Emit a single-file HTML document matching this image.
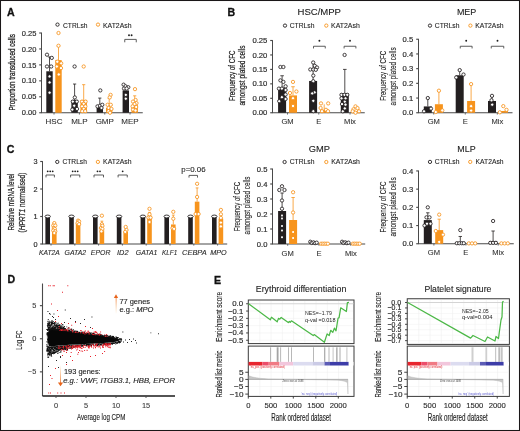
<!DOCTYPE html>
<html><head><meta charset="utf-8"><style>
html,body{margin:0;padding:0;background:#fff;width:520px;height:431px;overflow:hidden}
svg{display:block;will-change:transform}
</style></head><body>
<svg width="520" height="431" viewBox="0 0 520 431">
<rect width="520" height="431" fill="#fff"/>
<rect x="0.5" y="0.5" width="519" height="430" fill="none" stroke="#1a1718" stroke-width="1.05"/>
<text x="7.10" y="16.10" font-family="Liberation Sans" font-size="10.6" fill="#111" font-weight="bold" font-style="normal" text-anchor="start" stroke="#111" stroke-width="0.3" >A</text>
<text x="227.40" y="16.10" font-family="Liberation Sans" font-size="10.6" fill="#111" font-weight="bold" font-style="normal" text-anchor="start" stroke="#111" stroke-width="0.3" >B</text>
<text x="6.80" y="153.20" font-family="Liberation Sans" font-size="10.6" fill="#111" font-weight="bold" font-style="normal" text-anchor="start" stroke="#111" stroke-width="0.3" >C</text>
<text x="7.40" y="283.30" font-family="Liberation Sans" font-size="10.6" fill="#111" font-weight="bold" font-style="normal" text-anchor="start" stroke="#111" stroke-width="0.3" >D</text>
<text x="214.10" y="283.60" font-family="Liberation Sans" font-size="10.6" fill="#111" font-weight="bold" font-style="normal" text-anchor="start" stroke="#111" stroke-width="0.3" >E</text>
<line x1="41.50" y1="32.60" x2="41.50" y2="113.15" stroke="#4a4a4a" stroke-width="1.0" />
<line x1="39.20" y1="33.00" x2="41.50" y2="33.00" stroke="#4a4a4a" stroke-width="1.15" />
<text x="36.40" y="35.60" font-family="Liberation Sans" font-size="7.3" fill="#2e2e2e" font-weight="normal" font-style="normal" text-anchor="end" textLength="14.60" lengthAdjust="spacingAndGlyphs" stroke="#2e2e2e" stroke-width="0.18" >0.25</text>
<line x1="39.20" y1="48.95" x2="41.50" y2="48.95" stroke="#4a4a4a" stroke-width="1.15" />
<text x="36.40" y="51.55" font-family="Liberation Sans" font-size="7.3" fill="#2e2e2e" font-weight="normal" font-style="normal" text-anchor="end" textLength="14.60" lengthAdjust="spacingAndGlyphs" stroke="#2e2e2e" stroke-width="0.18" >0.20</text>
<line x1="39.20" y1="64.90" x2="41.50" y2="64.90" stroke="#4a4a4a" stroke-width="1.15" />
<text x="36.40" y="67.50" font-family="Liberation Sans" font-size="7.3" fill="#2e2e2e" font-weight="normal" font-style="normal" text-anchor="end" textLength="14.60" lengthAdjust="spacingAndGlyphs" stroke="#2e2e2e" stroke-width="0.18" >0.15</text>
<line x1="39.20" y1="80.85" x2="41.50" y2="80.85" stroke="#4a4a4a" stroke-width="1.15" />
<text x="36.40" y="83.45" font-family="Liberation Sans" font-size="7.3" fill="#2e2e2e" font-weight="normal" font-style="normal" text-anchor="end" textLength="14.60" lengthAdjust="spacingAndGlyphs" stroke="#2e2e2e" stroke-width="0.18" >0.10</text>
<line x1="39.20" y1="96.80" x2="41.50" y2="96.80" stroke="#4a4a4a" stroke-width="1.15" />
<text x="36.40" y="99.40" font-family="Liberation Sans" font-size="7.3" fill="#2e2e2e" font-weight="normal" font-style="normal" text-anchor="end" textLength="14.60" lengthAdjust="spacingAndGlyphs" stroke="#2e2e2e" stroke-width="0.18" >0.05</text>
<line x1="39.20" y1="112.75" x2="41.50" y2="112.75" stroke="#4a4a4a" stroke-width="1.15" />
<text x="36.40" y="115.35" font-family="Liberation Sans" font-size="7.3" fill="#2e2e2e" font-weight="normal" font-style="normal" text-anchor="end" textLength="14.60" lengthAdjust="spacingAndGlyphs" stroke="#2e2e2e" stroke-width="0.18" >0.00</text>
<line x1="41.50" y1="112.75" x2="142.75" y2="112.75" stroke="#4a4a4a" stroke-width="1.1" />
<circle cx="57.50" cy="24.60" r="1.65" fill="#fff" stroke="#231f20" stroke-width="0.9"/>
<text x="63.00" y="27.60" font-family="Liberation Sans" font-size="7.2" fill="#1e1e1e" font-weight="normal" font-style="normal" text-anchor="start" textLength="24.50" lengthAdjust="spacingAndGlyphs" stroke="#1e1e1e" stroke-width="0.1" >CTRLsh</text>
<circle cx="98.00" cy="24.60" r="1.65" fill="#fff" stroke="#f7941d" stroke-width="0.9"/>
<text x="103.00" y="27.60" font-family="Liberation Sans" font-size="7.2" fill="#1e1e1e" font-weight="normal" font-style="normal" text-anchor="start" textLength="28.50" lengthAdjust="spacingAndGlyphs" stroke="#1e1e1e" stroke-width="0.1" >KAT2Ash</text>
<text transform="translate(15.01,110.60) rotate(-90)" x="0" y="0" font-family="Liberation Sans" font-size="8.4" fill="#222" stroke="#222" stroke-width="0.28" font-style="normal" textLength="76.40" lengthAdjust="spacingAndGlyphs">Proportion transduced cells</text>
<line x1="54.00" y1="112.75" x2="54.00" y2="114.55" stroke="#4a4a4a" stroke-width="0.8" />
<text x="54.00" y="124.40" font-family="Liberation Sans" font-size="8.0" fill="#333" font-weight="normal" font-style="normal" text-anchor="middle" stroke="#333" stroke-width="0.1" >HSC</text>
<line x1="79.40" y1="112.75" x2="79.40" y2="114.55" stroke="#4a4a4a" stroke-width="0.8" />
<text x="79.40" y="124.40" font-family="Liberation Sans" font-size="8.0" fill="#333" font-weight="normal" font-style="normal" text-anchor="middle" stroke="#333" stroke-width="0.1" >MLP</text>
<line x1="104.75" y1="112.75" x2="104.75" y2="114.55" stroke="#4a4a4a" stroke-width="0.8" />
<text x="104.75" y="124.40" font-family="Liberation Sans" font-size="8.0" fill="#333" font-weight="normal" font-style="normal" text-anchor="middle" stroke="#333" stroke-width="0.1" >GMP</text>
<line x1="130.00" y1="112.75" x2="130.00" y2="114.55" stroke="#4a4a4a" stroke-width="0.8" />
<text x="130.00" y="124.40" font-family="Liberation Sans" font-size="8.0" fill="#333" font-weight="normal" font-style="normal" text-anchor="middle" stroke="#333" stroke-width="0.1" >MEP</text>
<rect x="46.30" y="71.28" width="6.40" height="41.47" fill="#231f20" />
<line x1="49.50" y1="71.28" x2="49.50" y2="56.93" stroke="#231f20" stroke-width="0.8" />
<line x1="47.90" y1="56.93" x2="51.10" y2="56.93" stroke="#231f20" stroke-width="0.8" />
<rect x="55.30" y="60.12" width="6.40" height="52.63" fill="#f7941d" />
<line x1="58.50" y1="60.12" x2="58.50" y2="45.76" stroke="#f7941d" stroke-width="0.8" />
<line x1="56.90" y1="45.76" x2="60.10" y2="45.76" stroke="#f7941d" stroke-width="0.8" />
<circle cx="47.00" cy="54.69" r="1.65" fill="#fff" stroke="#231f20" stroke-width="0.85"/>
<circle cx="51.80" cy="57.88" r="1.65" fill="#fff" stroke="#231f20" stroke-width="0.85"/>
<circle cx="47.00" cy="66.50" r="1.65" fill="#fff" stroke="#231f20" stroke-width="0.85"/>
<circle cx="51.20" cy="66.50" r="1.65" fill="#fff" stroke="#231f20" stroke-width="0.85"/>
<circle cx="49.60" cy="76.38" r="1.65" fill="#fff" stroke="#231f20" stroke-width="0.85"/>
<circle cx="49.60" cy="82.45" r="1.65" fill="#fff" stroke="#231f20" stroke-width="0.85"/>
<circle cx="49.60" cy="92.65" r="1.65" fill="#fff" stroke="#231f20" stroke-width="0.85"/>
<circle cx="58.50" cy="33.00" r="1.65" fill="#fff" stroke="#f7941d" stroke-width="0.85"/>
<circle cx="58.50" cy="45.76" r="1.65" fill="#fff" stroke="#f7941d" stroke-width="0.85"/>
<circle cx="57.30" cy="61.71" r="1.65" fill="#fff" stroke="#f7941d" stroke-width="0.85"/>
<circle cx="61.20" cy="63.31" r="1.65" fill="#fff" stroke="#f7941d" stroke-width="0.85"/>
<circle cx="56.80" cy="66.50" r="1.65" fill="#fff" stroke="#f7941d" stroke-width="0.85"/>
<circle cx="61.00" cy="68.09" r="1.65" fill="#fff" stroke="#f7941d" stroke-width="0.85"/>
<circle cx="58.80" cy="74.47" r="1.65" fill="#fff" stroke="#f7941d" stroke-width="0.85"/>
<rect x="71.40" y="99.99" width="6.40" height="12.76" fill="#231f20" />
<line x1="74.60" y1="99.99" x2="74.60" y2="84.04" stroke="#231f20" stroke-width="0.8" />
<line x1="73.00" y1="84.04" x2="76.20" y2="84.04" stroke="#231f20" stroke-width="0.8" />
<rect x="80.50" y="99.99" width="6.40" height="12.76" fill="#f7941d" />
<line x1="83.70" y1="99.99" x2="83.70" y2="84.68" stroke="#f7941d" stroke-width="0.8" />
<line x1="82.10" y1="84.68" x2="85.30" y2="84.68" stroke="#f7941d" stroke-width="0.8" />
<circle cx="74.60" cy="66.50" r="1.65" fill="#fff" stroke="#231f20" stroke-width="0.85"/>
<circle cx="74.80" cy="97.44" r="1.65" fill="#fff" stroke="#231f20" stroke-width="0.85"/>
<circle cx="72.80" cy="101.59" r="1.65" fill="#fff" stroke="#231f20" stroke-width="0.85"/>
<circle cx="76.80" cy="101.59" r="1.65" fill="#fff" stroke="#231f20" stroke-width="0.85"/>
<circle cx="74.20" cy="105.73" r="1.65" fill="#fff" stroke="#231f20" stroke-width="0.85"/>
<circle cx="72.30" cy="109.56" r="1.65" fill="#fff" stroke="#231f20" stroke-width="0.85"/>
<circle cx="77.00" cy="108.92" r="1.65" fill="#fff" stroke="#231f20" stroke-width="0.85"/>
<circle cx="83.70" cy="66.50" r="1.65" fill="#fff" stroke="#f7941d" stroke-width="0.85"/>
<circle cx="82.00" cy="101.59" r="1.65" fill="#fff" stroke="#f7941d" stroke-width="0.85"/>
<circle cx="85.60" cy="101.59" r="1.65" fill="#fff" stroke="#f7941d" stroke-width="0.85"/>
<circle cx="83.70" cy="103.82" r="1.65" fill="#fff" stroke="#f7941d" stroke-width="0.85"/>
<circle cx="82.00" cy="106.37" r="1.65" fill="#fff" stroke="#f7941d" stroke-width="0.85"/>
<circle cx="85.40" cy="106.37" r="1.65" fill="#fff" stroke="#f7941d" stroke-width="0.85"/>
<circle cx="83.70" cy="108.92" r="1.65" fill="#fff" stroke="#f7941d" stroke-width="0.85"/>
<circle cx="82.20" cy="111.16" r="1.65" fill="#fff" stroke="#f7941d" stroke-width="0.85"/>
<circle cx="85.20" cy="111.16" r="1.65" fill="#fff" stroke="#f7941d" stroke-width="0.85"/>
<rect x="96.60" y="107.33" width="6.40" height="5.42" fill="#231f20" />
<line x1="99.80" y1="107.33" x2="99.80" y2="98.08" stroke="#231f20" stroke-width="0.8" />
<line x1="98.20" y1="98.08" x2="101.40" y2="98.08" stroke="#231f20" stroke-width="0.8" />
<rect x="106.00" y="107.97" width="6.40" height="4.78" fill="#f7941d" />
<line x1="109.20" y1="107.97" x2="109.20" y2="98.40" stroke="#f7941d" stroke-width="0.8" />
<line x1="107.60" y1="98.40" x2="110.80" y2="98.40" stroke="#f7941d" stroke-width="0.8" />
<circle cx="100.30" cy="90.42" r="1.65" fill="#fff" stroke="#231f20" stroke-width="0.85"/>
<circle cx="97.50" cy="106.37" r="1.65" fill="#fff" stroke="#231f20" stroke-width="0.85"/>
<circle cx="100.00" cy="105.73" r="1.65" fill="#fff" stroke="#231f20" stroke-width="0.85"/>
<circle cx="102.30" cy="104.78" r="1.65" fill="#fff" stroke="#231f20" stroke-width="0.85"/>
<circle cx="101.50" cy="107.97" r="1.65" fill="#fff" stroke="#231f20" stroke-width="0.85"/>
<circle cx="110.60" cy="94.89" r="1.65" fill="#fff" stroke="#f7941d" stroke-width="0.85"/>
<circle cx="109.70" cy="97.44" r="1.65" fill="#fff" stroke="#f7941d" stroke-width="0.85"/>
<circle cx="107.60" cy="104.78" r="1.65" fill="#fff" stroke="#f7941d" stroke-width="0.85"/>
<circle cx="110.80" cy="104.78" r="1.65" fill="#fff" stroke="#f7941d" stroke-width="0.85"/>
<circle cx="108.60" cy="107.97" r="1.65" fill="#fff" stroke="#f7941d" stroke-width="0.85"/>
<circle cx="111.50" cy="108.92" r="1.65" fill="#fff" stroke="#f7941d" stroke-width="0.85"/>
<circle cx="108.50" cy="111.16" r="1.65" fill="#fff" stroke="#f7941d" stroke-width="0.85"/>
<circle cx="110.00" cy="112.75" r="1.65" fill="#fff" stroke="#f7941d" stroke-width="0.85"/>
<rect x="122.60" y="90.42" width="6.40" height="22.33" fill="#231f20" />
<line x1="125.80" y1="90.42" x2="125.80" y2="87.23" stroke="#231f20" stroke-width="0.8" />
<line x1="124.20" y1="87.23" x2="127.40" y2="87.23" stroke="#231f20" stroke-width="0.8" />
<rect x="131.50" y="104.78" width="6.40" height="7.97" fill="#f7941d" />
<line x1="134.70" y1="104.78" x2="134.70" y2="95.84" stroke="#f7941d" stroke-width="0.8" />
<line x1="133.10" y1="95.84" x2="136.30" y2="95.84" stroke="#f7941d" stroke-width="0.8" />
<circle cx="123.60" cy="84.68" r="1.65" fill="#fff" stroke="#231f20" stroke-width="0.85"/>
<circle cx="125.50" cy="86.27" r="1.65" fill="#fff" stroke="#231f20" stroke-width="0.85"/>
<circle cx="128.30" cy="87.23" r="1.65" fill="#fff" stroke="#231f20" stroke-width="0.85"/>
<circle cx="124.00" cy="88.51" r="1.65" fill="#fff" stroke="#231f20" stroke-width="0.85"/>
<circle cx="126.60" cy="88.51" r="1.65" fill="#fff" stroke="#231f20" stroke-width="0.85"/>
<circle cx="125.80" cy="94.89" r="1.65" fill="#fff" stroke="#231f20" stroke-width="0.85"/>
<circle cx="125.80" cy="98.71" r="1.65" fill="#fff" stroke="#231f20" stroke-width="0.85"/>
<circle cx="135.00" cy="89.14" r="1.65" fill="#fff" stroke="#f7941d" stroke-width="0.85"/>
<circle cx="135.60" cy="99.99" r="1.65" fill="#fff" stroke="#f7941d" stroke-width="0.85"/>
<circle cx="133.00" cy="101.59" r="1.65" fill="#fff" stroke="#f7941d" stroke-width="0.85"/>
<circle cx="136.50" cy="103.18" r="1.65" fill="#fff" stroke="#f7941d" stroke-width="0.85"/>
<circle cx="134.50" cy="104.14" r="1.65" fill="#fff" stroke="#f7941d" stroke-width="0.85"/>
<circle cx="132.60" cy="106.37" r="1.65" fill="#fff" stroke="#f7941d" stroke-width="0.85"/>
<circle cx="136.20" cy="107.01" r="1.65" fill="#fff" stroke="#f7941d" stroke-width="0.85"/>
<circle cx="133.00" cy="109.56" r="1.65" fill="#fff" stroke="#f7941d" stroke-width="0.85"/>
<circle cx="135.50" cy="110.52" r="1.65" fill="#fff" stroke="#f7941d" stroke-width="0.85"/>
<path d="M124.75 42.30 V39.40 H136.25 V42.30" fill="none" stroke="#4a4a4a" stroke-width="0.9"/>
<circle cx="129.00" cy="35.30" r="0.95" fill="#1e1e1e"/>
<circle cx="131.60" cy="35.30" r="0.95" fill="#1e1e1e"/>
<line x1="272.50" y1="40.10" x2="272.50" y2="113.15" stroke="#4a4a4a" stroke-width="1.0" />
<line x1="270.20" y1="40.50" x2="272.50" y2="40.50" stroke="#4a4a4a" stroke-width="1.15" />
<text x="267.40" y="43.10" font-family="Liberation Sans" font-size="7.3" fill="#2e2e2e" font-weight="normal" font-style="normal" text-anchor="end" textLength="15.00" lengthAdjust="spacingAndGlyphs" stroke="#2e2e2e" stroke-width="0.18" >0.25</text>
<line x1="270.20" y1="54.95" x2="272.50" y2="54.95" stroke="#4a4a4a" stroke-width="1.15" />
<text x="267.40" y="57.55" font-family="Liberation Sans" font-size="7.3" fill="#2e2e2e" font-weight="normal" font-style="normal" text-anchor="end" textLength="15.00" lengthAdjust="spacingAndGlyphs" stroke="#2e2e2e" stroke-width="0.18" >0.20</text>
<line x1="270.20" y1="69.40" x2="272.50" y2="69.40" stroke="#4a4a4a" stroke-width="1.15" />
<text x="267.40" y="72.00" font-family="Liberation Sans" font-size="7.3" fill="#2e2e2e" font-weight="normal" font-style="normal" text-anchor="end" textLength="15.00" lengthAdjust="spacingAndGlyphs" stroke="#2e2e2e" stroke-width="0.18" >0.15</text>
<line x1="270.20" y1="83.85" x2="272.50" y2="83.85" stroke="#4a4a4a" stroke-width="1.15" />
<text x="267.40" y="86.45" font-family="Liberation Sans" font-size="7.3" fill="#2e2e2e" font-weight="normal" font-style="normal" text-anchor="end" textLength="15.00" lengthAdjust="spacingAndGlyphs" stroke="#2e2e2e" stroke-width="0.18" >0.10</text>
<line x1="270.20" y1="98.30" x2="272.50" y2="98.30" stroke="#4a4a4a" stroke-width="1.15" />
<text x="267.40" y="100.90" font-family="Liberation Sans" font-size="7.3" fill="#2e2e2e" font-weight="normal" font-style="normal" text-anchor="end" textLength="15.00" lengthAdjust="spacingAndGlyphs" stroke="#2e2e2e" stroke-width="0.18" >0.05</text>
<line x1="270.20" y1="112.75" x2="272.50" y2="112.75" stroke="#4a4a4a" stroke-width="1.15" />
<text x="267.40" y="115.35" font-family="Liberation Sans" font-size="7.3" fill="#2e2e2e" font-weight="normal" font-style="normal" text-anchor="end" textLength="15.00" lengthAdjust="spacingAndGlyphs" stroke="#2e2e2e" stroke-width="0.18" >0.00</text>
<line x1="272.50" y1="112.75" x2="364.75" y2="112.75" stroke="#4a4a4a" stroke-width="1.1" />
<line x1="287.50" y1="112.75" x2="287.50" y2="114.55" stroke="#4a4a4a" stroke-width="0.8" />
<text x="287.50" y="124.35" font-family="Liberation Sans" font-size="7.6" fill="#333" font-weight="normal" font-style="normal" text-anchor="middle" stroke="#333" stroke-width="0.1" >GM</text>
<line x1="318.75" y1="112.75" x2="318.75" y2="114.55" stroke="#4a4a4a" stroke-width="0.8" />
<text x="318.75" y="124.35" font-family="Liberation Sans" font-size="7.6" fill="#333" font-weight="normal" font-style="normal" text-anchor="middle" stroke="#333" stroke-width="0.1" >E</text>
<line x1="350.00" y1="112.75" x2="350.00" y2="114.55" stroke="#4a4a4a" stroke-width="0.8" />
<text x="350.00" y="124.35" font-family="Liberation Sans" font-size="7.6" fill="#333" font-weight="normal" font-style="normal" text-anchor="middle" stroke="#333" stroke-width="0.1" >Mix</text>
<circle cx="285.00" cy="25.60" r="1.65" fill="#fff" stroke="#231f20" stroke-width="0.9"/>
<text x="289.70" y="27.75" font-family="Liberation Sans" font-size="7.0" fill="#1e1e1e" font-weight="normal" font-style="normal" text-anchor="start" textLength="24.70" lengthAdjust="spacingAndGlyphs" stroke="#1e1e1e" stroke-width="0.1" >CTRLsh</text>
<circle cx="326.30" cy="25.60" r="1.65" fill="#fff" stroke="#f7941d" stroke-width="0.9"/>
<text x="331.00" y="27.75" font-family="Liberation Sans" font-size="7.0" fill="#1e1e1e" font-weight="normal" font-style="normal" text-anchor="start" textLength="28.80" lengthAdjust="spacingAndGlyphs" stroke="#1e1e1e" stroke-width="0.1" >KAT2Ash</text>
<text x="297.50" y="15.20" font-family="Liberation Sans" font-size="8.8" fill="#222" font-weight="normal" font-style="normal" text-anchor="start" textLength="43.50" lengthAdjust="spacingAndGlyphs" stroke="#222" stroke-width="0.1" >HSC/MPP</text>
<text transform="translate(234.71,101.00) rotate(-90)" x="0" y="0" font-family="Liberation Sans" font-size="8.9" fill="#222" stroke="#222" stroke-width="0.22" font-style="normal" textLength="50.50" lengthAdjust="spacingAndGlyphs">Frequency of CFC</text>
<text transform="translate(245.21,105.60) rotate(-90)" x="0" y="0" font-family="Liberation Sans" font-size="8.9" fill="#222" stroke="#222" stroke-width="0.22" font-style="normal" textLength="60.10" lengthAdjust="spacingAndGlyphs">amongst plated cells</text>
<rect x="278.10" y="87.61" width="8.00" height="25.14" fill="#231f20" />
<line x1="282.10" y1="87.61" x2="282.10" y2="75.76" stroke="#231f20" stroke-width="0.8" />
<line x1="280.30" y1="75.76" x2="283.90" y2="75.76" stroke="#231f20" stroke-width="0.8" />
<rect x="289.00" y="95.41" width="8.00" height="17.34" fill="#f7941d" />
<line x1="293.00" y1="95.41" x2="293.00" y2="86.74" stroke="#f7941d" stroke-width="0.8" />
<line x1="291.20" y1="86.74" x2="294.80" y2="86.74" stroke="#f7941d" stroke-width="0.8" />
<circle cx="280.40" cy="67.00" r="1.65" fill="#fff" stroke="#231f20" stroke-width="0.85"/>
<circle cx="283.40" cy="67.00" r="1.65" fill="#fff" stroke="#231f20" stroke-width="0.85"/>
<circle cx="280.40" cy="80.40" r="1.65" fill="#fff" stroke="#231f20" stroke-width="0.85"/>
<circle cx="283.40" cy="81.90" r="1.65" fill="#fff" stroke="#231f20" stroke-width="0.85"/>
<circle cx="278.90" cy="88.60" r="1.65" fill="#fff" stroke="#231f20" stroke-width="0.85"/>
<circle cx="281.90" cy="88.60" r="1.65" fill="#fff" stroke="#231f20" stroke-width="0.85"/>
<circle cx="285.60" cy="86.30" r="1.65" fill="#fff" stroke="#231f20" stroke-width="0.85"/>
<circle cx="285.60" cy="90.00" r="1.65" fill="#fff" stroke="#231f20" stroke-width="0.85"/>
<circle cx="281.90" cy="97.20" r="1.65" fill="#fff" stroke="#231f20" stroke-width="0.85"/>
<circle cx="285.60" cy="94.50" r="1.65" fill="#fff" stroke="#231f20" stroke-width="0.85"/>
<circle cx="285.60" cy="99.00" r="1.65" fill="#fff" stroke="#231f20" stroke-width="0.85"/>
<circle cx="279.20" cy="101.20" r="1.65" fill="#fff" stroke="#231f20" stroke-width="0.85"/>
<circle cx="293.00" cy="81.90" r="1.65" fill="#fff" stroke="#f7941d" stroke-width="0.85"/>
<circle cx="290.00" cy="93.00" r="1.65" fill="#fff" stroke="#f7941d" stroke-width="0.85"/>
<circle cx="296.40" cy="91.50" r="1.65" fill="#fff" stroke="#f7941d" stroke-width="0.85"/>
<circle cx="293.00" cy="98.20" r="1.65" fill="#fff" stroke="#f7941d" stroke-width="0.85"/>
<circle cx="293.00" cy="106.00" r="1.65" fill="#fff" stroke="#f7941d" stroke-width="0.85"/>
<rect x="309.10" y="80.96" width="8.00" height="31.79" fill="#231f20" />
<line x1="313.10" y1="80.96" x2="313.10" y2="62.50" stroke="#231f20" stroke-width="0.8" />
<circle cx="313.20" cy="62.50" r="1.65" fill="#fff" stroke="#231f20" stroke-width="0.85"/>
<circle cx="314.80" cy="65.80" r="1.65" fill="#fff" stroke="#231f20" stroke-width="0.85"/>
<circle cx="317.00" cy="67.50" r="1.65" fill="#fff" stroke="#231f20" stroke-width="0.85"/>
<circle cx="310.30" cy="69.50" r="1.65" fill="#fff" stroke="#231f20" stroke-width="0.85"/>
<circle cx="313.30" cy="69.50" r="1.65" fill="#fff" stroke="#231f20" stroke-width="0.85"/>
<circle cx="315.80" cy="69.80" r="1.65" fill="#fff" stroke="#231f20" stroke-width="0.85"/>
<circle cx="313.30" cy="75.60" r="1.65" fill="#fff" stroke="#231f20" stroke-width="0.85"/>
<circle cx="313.30" cy="81.20" r="1.65" fill="#fff" stroke="#231f20" stroke-width="0.85"/>
<circle cx="314.60" cy="92.40" r="1.65" fill="#fff" stroke="#231f20" stroke-width="0.85"/>
<circle cx="312.20" cy="93.40" r="1.65" fill="#fff" stroke="#231f20" stroke-width="0.85"/>
<circle cx="313.30" cy="100.80" r="1.65" fill="#fff" stroke="#231f20" stroke-width="0.85"/>
<circle cx="313.30" cy="111.20" r="1.65" fill="#fff" stroke="#231f20" stroke-width="0.85"/>
<rect x="320.20" y="109.86" width="8.00" height="2.89" fill="#f7941d" />
<line x1="324.20" y1="109.86" x2="324.20" y2="104.40" stroke="#f7941d" stroke-width="0.8" />
<line x1="324.15" y1="104.40" x2="324.25" y2="104.40" stroke="#f7941d" stroke-width="0.8" />
<circle cx="321.00" cy="103.40" r="1.65" fill="#fff" stroke="#f7941d" stroke-width="0.85"/>
<circle cx="328.20" cy="103.40" r="1.65" fill="#fff" stroke="#f7941d" stroke-width="0.85"/>
<circle cx="320.60" cy="108.00" r="1.65" fill="#fff" stroke="#f7941d" stroke-width="0.85"/>
<circle cx="326.00" cy="109.80" r="1.65" fill="#fff" stroke="#f7941d" stroke-width="0.85"/>
<circle cx="322.00" cy="111.20" r="1.65" fill="#fff" stroke="#f7941d" stroke-width="0.85"/>
<circle cx="328.00" cy="111.20" r="1.65" fill="#fff" stroke="#f7941d" stroke-width="0.85"/>
<rect x="340.80" y="93.39" width="8.00" height="19.36" fill="#231f20" />
<line x1="344.80" y1="93.39" x2="344.80" y2="69.40" stroke="#231f20" stroke-width="0.8" />
<line x1="343.00" y1="69.40" x2="346.60" y2="69.40" stroke="#231f20" stroke-width="0.8" />
<circle cx="344.60" cy="54.95" r="1.65" fill="#fff" stroke="#231f20" stroke-width="0.85"/>
<circle cx="341.50" cy="94.83" r="1.65" fill="#fff" stroke="#231f20" stroke-width="0.85"/>
<circle cx="344.50" cy="94.83" r="1.65" fill="#fff" stroke="#231f20" stroke-width="0.85"/>
<circle cx="347.30" cy="94.83" r="1.65" fill="#fff" stroke="#231f20" stroke-width="0.85"/>
<circle cx="341.50" cy="98.30" r="1.65" fill="#fff" stroke="#231f20" stroke-width="0.85"/>
<circle cx="345.50" cy="98.30" r="1.65" fill="#fff" stroke="#231f20" stroke-width="0.85"/>
<circle cx="344.80" cy="101.77" r="1.65" fill="#fff" stroke="#231f20" stroke-width="0.85"/>
<circle cx="342.00" cy="104.08" r="1.65" fill="#fff" stroke="#231f20" stroke-width="0.85"/>
<circle cx="345.50" cy="104.66" r="1.65" fill="#fff" stroke="#231f20" stroke-width="0.85"/>
<circle cx="344.80" cy="108.42" r="1.65" fill="#fff" stroke="#231f20" stroke-width="0.85"/>
<circle cx="342.80" cy="111.31" r="1.65" fill="#fff" stroke="#231f20" stroke-width="0.85"/>
<rect x="351.70" y="111.02" width="8.00" height="1.73" fill="#f7941d" />
<circle cx="355.50" cy="106.39" r="1.65" fill="#fff" stroke="#f7941d" stroke-width="0.85"/>
<circle cx="353.50" cy="109.28" r="1.65" fill="#fff" stroke="#f7941d" stroke-width="0.85"/>
<circle cx="357.50" cy="108.13" r="1.65" fill="#fff" stroke="#f7941d" stroke-width="0.85"/>
<circle cx="352.70" cy="111.31" r="1.65" fill="#fff" stroke="#f7941d" stroke-width="0.85"/>
<circle cx="359.00" cy="111.31" r="1.65" fill="#fff" stroke="#f7941d" stroke-width="0.85"/>
<circle cx="355.50" cy="112.75" r="1.65" fill="#fff" stroke="#f7941d" stroke-width="0.85"/>
<path d="M313.50 48.45 V46.25 H325.25 V48.45" fill="none" stroke="#4a4a4a" stroke-width="0.9"/>
<circle cx="319.40" cy="40.80" r="0.95" fill="#1e1e1e"/>
<path d="M344.10 48.45 V46.25 H355.90 V48.45" fill="none" stroke="#4a4a4a" stroke-width="0.9"/>
<circle cx="350.00" cy="40.80" r="0.95" fill="#1e1e1e"/>
<line x1="418.50" y1="38.85" x2="418.50" y2="113.15" stroke="#4a4a4a" stroke-width="1.0" />
<line x1="416.20" y1="39.25" x2="418.50" y2="39.25" stroke="#4a4a4a" stroke-width="1.15" />
<text x="413.20" y="41.85" font-family="Liberation Sans" font-size="7.3" fill="#2e2e2e" font-weight="normal" font-style="normal" text-anchor="end" textLength="10.60" lengthAdjust="spacingAndGlyphs" stroke="#2e2e2e" stroke-width="0.18" >0.5</text>
<line x1="416.20" y1="53.95" x2="418.50" y2="53.95" stroke="#4a4a4a" stroke-width="1.15" />
<text x="413.20" y="56.55" font-family="Liberation Sans" font-size="7.3" fill="#2e2e2e" font-weight="normal" font-style="normal" text-anchor="end" textLength="10.60" lengthAdjust="spacingAndGlyphs" stroke="#2e2e2e" stroke-width="0.18" >0.4</text>
<line x1="416.20" y1="68.65" x2="418.50" y2="68.65" stroke="#4a4a4a" stroke-width="1.15" />
<text x="413.20" y="71.25" font-family="Liberation Sans" font-size="7.3" fill="#2e2e2e" font-weight="normal" font-style="normal" text-anchor="end" textLength="10.60" lengthAdjust="spacingAndGlyphs" stroke="#2e2e2e" stroke-width="0.18" >0.3</text>
<line x1="416.20" y1="83.35" x2="418.50" y2="83.35" stroke="#4a4a4a" stroke-width="1.15" />
<text x="413.20" y="85.95" font-family="Liberation Sans" font-size="7.3" fill="#2e2e2e" font-weight="normal" font-style="normal" text-anchor="end" textLength="10.60" lengthAdjust="spacingAndGlyphs" stroke="#2e2e2e" stroke-width="0.18" >0.2</text>
<line x1="416.20" y1="98.05" x2="418.50" y2="98.05" stroke="#4a4a4a" stroke-width="1.15" />
<text x="413.20" y="100.65" font-family="Liberation Sans" font-size="7.3" fill="#2e2e2e" font-weight="normal" font-style="normal" text-anchor="end" textLength="10.60" lengthAdjust="spacingAndGlyphs" stroke="#2e2e2e" stroke-width="0.18" >0.1</text>
<line x1="416.20" y1="112.75" x2="418.50" y2="112.75" stroke="#4a4a4a" stroke-width="1.15" />
<text x="413.20" y="115.35" font-family="Liberation Sans" font-size="7.3" fill="#2e2e2e" font-weight="normal" font-style="normal" text-anchor="end" textLength="10.60" lengthAdjust="spacingAndGlyphs" stroke="#2e2e2e" stroke-width="0.18" >0.0</text>
<line x1="418.50" y1="112.75" x2="512.50" y2="112.75" stroke="#4a4a4a" stroke-width="1.1" />
<line x1="433.75" y1="112.75" x2="433.75" y2="114.55" stroke="#4a4a4a" stroke-width="0.8" />
<text x="433.75" y="124.35" font-family="Liberation Sans" font-size="7.6" fill="#333" font-weight="normal" font-style="normal" text-anchor="middle" stroke="#333" stroke-width="0.1" >GM</text>
<line x1="465.25" y1="112.75" x2="465.25" y2="114.55" stroke="#4a4a4a" stroke-width="0.8" />
<text x="465.25" y="124.35" font-family="Liberation Sans" font-size="7.6" fill="#333" font-weight="normal" font-style="normal" text-anchor="middle" stroke="#333" stroke-width="0.1" >E</text>
<line x1="497.30" y1="112.75" x2="497.30" y2="114.55" stroke="#4a4a4a" stroke-width="0.8" />
<text x="497.30" y="124.35" font-family="Liberation Sans" font-size="7.6" fill="#333" font-weight="normal" font-style="normal" text-anchor="middle" stroke="#333" stroke-width="0.1" >Mix</text>
<circle cx="430.00" cy="25.60" r="1.65" fill="#fff" stroke="#231f20" stroke-width="0.9"/>
<text x="434.80" y="27.75" font-family="Liberation Sans" font-size="7.0" fill="#1e1e1e" font-weight="normal" font-style="normal" text-anchor="start" textLength="24.70" lengthAdjust="spacingAndGlyphs" stroke="#1e1e1e" stroke-width="0.1" >CTRLsh</text>
<circle cx="470.40" cy="25.60" r="1.65" fill="#fff" stroke="#f7941d" stroke-width="0.9"/>
<text x="475.30" y="27.75" font-family="Liberation Sans" font-size="7.0" fill="#1e1e1e" font-weight="normal" font-style="normal" text-anchor="start" textLength="28.30" lengthAdjust="spacingAndGlyphs" stroke="#1e1e1e" stroke-width="0.1" >KAT2Ash</text>
<text x="456.90" y="15.20" font-family="Liberation Sans" font-size="8.8" fill="#222" font-weight="normal" font-style="normal" text-anchor="start" textLength="19.40" lengthAdjust="spacingAndGlyphs" stroke="#222" stroke-width="0.1" >MEP</text>
<text transform="translate(386.01,100.80) rotate(-90)" x="0" y="0" font-family="Liberation Sans" font-size="8.9" fill="#222" stroke="#222" stroke-width="0.12" font-style="normal" textLength="49.90" lengthAdjust="spacingAndGlyphs">Frequency of CFC</text>
<text transform="translate(395.81,105.40) rotate(-90)" x="0" y="0" font-family="Liberation Sans" font-size="8.9" fill="#222" stroke="#222" stroke-width="0.12" font-style="normal" textLength="58.00" lengthAdjust="spacingAndGlyphs">amongst plated cells</text>
<rect x="423.80" y="106.43" width="8.00" height="6.32" fill="#231f20" />
<line x1="427.80" y1="106.43" x2="427.80" y2="98.05" stroke="#231f20" stroke-width="0.8" />
<line x1="426.10" y1="98.05" x2="429.50" y2="98.05" stroke="#231f20" stroke-width="0.8" />
<circle cx="427.80" cy="98.05" r="1.65" fill="#fff" stroke="#231f20" stroke-width="0.85"/>
<circle cx="424.00" cy="111.28" r="1.65" fill="#fff" stroke="#231f20" stroke-width="0.85"/>
<circle cx="431.00" cy="108.63" r="1.65" fill="#fff" stroke="#231f20" stroke-width="0.85"/>
<rect x="434.90" y="104.22" width="8.00" height="8.53" fill="#f7941d" />
<line x1="438.90" y1="104.22" x2="438.90" y2="90.70" stroke="#f7941d" stroke-width="0.8" />
<line x1="437.20" y1="90.70" x2="440.60" y2="90.70" stroke="#f7941d" stroke-width="0.8" />
<circle cx="438.90" cy="90.70" r="1.65" fill="#fff" stroke="#f7941d" stroke-width="0.85"/>
<circle cx="435.80" cy="112.02" r="1.65" fill="#fff" stroke="#f7941d" stroke-width="0.85"/>
<circle cx="442.30" cy="110.40" r="1.65" fill="#fff" stroke="#f7941d" stroke-width="0.85"/>
<rect x="455.70" y="75.27" width="8.00" height="37.48" fill="#231f20" />
<line x1="459.70" y1="75.27" x2="459.70" y2="70.12" stroke="#231f20" stroke-width="0.8" />
<line x1="458.00" y1="70.12" x2="461.40" y2="70.12" stroke="#231f20" stroke-width="0.8" />
<circle cx="459.70" cy="70.12" r="1.65" fill="#fff" stroke="#231f20" stroke-width="0.85"/>
<circle cx="456.20" cy="77.47" r="1.65" fill="#fff" stroke="#231f20" stroke-width="0.85"/>
<circle cx="463.50" cy="74.53" r="1.65" fill="#fff" stroke="#231f20" stroke-width="0.85"/>
<rect x="467.10" y="100.99" width="8.00" height="11.76" fill="#f7941d" />
<line x1="471.10" y1="100.99" x2="471.10" y2="84.09" stroke="#f7941d" stroke-width="0.8" />
<line x1="469.40" y1="84.09" x2="472.80" y2="84.09" stroke="#f7941d" stroke-width="0.8" />
<circle cx="471.10" cy="84.09" r="1.65" fill="#fff" stroke="#f7941d" stroke-width="0.85"/>
<circle cx="471.10" cy="106.14" r="1.65" fill="#fff" stroke="#f7941d" stroke-width="0.85"/>
<circle cx="471.10" cy="110.55" r="1.65" fill="#fff" stroke="#f7941d" stroke-width="0.85"/>
<rect x="488.00" y="100.99" width="8.00" height="11.76" fill="#231f20" />
<line x1="492.00" y1="100.99" x2="492.00" y2="95.84" stroke="#231f20" stroke-width="0.8" />
<line x1="490.30" y1="95.84" x2="493.70" y2="95.84" stroke="#231f20" stroke-width="0.8" />
<circle cx="492.00" cy="95.84" r="1.65" fill="#fff" stroke="#231f20" stroke-width="0.85"/>
<circle cx="491.50" cy="100.25" r="1.65" fill="#fff" stroke="#231f20" stroke-width="0.85"/>
<circle cx="492.20" cy="104.67" r="1.65" fill="#fff" stroke="#231f20" stroke-width="0.85"/>
<rect x="498.90" y="110.99" width="9.00" height="1.76" fill="#f7941d" />
<circle cx="503.30" cy="106.14" r="1.65" fill="#fff" stroke="#f7941d" stroke-width="0.85"/>
<circle cx="506.50" cy="109.81" r="1.65" fill="#fff" stroke="#f7941d" stroke-width="0.85"/>
<circle cx="499.80" cy="112.31" r="1.65" fill="#fff" stroke="#f7941d" stroke-width="0.85"/>
<path d="M460.25 48.45 V46.25 H472.10 V48.45" fill="none" stroke="#4a4a4a" stroke-width="0.9"/>
<circle cx="466.20" cy="40.80" r="0.95" fill="#1e1e1e"/>
<path d="M491.25 48.45 V46.25 H503.75 V48.45" fill="none" stroke="#4a4a4a" stroke-width="0.9"/>
<circle cx="497.50" cy="40.80" r="0.95" fill="#1e1e1e"/>
<line x1="272.50" y1="168.60" x2="272.50" y2="244.40" stroke="#4a4a4a" stroke-width="1.0" />
<line x1="270.20" y1="169.00" x2="272.50" y2="169.00" stroke="#4a4a4a" stroke-width="1.15" />
<text x="267.40" y="171.60" font-family="Liberation Sans" font-size="7.3" fill="#2e2e2e" font-weight="normal" font-style="normal" text-anchor="end" textLength="10.60" lengthAdjust="spacingAndGlyphs" stroke="#2e2e2e" stroke-width="0.18" >0.5</text>
<line x1="270.20" y1="184.00" x2="272.50" y2="184.00" stroke="#4a4a4a" stroke-width="1.15" />
<text x="267.40" y="186.60" font-family="Liberation Sans" font-size="7.3" fill="#2e2e2e" font-weight="normal" font-style="normal" text-anchor="end" textLength="10.60" lengthAdjust="spacingAndGlyphs" stroke="#2e2e2e" stroke-width="0.18" >0.4</text>
<line x1="270.20" y1="199.00" x2="272.50" y2="199.00" stroke="#4a4a4a" stroke-width="1.15" />
<text x="267.40" y="201.60" font-family="Liberation Sans" font-size="7.3" fill="#2e2e2e" font-weight="normal" font-style="normal" text-anchor="end" textLength="10.60" lengthAdjust="spacingAndGlyphs" stroke="#2e2e2e" stroke-width="0.18" >0.3</text>
<line x1="270.20" y1="214.00" x2="272.50" y2="214.00" stroke="#4a4a4a" stroke-width="1.15" />
<text x="267.40" y="216.60" font-family="Liberation Sans" font-size="7.3" fill="#2e2e2e" font-weight="normal" font-style="normal" text-anchor="end" textLength="10.60" lengthAdjust="spacingAndGlyphs" stroke="#2e2e2e" stroke-width="0.18" >0.2</text>
<line x1="270.20" y1="229.00" x2="272.50" y2="229.00" stroke="#4a4a4a" stroke-width="1.15" />
<text x="267.40" y="231.60" font-family="Liberation Sans" font-size="7.3" fill="#2e2e2e" font-weight="normal" font-style="normal" text-anchor="end" textLength="10.60" lengthAdjust="spacingAndGlyphs" stroke="#2e2e2e" stroke-width="0.18" >0.1</text>
<line x1="270.20" y1="244.00" x2="272.50" y2="244.00" stroke="#4a4a4a" stroke-width="1.15" />
<text x="267.40" y="246.60" font-family="Liberation Sans" font-size="7.3" fill="#2e2e2e" font-weight="normal" font-style="normal" text-anchor="end" textLength="10.60" lengthAdjust="spacingAndGlyphs" stroke="#2e2e2e" stroke-width="0.18" >0.0</text>
<line x1="272.50" y1="244.00" x2="365.20" y2="244.00" stroke="#4a4a4a" stroke-width="1.1" />
<line x1="287.70" y1="244.00" x2="287.70" y2="245.80" stroke="#4a4a4a" stroke-width="0.8" />
<text x="287.70" y="255.60" font-family="Liberation Sans" font-size="7.6" fill="#333" font-weight="normal" font-style="normal" text-anchor="middle" stroke="#333" stroke-width="0.1" >GM</text>
<line x1="319.00" y1="244.00" x2="319.00" y2="245.80" stroke="#4a4a4a" stroke-width="0.8" />
<text x="319.00" y="255.60" font-family="Liberation Sans" font-size="7.6" fill="#333" font-weight="normal" font-style="normal" text-anchor="middle" stroke="#333" stroke-width="0.1" >E</text>
<line x1="350.80" y1="244.00" x2="350.80" y2="245.80" stroke="#4a4a4a" stroke-width="0.8" />
<text x="350.80" y="255.60" font-family="Liberation Sans" font-size="7.6" fill="#333" font-weight="normal" font-style="normal" text-anchor="middle" stroke="#333" stroke-width="0.1" >Mix</text>
<circle cx="284.60" cy="162.00" r="1.65" fill="#fff" stroke="#231f20" stroke-width="0.9"/>
<text x="289.70" y="163.75" font-family="Liberation Sans" font-size="7.0" fill="#1e1e1e" font-weight="normal" font-style="normal" text-anchor="start" textLength="24.70" lengthAdjust="spacingAndGlyphs" stroke="#1e1e1e" stroke-width="0.1" >CTRLsh</text>
<circle cx="326.30" cy="162.00" r="1.65" fill="#fff" stroke="#f7941d" stroke-width="0.9"/>
<text x="331.20" y="163.75" font-family="Liberation Sans" font-size="7.0" fill="#1e1e1e" font-weight="normal" font-style="normal" text-anchor="start" textLength="28.80" lengthAdjust="spacingAndGlyphs" stroke="#1e1e1e" stroke-width="0.1" >KAT2Ash</text>
<text x="308.75" y="152.20" font-family="Liberation Sans" font-size="8.8" fill="#222" font-weight="normal" font-style="normal" text-anchor="start" textLength="21.25" lengthAdjust="spacingAndGlyphs" stroke="#222" stroke-width="0.1" >GMP</text>
<text transform="translate(239.71,231.25) rotate(-90)" x="0" y="0" font-family="Liberation Sans" font-size="8.9" fill="#222" stroke="#222" stroke-width="0.12" font-style="normal" textLength="49.25" lengthAdjust="spacingAndGlyphs">Frequency of CFC</text>
<text transform="translate(250.01,234.40) rotate(-90)" x="0" y="0" font-family="Liberation Sans" font-size="8.9" fill="#222" stroke="#222" stroke-width="0.12" font-style="normal" textLength="57.90" lengthAdjust="spacingAndGlyphs">amongst plated cells</text>
<rect x="278.10" y="211.00" width="8.00" height="33.00" fill="#231f20" />
<line x1="282.10" y1="211.00" x2="282.10" y2="193.00" stroke="#231f20" stroke-width="0.8" />
<line x1="280.40" y1="193.00" x2="283.80" y2="193.00" stroke="#231f20" stroke-width="0.8" />
<circle cx="282.00" cy="186.25" r="1.65" fill="#fff" stroke="#231f20" stroke-width="0.85"/>
<circle cx="279.30" cy="190.00" r="1.65" fill="#fff" stroke="#231f20" stroke-width="0.85"/>
<circle cx="284.50" cy="190.00" r="1.65" fill="#fff" stroke="#231f20" stroke-width="0.85"/>
<circle cx="282.00" cy="200.50" r="1.65" fill="#fff" stroke="#231f20" stroke-width="0.85"/>
<circle cx="282.00" cy="208.75" r="1.65" fill="#fff" stroke="#231f20" stroke-width="0.85"/>
<rect x="281.10" y="214.60" width="1.8" height="1.8" fill="#fff"/>
<rect x="281.10" y="217.60" width="1.8" height="1.8" fill="#fff"/>
<rect x="281.10" y="225.10" width="1.8" height="1.8" fill="#fff"/>
<rect x="281.10" y="229.60" width="1.8" height="1.8" fill="#fff"/>
<rect x="281.10" y="236.35" width="1.8" height="1.8" fill="#fff"/>
<rect x="289.10" y="220.00" width="8.00" height="24.00" fill="#f7941d" />
<line x1="293.10" y1="220.00" x2="293.10" y2="197.50" stroke="#f7941d" stroke-width="0.8" />
<line x1="291.40" y1="197.50" x2="294.80" y2="197.50" stroke="#f7941d" stroke-width="0.8" />
<circle cx="293.10" cy="192.25" r="1.65" fill="#fff" stroke="#f7941d" stroke-width="0.85"/>
<circle cx="293.10" cy="212.50" r="1.65" fill="#fff" stroke="#f7941d" stroke-width="0.85"/>
<rect x="292.20" y="231.10" width="1.8" height="1.8" fill="#fff"/>
<rect x="292.20" y="237.10" width="1.8" height="1.8" fill="#fff"/>
<rect x="309.50" y="243.10" width="8.00" height="0.90" fill="#231f20" />
<circle cx="310.30" cy="241.75" r="1.65" fill="#fff" stroke="#231f20" stroke-width="0.85"/>
<circle cx="311.70" cy="242.95" r="1.65" fill="#fff" stroke="#231f20" stroke-width="0.85"/>
<circle cx="313.50" cy="242.35" r="1.65" fill="#fff" stroke="#231f20" stroke-width="0.85"/>
<circle cx="315.10" cy="243.15" r="1.65" fill="#fff" stroke="#231f20" stroke-width="0.85"/>
<circle cx="316.70" cy="242.65" r="1.65" fill="#fff" stroke="#231f20" stroke-width="0.85"/>
<circle cx="321.10" cy="243.70" r="1.65" fill="#fff" stroke="#f7941d" stroke-width="0.85"/>
<circle cx="322.80" cy="243.70" r="1.65" fill="#fff" stroke="#f7941d" stroke-width="0.85"/>
<circle cx="324.50" cy="243.70" r="1.65" fill="#fff" stroke="#f7941d" stroke-width="0.85"/>
<circle cx="326.20" cy="243.70" r="1.65" fill="#fff" stroke="#f7941d" stroke-width="0.85"/>
<circle cx="327.90" cy="243.70" r="1.65" fill="#fff" stroke="#f7941d" stroke-width="0.85"/>
<rect x="341.30" y="243.10" width="8.00" height="0.90" fill="#231f20" />
<circle cx="342.10" cy="241.75" r="1.65" fill="#fff" stroke="#231f20" stroke-width="0.85"/>
<circle cx="343.50" cy="242.95" r="1.65" fill="#fff" stroke="#231f20" stroke-width="0.85"/>
<circle cx="345.30" cy="242.35" r="1.65" fill="#fff" stroke="#231f20" stroke-width="0.85"/>
<circle cx="346.90" cy="243.15" r="1.65" fill="#fff" stroke="#231f20" stroke-width="0.85"/>
<circle cx="348.50" cy="242.65" r="1.65" fill="#fff" stroke="#231f20" stroke-width="0.85"/>
<circle cx="352.90" cy="243.70" r="1.65" fill="#fff" stroke="#f7941d" stroke-width="0.85"/>
<circle cx="354.60" cy="243.70" r="1.65" fill="#fff" stroke="#f7941d" stroke-width="0.85"/>
<circle cx="356.30" cy="243.70" r="1.65" fill="#fff" stroke="#f7941d" stroke-width="0.85"/>
<circle cx="358.00" cy="243.70" r="1.65" fill="#fff" stroke="#f7941d" stroke-width="0.85"/>
<circle cx="359.70" cy="243.70" r="1.65" fill="#fff" stroke="#f7941d" stroke-width="0.85"/>
<line x1="418.50" y1="170.55" x2="418.50" y2="244.15" stroke="#4a4a4a" stroke-width="1.0" />
<line x1="416.20" y1="170.95" x2="418.50" y2="170.95" stroke="#4a4a4a" stroke-width="1.15" />
<text x="413.20" y="173.55" font-family="Liberation Sans" font-size="7.3" fill="#2e2e2e" font-weight="normal" font-style="normal" text-anchor="end" textLength="10.60" lengthAdjust="spacingAndGlyphs" stroke="#2e2e2e" stroke-width="0.18" >0.4</text>
<line x1="416.20" y1="189.15" x2="418.50" y2="189.15" stroke="#4a4a4a" stroke-width="1.15" />
<text x="413.20" y="191.75" font-family="Liberation Sans" font-size="7.3" fill="#2e2e2e" font-weight="normal" font-style="normal" text-anchor="end" textLength="10.60" lengthAdjust="spacingAndGlyphs" stroke="#2e2e2e" stroke-width="0.18" >0.3</text>
<line x1="416.20" y1="207.35" x2="418.50" y2="207.35" stroke="#4a4a4a" stroke-width="1.15" />
<text x="413.20" y="209.95" font-family="Liberation Sans" font-size="7.3" fill="#2e2e2e" font-weight="normal" font-style="normal" text-anchor="end" textLength="10.60" lengthAdjust="spacingAndGlyphs" stroke="#2e2e2e" stroke-width="0.18" >0.2</text>
<line x1="416.20" y1="225.55" x2="418.50" y2="225.55" stroke="#4a4a4a" stroke-width="1.15" />
<text x="413.20" y="228.15" font-family="Liberation Sans" font-size="7.3" fill="#2e2e2e" font-weight="normal" font-style="normal" text-anchor="end" textLength="10.60" lengthAdjust="spacingAndGlyphs" stroke="#2e2e2e" stroke-width="0.18" >0.1</text>
<line x1="416.20" y1="243.75" x2="418.50" y2="243.75" stroke="#4a4a4a" stroke-width="1.15" />
<text x="413.20" y="246.35" font-family="Liberation Sans" font-size="7.3" fill="#2e2e2e" font-weight="normal" font-style="normal" text-anchor="end" textLength="10.60" lengthAdjust="spacingAndGlyphs" stroke="#2e2e2e" stroke-width="0.18" >0.0</text>
<line x1="418.50" y1="243.75" x2="513.75" y2="243.75" stroke="#4a4a4a" stroke-width="1.1" />
<line x1="433.90" y1="243.75" x2="433.90" y2="245.55" stroke="#4a4a4a" stroke-width="0.8" />
<text x="433.90" y="255.35" font-family="Liberation Sans" font-size="7.6" fill="#333" font-weight="normal" font-style="normal" text-anchor="middle" stroke="#333" stroke-width="0.1" >GM</text>
<line x1="465.90" y1="243.75" x2="465.90" y2="245.55" stroke="#4a4a4a" stroke-width="0.8" />
<text x="465.90" y="255.35" font-family="Liberation Sans" font-size="7.6" fill="#333" font-weight="normal" font-style="normal" text-anchor="middle" stroke="#333" stroke-width="0.1" >E</text>
<line x1="498.20" y1="243.75" x2="498.20" y2="245.55" stroke="#4a4a4a" stroke-width="0.8" />
<text x="498.20" y="255.35" font-family="Liberation Sans" font-size="7.6" fill="#333" font-weight="normal" font-style="normal" text-anchor="middle" stroke="#333" stroke-width="0.1" >Mix</text>
<circle cx="430.00" cy="161.90" r="1.65" fill="#fff" stroke="#231f20" stroke-width="0.9"/>
<text x="434.80" y="163.75" font-family="Liberation Sans" font-size="7.0" fill="#1e1e1e" font-weight="normal" font-style="normal" text-anchor="start" textLength="24.70" lengthAdjust="spacingAndGlyphs" stroke="#1e1e1e" stroke-width="0.1" >CTRLsh</text>
<circle cx="470.25" cy="161.90" r="1.65" fill="#fff" stroke="#f7941d" stroke-width="0.9"/>
<text x="475.60" y="163.75" font-family="Liberation Sans" font-size="7.0" fill="#1e1e1e" font-weight="normal" font-style="normal" text-anchor="start" textLength="27.90" lengthAdjust="spacingAndGlyphs" stroke="#1e1e1e" stroke-width="0.1" >KAT2Ash</text>
<text x="457.25" y="152.20" font-family="Liberation Sans" font-size="8.8" fill="#222" font-weight="normal" font-style="normal" text-anchor="start" textLength="18.35" lengthAdjust="spacingAndGlyphs" stroke="#222" stroke-width="0.1" >MLP</text>
<text transform="translate(386.01,232.50) rotate(-90)" x="0" y="0" font-family="Liberation Sans" font-size="8.9" fill="#222" stroke="#222" stroke-width="0.12" font-style="normal" textLength="51.10" lengthAdjust="spacingAndGlyphs">Frequency of CFC</text>
<text transform="translate(395.81,236.60) rotate(-90)" x="0" y="0" font-family="Liberation Sans" font-size="8.9" fill="#222" stroke="#222" stroke-width="0.12" font-style="normal" textLength="59.30" lengthAdjust="spacingAndGlyphs">amongst plated cells</text>
<rect x="423.80" y="220.09" width="8.00" height="23.66" fill="#231f20" />
<line x1="427.80" y1="220.09" x2="427.80" y2="212.81" stroke="#231f20" stroke-width="0.8" />
<line x1="426.10" y1="212.81" x2="429.50" y2="212.81" stroke="#231f20" stroke-width="0.8" />
<circle cx="427.80" cy="207.35" r="1.65" fill="#fff" stroke="#231f20" stroke-width="0.85"/>
<circle cx="426.50" cy="217.36" r="1.65" fill="#fff" stroke="#231f20" stroke-width="0.85"/>
<circle cx="429.50" cy="217.36" r="1.65" fill="#fff" stroke="#231f20" stroke-width="0.85"/>
<circle cx="424.50" cy="225.55" r="1.65" fill="#fff" stroke="#231f20" stroke-width="0.85"/>
<circle cx="427.00" cy="223.73" r="1.65" fill="#fff" stroke="#231f20" stroke-width="0.85"/>
<circle cx="430.50" cy="223.73" r="1.65" fill="#fff" stroke="#231f20" stroke-width="0.85"/>
<rect x="435.20" y="230.10" width="8.00" height="13.65" fill="#f7941d" />
<line x1="439.20" y1="230.10" x2="439.20" y2="219.18" stroke="#f7941d" stroke-width="0.8" />
<line x1="437.50" y1="219.18" x2="440.90" y2="219.18" stroke="#f7941d" stroke-width="0.8" />
<circle cx="439.20" cy="214.63" r="1.65" fill="#fff" stroke="#f7941d" stroke-width="0.85"/>
<circle cx="435.80" cy="231.01" r="1.65" fill="#fff" stroke="#f7941d" stroke-width="0.85"/>
<circle cx="443.00" cy="234.65" r="1.65" fill="#fff" stroke="#f7941d" stroke-width="0.85"/>
<circle cx="439.20" cy="241.93" r="1.65" fill="#fff" stroke="#f7941d" stroke-width="0.85"/>
<rect x="456.30" y="242.66" width="8.00" height="1.09" fill="#231f20" />
<line x1="460.30" y1="242.66" x2="460.30" y2="236.47" stroke="#231f20" stroke-width="0.8" />
<line x1="458.60" y1="236.47" x2="462.00" y2="236.47" stroke="#231f20" stroke-width="0.8" />
<circle cx="460.30" cy="230.10" r="1.65" fill="#fff" stroke="#231f20" stroke-width="0.85"/>
<circle cx="456.80" cy="243.20" r="1.65" fill="#fff" stroke="#231f20" stroke-width="0.85"/>
<circle cx="459.30" cy="243.20" r="1.65" fill="#fff" stroke="#231f20" stroke-width="0.85"/>
<circle cx="461.80" cy="243.20" r="1.65" fill="#fff" stroke="#231f20" stroke-width="0.85"/>
<circle cx="463.80" cy="243.20" r="1.65" fill="#fff" stroke="#231f20" stroke-width="0.85"/>
<circle cx="468.80" cy="243.39" r="1.65" fill="#fff" stroke="#f7941d" stroke-width="0.85"/>
<circle cx="472.00" cy="243.39" r="1.65" fill="#fff" stroke="#f7941d" stroke-width="0.85"/>
<circle cx="475.20" cy="243.39" r="1.65" fill="#fff" stroke="#f7941d" stroke-width="0.85"/>
<rect x="489.10" y="241.20" width="8.00" height="2.55" fill="#231f20" />
<line x1="493.10" y1="241.20" x2="493.10" y2="231.01" stroke="#231f20" stroke-width="0.8" />
<line x1="491.40" y1="231.01" x2="494.80" y2="231.01" stroke="#231f20" stroke-width="0.8" />
<circle cx="493.10" cy="221.00" r="1.65" fill="#fff" stroke="#231f20" stroke-width="0.85"/>
<circle cx="490.30" cy="242.84" r="1.65" fill="#fff" stroke="#231f20" stroke-width="0.85"/>
<circle cx="493.10" cy="242.84" r="1.65" fill="#fff" stroke="#231f20" stroke-width="0.85"/>
<circle cx="495.90" cy="242.84" r="1.65" fill="#fff" stroke="#231f20" stroke-width="0.85"/>
<circle cx="501.40" cy="243.39" r="1.65" fill="#fff" stroke="#f7941d" stroke-width="0.85"/>
<circle cx="504.60" cy="243.39" r="1.65" fill="#fff" stroke="#f7941d" stroke-width="0.85"/>
<circle cx="507.80" cy="243.39" r="1.65" fill="#fff" stroke="#f7941d" stroke-width="0.85"/>
<line x1="42.50" y1="161.10" x2="42.50" y2="244.40" stroke="#4a4a4a" stroke-width="1.0" />
<line x1="40.20" y1="161.50" x2="42.50" y2="161.50" stroke="#4a4a4a" stroke-width="1.15" />
<text x="37.50" y="164.10" font-family="Liberation Sans" font-size="7.3" fill="#2e2e2e" font-weight="normal" font-style="normal" text-anchor="end" stroke="#2e2e2e" stroke-width="0.18" >3</text>
<line x1="40.20" y1="189.00" x2="42.50" y2="189.00" stroke="#4a4a4a" stroke-width="1.15" />
<text x="37.50" y="191.60" font-family="Liberation Sans" font-size="7.3" fill="#2e2e2e" font-weight="normal" font-style="normal" text-anchor="end" stroke="#2e2e2e" stroke-width="0.18" >2</text>
<line x1="40.20" y1="216.50" x2="42.50" y2="216.50" stroke="#4a4a4a" stroke-width="1.15" />
<text x="37.50" y="219.10" font-family="Liberation Sans" font-size="7.3" fill="#2e2e2e" font-weight="normal" font-style="normal" text-anchor="end" stroke="#2e2e2e" stroke-width="0.18" >1</text>
<line x1="40.20" y1="244.00" x2="42.50" y2="244.00" stroke="#4a4a4a" stroke-width="1.15" />
<text x="37.50" y="246.60" font-family="Liberation Sans" font-size="7.3" fill="#2e2e2e" font-weight="normal" font-style="normal" text-anchor="end" stroke="#2e2e2e" stroke-width="0.18" >0</text>
<line x1="42.50" y1="244.00" x2="227.20" y2="244.00" stroke="#4a4a4a" stroke-width="1.1" />
<circle cx="57.25" cy="161.90" r="1.65" fill="#fff" stroke="#231f20" stroke-width="0.9"/>
<text x="62.50" y="164.40" font-family="Liberation Sans" font-size="7.0" fill="#1e1e1e" font-weight="normal" font-style="normal" text-anchor="start" textLength="24.40" lengthAdjust="spacingAndGlyphs" stroke="#1e1e1e" stroke-width="0.1" >CTRLsh</text>
<circle cx="97.90" cy="161.90" r="1.65" fill="#fff" stroke="#f7941d" stroke-width="0.9"/>
<text x="103.10" y="164.40" font-family="Liberation Sans" font-size="7.0" fill="#1e1e1e" font-weight="normal" font-style="normal" text-anchor="start" textLength="28.40" lengthAdjust="spacingAndGlyphs" stroke="#1e1e1e" stroke-width="0.1" >KAT2Ash</text>
<text transform="translate(13.61,230.60) rotate(-90)" x="0" y="0" font-family="Liberation Sans" font-size="8.9" fill="#222" stroke="#222" stroke-width="0.22" font-style="normal" textLength="57.10" lengthAdjust="spacingAndGlyphs">Relative mRNA level</text>
<text transform="translate(24.71,232.5) rotate(-90)" font-family="Liberation Sans" font-size="8.9" fill="#222" stroke="#222" stroke-width="0.22" textLength="60" lengthAdjust="spacingAndGlyphs">(<tspan font-style="italic">HPRT1</tspan> normalised)</text>
<line x1="51.00" y1="244.00" x2="51.00" y2="245.60" stroke="#4a4a4a" stroke-width="0.8" />
<text x="49.40" y="255.40" font-family="Liberation Sans" font-size="7.7" fill="#2a2a2a" font-weight="normal" font-style="italic" text-anchor="middle" textLength="20.80" lengthAdjust="spacingAndGlyphs" stroke="#2a2a2a" stroke-width="0.12" >KAT2A</text>
<rect x="45.40" y="216.50" width="4.60" height="27.50" fill="#231f20" />
<ellipse cx="47.70" cy="216.50" rx="2.7" ry="1.45" fill="#fff" stroke="#231f20" stroke-width="0.9"/>
<rect x="52.00" y="230.25" width="4.60" height="13.75" fill="#f7941d" />
<line x1="54.30" y1="230.25" x2="54.30" y2="226.95" stroke="#f7941d" stroke-width="0.8" />
<line x1="52.90" y1="226.95" x2="55.70" y2="226.95" stroke="#f7941d" stroke-width="0.8" />
<circle cx="54.30" cy="223.10" r="1.65" fill="#fff" stroke="#f7941d" stroke-width="0.85"/>
<circle cx="53.30" cy="225.57" r="1.65" fill="#fff" stroke="#f7941d" stroke-width="0.85"/>
<circle cx="55.30" cy="225.57" r="1.65" fill="#fff" stroke="#f7941d" stroke-width="0.85"/>
<circle cx="53.80" cy="228.05" r="1.65" fill="#fff" stroke="#f7941d" stroke-width="0.85"/>
<circle cx="54.80" cy="228.88" r="1.65" fill="#fff" stroke="#f7941d" stroke-width="0.85"/>
<circle cx="53.30" cy="230.53" r="1.65" fill="#fff" stroke="#f7941d" stroke-width="0.85"/>
<circle cx="55.30" cy="231.35" r="1.65" fill="#fff" stroke="#f7941d" stroke-width="0.85"/>
<circle cx="54.30" cy="233.00" r="1.65" fill="#fff" stroke="#f7941d" stroke-width="0.85"/>
<line x1="74.80" y1="244.00" x2="74.80" y2="245.60" stroke="#4a4a4a" stroke-width="0.8" />
<text x="75.30" y="255.40" font-family="Liberation Sans" font-size="7.7" fill="#2a2a2a" font-weight="normal" font-style="italic" text-anchor="middle" textLength="21.50" lengthAdjust="spacingAndGlyphs" stroke="#2a2a2a" stroke-width="0.12" >GATA2</text>
<rect x="69.20" y="216.50" width="4.60" height="27.50" fill="#231f20" />
<ellipse cx="71.50" cy="216.50" rx="2.7" ry="1.45" fill="#fff" stroke="#231f20" stroke-width="0.9"/>
<rect x="75.80" y="223.38" width="4.60" height="20.62" fill="#f7941d" />
<line x1="78.10" y1="223.38" x2="78.10" y2="222.00" stroke="#f7941d" stroke-width="0.8" />
<line x1="76.70" y1="222.00" x2="79.50" y2="222.00" stroke="#f7941d" stroke-width="0.8" />
<circle cx="78.10" cy="220.62" r="1.65" fill="#fff" stroke="#f7941d" stroke-width="0.85"/>
<circle cx="79.10" cy="221.45" r="1.65" fill="#fff" stroke="#f7941d" stroke-width="0.85"/>
<circle cx="77.60" cy="223.10" r="1.65" fill="#fff" stroke="#f7941d" stroke-width="0.85"/>
<circle cx="79.10" cy="224.20" r="1.65" fill="#fff" stroke="#f7941d" stroke-width="0.85"/>
<line x1="98.60" y1="244.00" x2="98.60" y2="245.60" stroke="#4a4a4a" stroke-width="0.8" />
<text x="100.60" y="255.40" font-family="Liberation Sans" font-size="7.7" fill="#2a2a2a" font-weight="normal" font-style="italic" text-anchor="middle" textLength="19.60" lengthAdjust="spacingAndGlyphs" stroke="#2a2a2a" stroke-width="0.12" >EPOR</text>
<rect x="93.00" y="216.50" width="4.60" height="27.50" fill="#231f20" />
<ellipse cx="95.30" cy="216.50" rx="2.7" ry="1.45" fill="#fff" stroke="#231f20" stroke-width="0.9"/>
<rect x="99.60" y="230.25" width="4.60" height="13.75" fill="#f7941d" />
<line x1="101.90" y1="230.25" x2="101.90" y2="221.18" stroke="#f7941d" stroke-width="0.8" />
<line x1="100.50" y1="221.18" x2="103.30" y2="221.18" stroke="#f7941d" stroke-width="0.8" />
<circle cx="101.90" cy="215.68" r="1.65" fill="#fff" stroke="#f7941d" stroke-width="0.85"/>
<circle cx="101.90" cy="224.20" r="1.65" fill="#fff" stroke="#f7941d" stroke-width="0.85"/>
<circle cx="102.40" cy="225.85" r="1.65" fill="#fff" stroke="#f7941d" stroke-width="0.85"/>
<circle cx="100.90" cy="228.05" r="1.65" fill="#fff" stroke="#f7941d" stroke-width="0.85"/>
<circle cx="102.40" cy="228.88" r="1.65" fill="#fff" stroke="#f7941d" stroke-width="0.85"/>
<circle cx="101.40" cy="231.35" r="1.65" fill="#fff" stroke="#f7941d" stroke-width="0.85"/>
<line x1="122.40" y1="244.00" x2="122.40" y2="245.60" stroke="#4a4a4a" stroke-width="0.8" />
<text x="122.80" y="255.40" font-family="Liberation Sans" font-size="7.7" fill="#2a2a2a" font-weight="normal" font-style="italic" text-anchor="middle" textLength="11.50" lengthAdjust="spacingAndGlyphs" stroke="#2a2a2a" stroke-width="0.12" >ID2</text>
<rect x="116.80" y="216.50" width="4.60" height="27.50" fill="#231f20" />
<ellipse cx="119.10" cy="216.50" rx="2.7" ry="1.45" fill="#fff" stroke="#231f20" stroke-width="0.9"/>
<rect x="123.40" y="231.62" width="4.60" height="12.38" fill="#f7941d" />
<line x1="125.70" y1="231.62" x2="125.70" y2="228.88" stroke="#f7941d" stroke-width="0.8" />
<line x1="124.30" y1="228.88" x2="127.10" y2="228.88" stroke="#f7941d" stroke-width="0.8" />
<circle cx="125.70" cy="226.95" r="1.65" fill="#fff" stroke="#f7941d" stroke-width="0.85"/>
<circle cx="126.50" cy="229.97" r="1.65" fill="#fff" stroke="#f7941d" stroke-width="0.85"/>
<circle cx="125.20" cy="231.90" r="1.65" fill="#fff" stroke="#f7941d" stroke-width="0.85"/>
<line x1="146.20" y1="244.00" x2="146.20" y2="245.60" stroke="#4a4a4a" stroke-width="0.8" />
<text x="146.60" y="255.40" font-family="Liberation Sans" font-size="7.7" fill="#2a2a2a" font-weight="normal" font-style="italic" text-anchor="middle" textLength="21.50" lengthAdjust="spacingAndGlyphs" stroke="#2a2a2a" stroke-width="0.12" >GATA1</text>
<rect x="140.60" y="216.50" width="4.60" height="27.50" fill="#231f20" />
<ellipse cx="142.90" cy="216.50" rx="2.7" ry="1.45" fill="#fff" stroke="#231f20" stroke-width="0.9"/>
<rect x="147.20" y="215.68" width="4.60" height="28.32" fill="#f7941d" />
<line x1="149.50" y1="215.68" x2="149.50" y2="212.38" stroke="#f7941d" stroke-width="0.8" />
<line x1="148.10" y1="212.38" x2="150.90" y2="212.38" stroke="#f7941d" stroke-width="0.8" />
<circle cx="149.50" cy="208.80" r="1.65" fill="#fff" stroke="#f7941d" stroke-width="0.85"/>
<circle cx="149.50" cy="214.30" r="1.65" fill="#fff" stroke="#f7941d" stroke-width="0.85"/>
<circle cx="148.40" cy="217.60" r="1.65" fill="#fff" stroke="#f7941d" stroke-width="0.85"/>
<circle cx="150.60" cy="217.60" r="1.65" fill="#fff" stroke="#f7941d" stroke-width="0.85"/>
<circle cx="149.50" cy="222.00" r="1.65" fill="#fff" stroke="#f7941d" stroke-width="0.85"/>
<line x1="170.00" y1="244.00" x2="170.00" y2="245.60" stroke="#4a4a4a" stroke-width="0.8" />
<text x="169.70" y="255.40" font-family="Liberation Sans" font-size="7.7" fill="#2a2a2a" font-weight="normal" font-style="italic" text-anchor="middle" textLength="15.20" lengthAdjust="spacingAndGlyphs" stroke="#2a2a2a" stroke-width="0.12" >KLF1</text>
<rect x="164.40" y="216.50" width="4.60" height="27.50" fill="#231f20" />
<ellipse cx="166.70" cy="216.50" rx="2.7" ry="1.45" fill="#fff" stroke="#231f20" stroke-width="0.9"/>
<rect x="171.00" y="224.47" width="4.60" height="19.53" fill="#f7941d" />
<line x1="173.30" y1="224.47" x2="173.30" y2="215.12" stroke="#f7941d" stroke-width="0.8" />
<line x1="171.90" y1="215.12" x2="174.70" y2="215.12" stroke="#f7941d" stroke-width="0.8" />
<circle cx="173.30" cy="211.82" r="1.65" fill="#fff" stroke="#f7941d" stroke-width="0.85"/>
<circle cx="173.30" cy="218.70" r="1.65" fill="#fff" stroke="#f7941d" stroke-width="0.85"/>
<circle cx="172.50" cy="228.05" r="1.65" fill="#fff" stroke="#f7941d" stroke-width="0.85"/>
<circle cx="174.10" cy="228.88" r="1.65" fill="#fff" stroke="#f7941d" stroke-width="0.85"/>
<line x1="193.80" y1="244.00" x2="193.80" y2="245.60" stroke="#4a4a4a" stroke-width="0.8" />
<text x="194.40" y="255.40" font-family="Liberation Sans" font-size="7.7" fill="#2a2a2a" font-weight="normal" font-style="italic" text-anchor="middle" textLength="24.60" lengthAdjust="spacingAndGlyphs" stroke="#2a2a2a" stroke-width="0.12" >CEBPA</text>
<rect x="188.20" y="216.50" width="4.60" height="27.50" fill="#231f20" />
<ellipse cx="190.50" cy="216.50" rx="2.7" ry="1.45" fill="#fff" stroke="#231f20" stroke-width="0.9"/>
<rect x="194.80" y="201.65" width="4.60" height="42.35" fill="#f7941d" />
<line x1="197.10" y1="201.65" x2="197.10" y2="187.90" stroke="#f7941d" stroke-width="0.8" />
<line x1="195.70" y1="187.90" x2="198.50" y2="187.90" stroke="#f7941d" stroke-width="0.8" />
<circle cx="197.10" cy="183.78" r="1.65" fill="#fff" stroke="#f7941d" stroke-width="0.85"/>
<circle cx="197.10" cy="196.97" r="1.65" fill="#fff" stroke="#f7941d" stroke-width="0.85"/>
<circle cx="195.60" cy="214.03" r="1.65" fill="#fff" stroke="#f7941d" stroke-width="0.85"/>
<circle cx="198.60" cy="214.03" r="1.65" fill="#fff" stroke="#f7941d" stroke-width="0.85"/>
<line x1="217.60" y1="244.00" x2="217.60" y2="245.60" stroke="#4a4a4a" stroke-width="0.8" />
<text x="218.40" y="255.40" font-family="Liberation Sans" font-size="7.7" fill="#2a2a2a" font-weight="normal" font-style="italic" text-anchor="middle" textLength="16.50" lengthAdjust="spacingAndGlyphs" stroke="#2a2a2a" stroke-width="0.12" >MPO</text>
<rect x="212.00" y="216.50" width="4.60" height="27.50" fill="#231f20" />
<ellipse cx="214.30" cy="216.50" rx="2.7" ry="1.45" fill="#fff" stroke="#231f20" stroke-width="0.9"/>
<rect x="218.60" y="218.70" width="4.60" height="25.30" fill="#f7941d" />
<line x1="220.90" y1="218.70" x2="220.90" y2="215.12" stroke="#f7941d" stroke-width="0.8" />
<line x1="219.50" y1="215.12" x2="222.30" y2="215.12" stroke="#f7941d" stroke-width="0.8" />
<circle cx="220.90" cy="209.90" r="1.65" fill="#fff" stroke="#f7941d" stroke-width="0.85"/>
<circle cx="220.90" cy="214.30" r="1.65" fill="#fff" stroke="#f7941d" stroke-width="0.85"/>
<circle cx="220.90" cy="217.88" r="1.65" fill="#fff" stroke="#f7941d" stroke-width="0.85"/>
<circle cx="220.90" cy="222.55" r="1.65" fill="#fff" stroke="#f7941d" stroke-width="0.85"/>
<circle cx="220.90" cy="226.40" r="1.65" fill="#fff" stroke="#f7941d" stroke-width="0.85"/>
<path d="M46.00 177.40 V175.00 H54.40 V177.40" fill="none" stroke="#4a4a4a" stroke-width="0.9"/>
<circle cx="47.70" cy="171.30" r="0.9" fill="#1e1e1e"/>
<circle cx="50.20" cy="171.30" r="0.9" fill="#1e1e1e"/>
<circle cx="52.70" cy="171.30" r="0.9" fill="#1e1e1e"/>
<path d="M70.60 177.40 V175.00 H79.75 V177.40" fill="none" stroke="#4a4a4a" stroke-width="0.9"/>
<circle cx="72.67" cy="171.30" r="0.9" fill="#1e1e1e"/>
<circle cx="75.17" cy="171.30" r="0.9" fill="#1e1e1e"/>
<circle cx="77.67" cy="171.30" r="0.9" fill="#1e1e1e"/>
<path d="M94.00 177.40 V175.00 H103.50 V177.40" fill="none" stroke="#4a4a4a" stroke-width="0.9"/>
<circle cx="97.50" cy="171.30" r="0.9" fill="#1e1e1e"/>
<circle cx="100.00" cy="171.30" r="0.9" fill="#1e1e1e"/>
<path d="M118.10 177.40 V175.00 H127.25 V177.40" fill="none" stroke="#4a4a4a" stroke-width="0.9"/>
<circle cx="122.67" cy="171.30" r="0.9" fill="#1e1e1e"/>
<path d="M189.00 177.60 V175.40 H197.50 V177.60" fill="none" stroke="#4a4a4a" stroke-width="0.9"/>
<text x="181.25" y="171.90" font-family="Liberation Sans" font-size="7.2" fill="#1e1e1e" font-weight="normal" font-style="normal" text-anchor="start" textLength="24.30" lengthAdjust="spacingAndGlyphs" stroke="#1e1e1e" stroke-width="0.1" >p=0.06</text>
<line x1="42.50" y1="283.50" x2="42.50" y2="396.00" stroke="#4a4a4a" stroke-width="1.1" />
<line x1="42.50" y1="396.00" x2="175.00" y2="396.00" stroke="#1a1a1a" stroke-width="1.3" />
<line x1="39.90" y1="305.65" x2="42.50" y2="305.65" stroke="#4a4a4a" stroke-width="1.15" />
<text x="36.30" y="308.25" font-family="Liberation Sans" font-size="7.4" fill="#3a3a3a" font-weight="normal" font-style="normal" text-anchor="end" stroke="#3a3a3a" stroke-width="0.1" >5</text>
<line x1="39.90" y1="338.75" x2="42.50" y2="338.75" stroke="#4a4a4a" stroke-width="1.15" />
<text x="36.30" y="341.35" font-family="Liberation Sans" font-size="7.4" fill="#3a3a3a" font-weight="normal" font-style="normal" text-anchor="end" stroke="#3a3a3a" stroke-width="0.1" >0</text>
<line x1="39.90" y1="371.85" x2="42.50" y2="371.85" stroke="#4a4a4a" stroke-width="1.15" />
<text x="36.30" y="374.45" font-family="Liberation Sans" font-size="7.4" fill="#3a3a3a" font-weight="normal" font-style="normal" text-anchor="end" stroke="#3a3a3a" stroke-width="0.1" >−5</text>
<line x1="56.00" y1="396.00" x2="56.00" y2="398.00" stroke="#4a4a4a" stroke-width="0.9" />
<text x="56.00" y="408.20" font-family="Liberation Sans" font-size="7.4" fill="#3a3a3a" font-weight="normal" font-style="normal" text-anchor="middle" stroke="#3a3a3a" stroke-width="0.1" >0</text>
<line x1="86.00" y1="396.00" x2="86.00" y2="398.00" stroke="#4a4a4a" stroke-width="0.9" />
<text x="86.00" y="408.20" font-family="Liberation Sans" font-size="7.4" fill="#3a3a3a" font-weight="normal" font-style="normal" text-anchor="middle" stroke="#3a3a3a" stroke-width="0.1" >5</text>
<line x1="116.00" y1="396.00" x2="116.00" y2="398.00" stroke="#4a4a4a" stroke-width="0.9" />
<text x="116.00" y="408.20" font-family="Liberation Sans" font-size="7.4" fill="#3a3a3a" font-weight="normal" font-style="normal" text-anchor="middle" stroke="#3a3a3a" stroke-width="0.1" >10</text>
<line x1="146.00" y1="396.00" x2="146.00" y2="398.00" stroke="#4a4a4a" stroke-width="0.9" />
<text x="146.00" y="408.20" font-family="Liberation Sans" font-size="7.4" fill="#3a3a3a" font-weight="normal" font-style="normal" text-anchor="middle" stroke="#3a3a3a" stroke-width="0.1" >15</text>
<text transform="translate(21.81,349.80) rotate(-90)" x="0" y="0" font-family="Liberation Sans" font-size="8.9" fill="#222" stroke="#222" stroke-width="0.12" font-style="normal" textLength="19.30" lengthAdjust="spacingAndGlyphs">Log FC</text>
<text x="76.90" y="420.30" font-family="Liberation Sans" font-size="9.0" fill="#222" font-weight="normal" font-style="normal" text-anchor="start" textLength="48.50" lengthAdjust="spacingAndGlyphs" stroke="#222" stroke-width="0.12" >Average log CPM</text>
<path d="M47.8 333.0 L49.0 329.8 L52.0 329.2 L60.0 330.0 L70.0 331.5 L85.0 333.5 L100.0 335.5 L110.0 337.0 L116.0 338.4 L119.5 339.6 L119.5 340.6 L116.0 341.8 L110.0 342.6 L100.0 343.2 L85.0 344.0 L70.0 344.8 L60.0 345.5 L52.0 346.2 L49.0 346.2 L47.8 342.0 Z" fill="#070707"/>
<path d="M64.4 345.4h0.9v0.9h-0.9zM49.7 326.3h0.9v0.9h-0.9zM49.1 326.7h0.9v0.9h-0.9zM72.3 331.8h0.9v0.9h-0.9zM71.6 329.4h0.9v0.9h-0.9zM57.8 349.0h0.9v0.9h-0.9zM83.5 344.4h0.9v0.9h-0.9zM48.7 321.8h0.9v0.9h-0.9zM53.3 329.1h0.9v0.9h-0.9zM104.1 343.0h0.9v0.9h-0.9zM88.6 344.1h0.9v0.9h-0.9zM49.3 329.7h0.9v0.9h-0.9zM92.2 334.1h0.9v0.9h-0.9zM84.2 333.0h0.9v0.9h-0.9zM102.2 334.9h0.9v0.9h-0.9zM83.3 344.7h0.9v0.9h-0.9zM96.4 343.6h0.9v0.9h-0.9zM51.9 348.2h0.9v0.9h-0.9zM53.7 326.9h0.9v0.9h-0.9zM91.1 344.8h0.9v0.9h-0.9zM109.6 342.9h0.9v0.9h-0.9zM84.9 332.8h0.9v0.9h-0.9zM106.3 334.8h0.9v0.9h-0.9zM90.8 343.7h0.9v0.9h-0.9zM89.3 345.5h0.9v0.9h-0.9zM61.7 346.5h0.9v0.9h-0.9zM47.8 327.1h0.9v0.9h-0.9zM51.9 346.3h0.9v0.9h-0.9zM52.5 328.5h0.9v0.9h-0.9zM109.2 336.9h0.9v0.9h-0.9zM81.3 345.6h0.9v0.9h-0.9zM108.5 336.6h0.9v0.9h-0.9zM66.8 348.8h0.9v0.9h-0.9zM53.6 329.0h0.9v0.9h-0.9zM58.5 347.7h0.9v0.9h-0.9zM60.3 330.0h0.9v0.9h-0.9zM67.6 346.6h0.9v0.9h-0.9zM93.0 344.1h0.9v0.9h-0.9zM91.8 343.6h0.9v0.9h-0.9zM100.9 344.6h0.9v0.9h-0.9zM69.2 330.6h0.9v0.9h-0.9zM88.2 333.9h0.9v0.9h-0.9zM57.0 329.4h0.9v0.9h-0.9zM48.9 329.8h0.9v0.9h-0.9zM51.1 327.8h0.9v0.9h-0.9zM109.4 336.2h0.9v0.9h-0.9zM59.6 328.9h0.9v0.9h-0.9zM52.1 353.2h0.9v0.9h-0.9zM74.7 331.5h0.9v0.9h-0.9zM51.1 328.0h0.9v0.9h-0.9zM105.3 336.2h0.9v0.9h-0.9zM116.6 338.0h0.9v0.9h-0.9zM80.8 344.2h0.9v0.9h-0.9zM119.2 342.1h0.9v0.9h-0.9zM60.2 328.9h0.9v0.9h-0.9zM100.2 343.8h0.9v0.9h-0.9zM64.8 345.5h0.9v0.9h-0.9zM119.9 342.0h0.9v0.9h-0.9zM104.3 335.1h0.9v0.9h-0.9zM78.7 332.4h0.9v0.9h-0.9zM48.0 328.7h0.9v0.9h-0.9zM93.2 332.9h0.9v0.9h-0.9zM115.3 343.7h0.9v0.9h-0.9zM67.2 330.8h0.9v0.9h-0.9zM56.2 346.3h0.9v0.9h-0.9zM111.9 336.1h0.9v0.9h-0.9zM89.8 332.9h0.9v0.9h-0.9zM90.5 345.2h0.9v0.9h-0.9zM98.2 334.8h0.9v0.9h-0.9zM101.7 343.3h0.9v0.9h-0.9zM118.6 338.9h0.9v0.9h-0.9zM116.2 337.5h0.9v0.9h-0.9zM52.4 346.5h0.9v0.9h-0.9zM103.3 343.1h0.9v0.9h-0.9zM119.4 338.7h0.9v0.9h-0.9zM81.2 332.9h0.9v0.9h-0.9zM118.5 341.8h0.9v0.9h-0.9zM115.0 342.3h0.9v0.9h-0.9zM105.0 336.1h0.9v0.9h-0.9zM62.3 345.8h0.9v0.9h-0.9zM60.1 328.6h0.9v0.9h-0.9zM112.8 337.4h0.9v0.9h-0.9zM84.0 331.9h0.9v0.9h-0.9zM113.5 342.7h0.9v0.9h-0.9zM79.2 332.7h0.9v0.9h-0.9zM55.4 345.9h0.9v0.9h-0.9zM54.8 348.2h0.9v0.9h-0.9zM81.8 344.4h0.9v0.9h-0.9zM81.8 331.9h0.9v0.9h-0.9zM82.1 333.0h0.9v0.9h-0.9zM100.2 343.7h0.9v0.9h-0.9zM99.1 333.9h0.9v0.9h-0.9zM86.4 344.5h0.9v0.9h-0.9zM93.2 344.0h0.9v0.9h-0.9zM75.6 346.2h0.9v0.9h-0.9zM109.6 335.3h0.9v0.9h-0.9zM82.1 345.8h0.9v0.9h-0.9zM52.9 329.1h0.9v0.9h-0.9zM49.7 328.9h0.9v0.9h-0.9zM91.2 344.8h0.9v0.9h-0.9zM53.8 350.9h0.9v0.9h-0.9zM53.2 353.4h0.9v0.9h-0.9zM57.6 322.7h0.9v0.9h-0.9zM76.4 346.2h0.9v0.9h-0.9zM54.2 347.9h0.9v0.9h-0.9zM65.4 330.5h0.9v0.9h-0.9zM95.8 343.4h0.9v0.9h-0.9zM72.8 331.9h0.9v0.9h-0.9zM87.4 333.3h0.9v0.9h-0.9zM119.9 341.8h0.9v0.9h-0.9zM51.2 328.5h0.9v0.9h-0.9zM100.8 335.4h0.9v0.9h-0.9zM71.4 347.5h0.9v0.9h-0.9zM60.1 345.7h0.9v0.9h-0.9zM83.0 332.3h0.9v0.9h-0.9zM49.1 324.4h0.9v0.9h-0.9zM49.7 355.3h0.9v0.9h-0.9zM102.8 343.1h0.9v0.9h-0.9zM49.5 321.8h0.9v0.9h-0.9zM65.4 346.9h0.9v0.9h-0.9zM60.7 345.6h0.9v0.9h-0.9zM58.8 329.7h0.9v0.9h-0.9zM48.8 329.2h0.9v0.9h-0.9zM63.1 326.8h0.9v0.9h-0.9zM77.4 332.4h0.9v0.9h-0.9zM47.7 328.9h0.9v0.9h-0.9zM96.7 334.4h0.9v0.9h-0.9zM75.4 330.5h0.9v0.9h-0.9zM104.4 335.8h0.9v0.9h-0.9zM105.8 343.2h0.9v0.9h-0.9zM92.8 332.8h0.9v0.9h-0.9zM105.6 343.8h0.9v0.9h-0.9zM70.1 331.0h0.9v0.9h-0.9zM52.5 346.2h0.9v0.9h-0.9zM59.9 329.7h0.9v0.9h-0.9zM106.4 344.2h0.9v0.9h-0.9zM61.6 329.7h0.9v0.9h-0.9zM74.2 332.0h0.9v0.9h-0.9zM60.4 351.8h0.9v0.9h-0.9zM81.1 344.4h0.9v0.9h-0.9zM63.4 329.6h0.9v0.9h-0.9zM68.5 346.0h0.9v0.9h-0.9zM56.5 327.3h0.9v0.9h-0.9zM60.4 330.0h0.9v0.9h-0.9zM48.5 329.8h0.9v0.9h-0.9zM58.4 348.5h0.9v0.9h-0.9zM98.3 344.1h0.9v0.9h-0.9zM109.9 336.7h0.9v0.9h-0.9zM119.8 340.7h0.9v0.9h-0.9zM89.0 343.8h0.9v0.9h-0.9zM111.1 343.2h0.9v0.9h-0.9zM103.8 343.0h0.9v0.9h-0.9zM77.7 345.7h0.9v0.9h-0.9zM105.1 343.6h0.9v0.9h-0.9zM92.4 333.6h0.9v0.9h-0.9zM48.1 329.5h0.9v0.9h-0.9zM51.2 353.3h0.9v0.9h-0.9zM87.7 344.6h0.9v0.9h-0.9zM76.5 344.5h0.9v0.9h-0.9zM98.1 343.8h0.9v0.9h-0.9zM90.4 343.7h0.9v0.9h-0.9zM59.6 329.9h0.9v0.9h-0.9zM96.4 343.5h0.9v0.9h-0.9zM119.0 338.9h0.9v0.9h-0.9zM75.7 345.4h0.9v0.9h-0.9zM86.8 332.9h0.9v0.9h-0.9zM53.4 346.8h0.9v0.9h-0.9zM63.1 328.3h0.9v0.9h-0.9zM49.2 347.2h0.9v0.9h-0.9zM93.2 333.7h0.9v0.9h-0.9zM78.7 332.2h0.9v0.9h-0.9zM51.9 321.4h0.9v0.9h-0.9zM119.2 337.9h0.9v0.9h-0.9zM74.2 346.2h0.9v0.9h-0.9zM73.5 331.7h0.9v0.9h-0.9zM116.1 341.9h0.9v0.9h-0.9zM53.1 349.0h0.9v0.9h-0.9zM52.7 352.7h0.9v0.9h-0.9zM110.6 336.2h0.9v0.9h-0.9zM111.6 336.9h0.9v0.9h-0.9zM47.3 326.7h0.9v0.9h-0.9zM62.9 330.3h0.9v0.9h-0.9zM63.9 326.4h0.9v0.9h-0.9zM98.3 334.0h0.9v0.9h-0.9zM114.3 343.0h0.9v0.9h-0.9zM62.1 329.3h0.9v0.9h-0.9zM121.2 338.9h0.9v0.9h-0.9zM71.9 331.4h0.9v0.9h-0.9zM51.1 322.3h0.9v0.9h-0.9zM115.2 338.1h0.9v0.9h-0.9zM78.2 332.5h0.9v0.9h-0.9zM117.1 342.9h0.9v0.9h-0.9zM88.0 345.4h0.9v0.9h-0.9zM81.3 332.0h0.9v0.9h-0.9zM96.7 343.8h0.9v0.9h-0.9zM89.1 333.9h0.9v0.9h-0.9zM114.3 338.0h0.9v0.9h-0.9zM65.8 345.7h0.9v0.9h-0.9zM119.0 340.9h0.9v0.9h-0.9zM62.8 328.3h0.9v0.9h-0.9zM54.5 329.1h0.9v0.9h-0.9zM112.4 337.0h0.9v0.9h-0.9zM112.4 335.8h0.9v0.9h-0.9zM53.0 328.8h0.9v0.9h-0.9zM65.6 330.8h0.9v0.9h-0.9zM60.0 348.0h0.9v0.9h-0.9zM98.2 334.9h0.9v0.9h-0.9zM79.3 332.4h0.9v0.9h-0.9zM49.3 347.2h0.9v0.9h-0.9zM52.3 348.9h0.9v0.9h-0.9zM108.4 336.6h0.9v0.9h-0.9zM59.4 328.6h0.9v0.9h-0.9zM116.9 342.8h0.9v0.9h-0.9zM47.8 346.2h0.9v0.9h-0.9zM111.4 342.9h0.9v0.9h-0.9zM47.3 348.2h0.9v0.9h-0.9zM105.0 344.3h0.9v0.9h-0.9zM59.4 329.8h0.9v0.9h-0.9zM79.1 345.2h0.9v0.9h-0.9zM95.7 344.3h0.9v0.9h-0.9zM74.1 331.2h0.9v0.9h-0.9zM101.1 343.3h0.9v0.9h-0.9zM89.2 333.8h0.9v0.9h-0.9zM59.6 348.7h0.9v0.9h-0.9zM51.6 346.3h0.9v0.9h-0.9zM84.0 333.0h0.9v0.9h-0.9zM85.5 333.6h0.9v0.9h-0.9zM74.3 346.7h0.9v0.9h-0.9zM110.3 336.6h0.9v0.9h-0.9zM59.3 352.2h0.9v0.9h-0.9zM63.3 330.5h0.9v0.9h-0.9zM91.6 334.0h0.9v0.9h-0.9zM91.0 332.7h0.9v0.9h-0.9zM48.2 328.3h0.9v0.9h-0.9zM92.3 343.7h0.9v0.9h-0.9zM97.3 334.6h0.9v0.9h-0.9zM118.4 341.2h0.9v0.9h-0.9zM58.3 346.1h0.9v0.9h-0.9zM62.4 324.7h0.9v0.9h-0.9zM55.7 329.0h0.9v0.9h-0.9zM90.9 332.6h0.9v0.9h-0.9zM69.3 345.1h0.9v0.9h-0.9zM53.1 329.3h0.9v0.9h-0.9zM69.3 348.1h0.9v0.9h-0.9zM96.7 345.2h0.9v0.9h-0.9zM64.8 345.4h0.9v0.9h-0.9zM97.9 343.3h0.9v0.9h-0.9zM68.2 330.5h0.9v0.9h-0.9zM54.7 329.5h0.9v0.9h-0.9zM66.3 326.4h0.9v0.9h-0.9zM117.9 338.9h0.9v0.9h-0.9zM104.6 334.9h0.9v0.9h-0.9zM48.8 327.1h0.9v0.9h-0.9zM113.7 337.8h0.9v0.9h-0.9zM111.5 337.4h0.9v0.9h-0.9zM103.7 334.9h0.9v0.9h-0.9zM48.2 346.3h0.9v0.9h-0.9zM60.0 349.6h0.9v0.9h-0.9zM65.4 345.6h0.9v0.9h-0.9zM86.8 344.1h0.9v0.9h-0.9zM63.9 330.0h0.9v0.9h-0.9zM98.7 344.8h0.9v0.9h-0.9zM115.9 338.4h0.9v0.9h-0.9zM75.4 346.3h0.9v0.9h-0.9zM68.8 331.0h0.9v0.9h-0.9zM76.8 330.8h0.9v0.9h-0.9zM102.9 344.1h0.9v0.9h-0.9zM100.2 334.8h0.9v0.9h-0.9zM64.1 346.1h0.9v0.9h-0.9zM50.0 346.7h0.9v0.9h-0.9zM59.3 329.9h0.9v0.9h-0.9zM81.5 344.4h0.9v0.9h-0.9zM110.3 335.3h0.9v0.9h-0.9zM50.3 329.4h0.9v0.9h-0.9zM94.7 334.4h0.9v0.9h-0.9zM71.0 346.2h0.9v0.9h-0.9zM98.0 344.6h0.9v0.9h-0.9zM52.1 322.3h0.9v0.9h-0.9zM82.7 344.4h0.9v0.9h-0.9zM56.4 329.0h0.9v0.9h-0.9zM53.8 353.2h0.9v0.9h-0.9zM64.6 346.2h0.9v0.9h-0.9zM77.9 344.5h0.9v0.9h-0.9zM89.9 332.4h0.9v0.9h-0.9zM75.4 345.9h0.9v0.9h-0.9zM113.2 337.7h0.9v0.9h-0.9zM52.0 346.7h0.9v0.9h-0.9zM84.0 331.8h0.9v0.9h-0.9zM108.7 336.4h0.9v0.9h-0.9zM100.7 334.0h0.9v0.9h-0.9zM85.1 332.7h0.9v0.9h-0.9zM67.5 331.0h0.9v0.9h-0.9zM59.8 348.3h0.9v0.9h-0.9zM56.6 329.7h0.9v0.9h-0.9zM92.0 334.3h0.9v0.9h-0.9zM56.6 351.1h0.9v0.9h-0.9zM49.3 329.6h0.9v0.9h-0.9zM81.3 332.2h0.9v0.9h-0.9zM54.3 324.9h0.9v0.9h-0.9zM61.7 346.2h0.9v0.9h-0.9zM63.6 328.5h0.9v0.9h-0.9zM71.0 347.4h0.9v0.9h-0.9zM67.2 345.2h0.9v0.9h-0.9zM56.7 345.8h0.9v0.9h-0.9zM71.5 329.4h0.9v0.9h-0.9zM110.2 336.6h0.9v0.9h-0.9zM47.6 349.9h0.9v0.9h-0.9zM112.7 342.3h0.9v0.9h-0.9zM67.7 329.8h0.9v0.9h-0.9zM61.7 347.4h0.9v0.9h-0.9zM51.4 348.9h0.9v0.9h-0.9zM118.1 339.0h0.9v0.9h-0.9zM115.9 336.6h0.9v0.9h-0.9zM48.9 320.7h0.9v0.9h-0.9zM112.2 343.1h0.9v0.9h-0.9zM54.1 323.7h0.9v0.9h-0.9zM70.1 347.5h0.9v0.9h-0.9zM55.4 329.0h0.9v0.9h-0.9zM78.8 332.3h0.9v0.9h-0.9zM59.3 349.6h0.9v0.9h-0.9zM48.5 350.0h0.9v0.9h-0.9zM48.4 322.0h0.9v0.9h-0.9zM85.4 344.6h0.9v0.9h-0.9zM63.2 346.5h0.9v0.9h-0.9zM71.7 330.2h0.9v0.9h-0.9zM72.6 344.7h0.9v0.9h-0.9zM76.5 344.6h0.9v0.9h-0.9zM100.9 335.2h0.9v0.9h-0.9zM75.3 332.2h0.9v0.9h-0.9zM72.0 331.7h0.9v0.9h-0.9zM78.1 344.4h0.9v0.9h-0.9zM50.2 352.0h0.9v0.9h-0.9zM78.3 344.4h0.9v0.9h-0.9zM68.2 327.3h0.9v0.9h-0.9zM107.9 344.5h0.9v0.9h-0.9zM104.0 343.1h0.9v0.9h-0.9zM76.7 346.1h0.9v0.9h-0.9zM54.4 351.7h0.9v0.9h-0.9zM49.4 347.8h0.9v0.9h-0.9zM54.1 322.1h0.9v0.9h-0.9zM104.1 343.0h0.9v0.9h-0.9zM113.7 337.8h0.9v0.9h-0.9zM77.8 332.3h0.9v0.9h-0.9zM55.4 346.2h0.9v0.9h-0.9zM92.1 333.0h0.9v0.9h-0.9zM101.3 343.2h0.9v0.9h-0.9zM88.4 344.1h0.9v0.9h-0.9zM81.7 344.8h0.9v0.9h-0.9zM51.2 355.8h0.9v0.9h-0.9zM69.4 328.8h0.9v0.9h-0.9zM120.4 338.9h0.9v0.9h-0.9zM99.5 335.0h0.9v0.9h-0.9zM97.6 343.3h0.9v0.9h-0.9zM59.7 348.7h0.9v0.9h-0.9zM84.2 332.5h0.9v0.9h-0.9zM47.3 329.8h0.9v0.9h-0.9zM86.7 344.3h0.9v0.9h-0.9zM111.4 337.3h0.9v0.9h-0.9zM89.8 334.1h0.9v0.9h-0.9zM66.6 330.9h0.9v0.9h-0.9zM57.9 348.6h0.9v0.9h-0.9zM56.7 326.2h0.9v0.9h-0.9zM52.8 321.0h0.9v0.9h-0.9zM53.5 346.2h0.9v0.9h-0.9zM109.2 335.7h0.9v0.9h-0.9zM60.4 345.5h0.9v0.9h-0.9zM82.3 344.4h0.9v0.9h-0.9zM73.0 347.1h0.9v0.9h-0.9zM59.4 324.0h0.9v0.9h-0.9zM79.8 332.5h0.9v0.9h-0.9zM49.1 323.1h0.9v0.9h-0.9zM81.4 331.4h0.9v0.9h-0.9zM56.4 349.1h0.9v0.9h-0.9zM88.9 332.8h0.9v0.9h-0.9zM63.4 329.8h0.9v0.9h-0.9zM110.8 343.6h0.9v0.9h-0.9zM47.4 354.3h0.9v0.9h-0.9zM74.7 330.8h0.9v0.9h-0.9zM58.0 329.7h0.9v0.9h-0.9zM48.4 347.7h0.9v0.9h-0.9zM93.4 344.9h0.9v0.9h-0.9zM60.5 327.7h0.9v0.9h-0.9zM101.6 335.2h0.9v0.9h-0.9zM88.9 332.3h0.9v0.9h-0.9zM110.0 337.0h0.9v0.9h-0.9zM58.6 350.0h0.9v0.9h-0.9zM97.9 343.6h0.9v0.9h-0.9zM64.7 345.6h0.9v0.9h-0.9zM87.9 344.8h0.9v0.9h-0.9zM119.3 341.1h0.9v0.9h-0.9zM93.6 333.3h0.9v0.9h-0.9zM96.0 334.3h0.9v0.9h-0.9zM57.1 326.4h0.9v0.9h-0.9zM112.8 337.6h0.9v0.9h-0.9zM51.3 320.8h0.9v0.9h-0.9zM53.1 329.3h0.9v0.9h-0.9zM93.2 344.4h0.9v0.9h-0.9zM97.0 343.4h0.9v0.9h-0.9zM67.1 348.2h0.9v0.9h-0.9zM111.0 342.5h0.9v0.9h-0.9zM113.2 336.1h0.9v0.9h-0.9zM56.8 329.5h0.9v0.9h-0.9zM107.0 344.0h0.9v0.9h-0.9zM104.9 335.5h0.9v0.9h-0.9zM51.0 346.3h0.9v0.9h-0.9zM56.7 328.6h0.9v0.9h-0.9zM47.8 328.9h0.9v0.9h-0.9zM95.2 334.6h0.9v0.9h-0.9zM117.9 341.7h0.9v0.9h-0.9zM86.9 333.8h0.9v0.9h-0.9zM72.5 330.0h0.9v0.9h-0.9zM94.2 334.1h0.9v0.9h-0.9zM108.3 342.7h0.9v0.9h-0.9zM54.7 329.5h0.9v0.9h-0.9zM99.3 333.7h0.9v0.9h-0.9zM76.6 344.9h0.9v0.9h-0.9zM55.5 327.2h0.9v0.9h-0.9zM105.5 343.0h0.9v0.9h-0.9zM61.7 345.8h0.9v0.9h-0.9zM77.2 344.4h0.9v0.9h-0.9zM50.1 352.8h0.9v0.9h-0.9zM101.5 334.9h0.9v0.9h-0.9zM69.9 345.5h0.9v0.9h-0.9zM50.4 321.4h0.9v0.9h-0.9zM56.8 346.5h0.9v0.9h-0.9zM77.4 344.7h0.9v0.9h-0.9zM58.5 347.5h0.9v0.9h-0.9zM98.6 344.4h0.9v0.9h-0.9zM66.1 330.2h0.9v0.9h-0.9zM106.6 343.7h0.9v0.9h-0.9zM54.7 347.9h0.9v0.9h-0.9zM83.7 333.3h0.9v0.9h-0.9zM110.4 337.0h0.9v0.9h-0.9zM62.9 348.5h0.9v0.9h-0.9zM53.8 329.1h0.9v0.9h-0.9zM64.6 329.0h0.9v0.9h-0.9zM64.7 345.4h0.9v0.9h-0.9zM96.3 343.4h0.9v0.9h-0.9zM51.1 348.0h0.9v0.9h-0.9zM102.2 334.8h0.9v0.9h-0.9zM56.2 326.0h0.9v0.9h-0.9zM56.8 328.2h0.9v0.9h-0.9zM69.7 347.3h0.9v0.9h-0.9zM77.4 331.7h0.9v0.9h-0.9zM53.1 325.6h0.9v0.9h-0.9zM97.4 333.6h0.9v0.9h-0.9zM83.3 332.2h0.9v0.9h-0.9zM58.2 349.9h0.9v0.9h-0.9zM100.3 344.1h0.9v0.9h-0.9zM92.1 333.6h0.9v0.9h-0.9zM63.6 328.0h0.9v0.9h-0.9zM71.2 346.9h0.9v0.9h-0.9zM87.9 333.7h0.9v0.9h-0.9zM73.9 331.0h0.9v0.9h-0.9zM91.7 332.8h0.9v0.9h-0.9zM89.9 333.0h0.9v0.9h-0.9zM76.6 330.7h0.9v0.9h-0.9zM80.8 344.3h0.9v0.9h-0.9zM115.6 337.8h0.9v0.9h-0.9zM83.3 344.7h0.9v0.9h-0.9zM78.3 345.2h0.9v0.9h-0.9zM79.1 344.7h0.9v0.9h-0.9zM57.0 325.7h0.9v0.9h-0.9zM99.3 343.3h0.9v0.9h-0.9zM66.6 331.0h0.9v0.9h-0.9zM69.8 331.5h0.9v0.9h-0.9zM71.3 329.9h0.9v0.9h-0.9zM60.5 345.9h0.9v0.9h-0.9zM115.6 337.7h0.9v0.9h-0.9zM102.8 335.6h0.9v0.9h-0.9zM52.5 352.1h0.9v0.9h-0.9zM88.2 344.3h0.9v0.9h-0.9zM58.0 322.7h0.9v0.9h-0.9zM88.6 345.1h0.9v0.9h-0.9zM74.9 344.8h0.9v0.9h-0.9zM52.3 322.4h0.9v0.9h-0.9zM107.3 336.4h0.9v0.9h-0.9zM59.7 328.5h0.9v0.9h-0.9zM47.3 323.7h0.9v0.9h-0.9zM59.2 329.1h0.9v0.9h-0.9zM71.9 346.1h0.9v0.9h-0.9zM67.1 349.1h0.9v0.9h-0.9zM49.1 353.6h0.9v0.9h-0.9zM101.2 343.2h0.9v0.9h-0.9zM88.2 333.9h0.9v0.9h-0.9zM116.7 337.8h0.9v0.9h-0.9zM51.1 329.1h0.9v0.9h-0.9zM100.5 335.3h0.9v0.9h-0.9zM112.2 336.3h0.9v0.9h-0.9zM111.0 343.2h0.9v0.9h-0.9zM91.1 345.1h0.9v0.9h-0.9zM106.2 342.9h0.9v0.9h-0.9zM79.8 331.8h0.9v0.9h-0.9zM110.2 336.4h0.9v0.9h-0.9zM58.5 329.6h0.9v0.9h-0.9zM49.1 327.1h0.9v0.9h-0.9zM76.7 345.0h0.9v0.9h-0.9zM108.4 342.7h0.9v0.9h-0.9zM74.9 345.3h0.9v0.9h-0.9zM106.3 336.1h0.9v0.9h-0.9zM117.5 341.3h0.9v0.9h-0.9zM88.4 343.8h0.9v0.9h-0.9zM92.3 332.9h0.9v0.9h-0.9zM119.5 339.1h0.9v0.9h-0.9zM111.6 342.4h0.9v0.9h-0.9zM87.5 344.1h0.9v0.9h-0.9zM67.3 346.2h0.9v0.9h-0.9zM100.0 335.4h0.9v0.9h-0.9zM71.4 345.9h0.9v0.9h-0.9zM62.3 325.9h0.9v0.9h-0.9zM77.6 344.6h0.9v0.9h-0.9zM118.9 341.6h0.9v0.9h-0.9zM64.9 330.1h0.9v0.9h-0.9zM84.3 344.8h0.9v0.9h-0.9zM48.4 352.1h0.9v0.9h-0.9zM80.9 333.0h0.9v0.9h-0.9zM47.4 346.8h0.9v0.9h-0.9zM86.1 344.8h0.9v0.9h-0.9zM112.7 343.0h0.9v0.9h-0.9zM87.6 344.8h0.9v0.9h-0.9zM92.2 343.7h0.9v0.9h-0.9zM74.1 330.6h0.9v0.9h-0.9zM55.3 345.9h0.9v0.9h-0.9zM113.1 336.9h0.9v0.9h-0.9zM104.7 344.1h0.9v0.9h-0.9zM60.0 329.2h0.9v0.9h-0.9zM64.0 346.5h0.9v0.9h-0.9zM115.0 341.9h0.9v0.9h-0.9zM48.4 346.4h0.9v0.9h-0.9zM83.4 331.7h0.9v0.9h-0.9zM47.6 348.2h0.9v0.9h-0.9zM115.4 336.5h0.9v0.9h-0.9zM70.7 344.8h0.9v0.9h-0.9zM57.2 329.5h0.9v0.9h-0.9zM47.4 324.2h0.9v0.9h-0.9zM118.1 341.1h0.9v0.9h-0.9zM52.5 346.2h0.9v0.9h-0.9zM59.0 325.7h0.9v0.9h-0.9zM48.8 352.8h0.9v0.9h-0.9zM107.7 335.6h0.9v0.9h-0.9zM87.8 332.9h0.9v0.9h-0.9zM114.9 342.1h0.9v0.9h-0.9zM95.3 334.9h0.9v0.9h-0.9zM89.6 332.9h0.9v0.9h-0.9zM63.5 327.2h0.9v0.9h-0.9zM108.2 336.2h0.9v0.9h-0.9zM67.4 329.4h0.9v0.9h-0.9zM91.9 343.7h0.9v0.9h-0.9zM67.1 347.1h0.9v0.9h-0.9zM71.1 345.3h0.9v0.9h-0.9zM116.0 342.9h0.9v0.9h-0.9zM62.3 345.4h0.9v0.9h-0.9zM94.1 333.4h0.9v0.9h-0.9zM85.9 345.7h0.9v0.9h-0.9zM85.5 333.3h0.9v0.9h-0.9zM110.7 342.8h0.9v0.9h-0.9zM85.5 345.4h0.9v0.9h-0.9zM61.7 330.2h0.9v0.9h-0.9zM71.4 346.0h0.9v0.9h-0.9zM110.7 342.5h0.9v0.9h-0.9zM103.7 344.4h0.9v0.9h-0.9zM61.0 350.4h0.9v0.9h-0.9zM92.5 333.0h0.9v0.9h-0.9zM50.3 349.7h0.9v0.9h-0.9zM56.5 350.6h0.9v0.9h-0.9zM58.5 348.7h0.9v0.9h-0.9zM74.7 332.0h0.9v0.9h-0.9zM98.3 334.1h0.9v0.9h-0.9zM50.4 353.0h0.9v0.9h-0.9zM58.4 348.4h0.9v0.9h-0.9zM110.4 336.5h0.9v0.9h-0.9zM84.5 333.3h0.9v0.9h-0.9zM55.3 325.1h0.9v0.9h-0.9zM82.5 344.5h0.9v0.9h-0.9zM53.5 346.1h0.9v0.9h-0.9zM67.9 345.0h0.9v0.9h-0.9zM101.5 343.2h0.9v0.9h-0.9zM65.8 329.3h0.9v0.9h-0.9zM48.2 356.8h0.9v0.9h-0.9zM76.3 331.7h0.9v0.9h-0.9zM100.8 343.5h0.9v0.9h-0.9zM99.7 344.5h0.9v0.9h-0.9zM59.8 330.0h0.9v0.9h-0.9zM55.3 329.4h0.9v0.9h-0.9zM81.9 331.7h0.9v0.9h-0.9zM116.3 337.0h0.9v0.9h-0.9zM85.2 333.2h0.9v0.9h-0.9zM117.4 341.5h0.9v0.9h-0.9zM88.8 345.5h0.9v0.9h-0.9zM69.3 330.5h0.9v0.9h-0.9zM118.0 337.3h0.9v0.9h-0.9zM48.4 328.9h0.9v0.9h-0.9zM112.1 343.8h0.9v0.9h-0.9zM48.7 353.1h0.9v0.9h-0.9zM89.3 332.3h0.9v0.9h-0.9zM53.3 351.6h0.9v0.9h-0.9zM91.9 343.8h0.9v0.9h-0.9zM98.9 335.3h0.9v0.9h-0.9zM60.0 329.8h0.9v0.9h-0.9zM54.6 328.8h0.9v0.9h-0.9zM91.9 343.6h0.9v0.9h-0.9zM56.1 345.9h0.9v0.9h-0.9zM57.7 352.5h0.9v0.9h-0.9zM110.8 337.1h0.9v0.9h-0.9zM50.9 354.8h0.9v0.9h-0.9zM87.7 333.4h0.9v0.9h-0.9zM104.8 343.4h0.9v0.9h-0.9zM53.2 328.7h0.9v0.9h-0.9zM95.0 334.2h0.9v0.9h-0.9zM109.1 336.7h0.9v0.9h-0.9zM53.9 346.9h0.9v0.9h-0.9zM65.1 330.6h0.9v0.9h-0.9zM64.0 325.9h0.9v0.9h-0.9zM119.3 340.7h0.9v0.9h-0.9zM91.1 334.2h0.9v0.9h-0.9zM61.9 329.7h0.9v0.9h-0.9zM67.2 349.5h0.9v0.9h-0.9zM114.2 337.9h0.9v0.9h-0.9zM111.5 342.4h0.9v0.9h-0.9zM62.3 324.4h0.9v0.9h-0.9zM103.3 335.7h0.9v0.9h-0.9zM47.3 354.1h0.9v0.9h-0.9zM55.6 347.8h0.9v0.9h-0.9zM57.5 326.9h0.9v0.9h-0.9zM55.3 351.2h0.9v0.9h-0.9zM56.2 329.5h0.9v0.9h-0.9zM86.1 333.1h0.9v0.9h-0.9zM56.8 349.1h0.9v0.9h-0.9zM103.7 335.4h0.9v0.9h-0.9zM49.4 323.8h0.9v0.9h-0.9zM95.7 343.4h0.9v0.9h-0.9zM65.2 349.0h0.9v0.9h-0.9zM76.8 344.4h0.9v0.9h-0.9zM75.5 330.7h0.9v0.9h-0.9zM55.6 323.6h0.9v0.9h-0.9zM54.3 347.5h0.9v0.9h-0.9zM47.4 326.4h0.9v0.9h-0.9zM78.6 344.4h0.9v0.9h-0.9zM104.2 334.7h0.9v0.9h-0.9zM94.8 343.8h0.9v0.9h-0.9zM49.3 354.3h0.9v0.9h-0.9zM76.9 345.0h0.9v0.9h-0.9zM80.3 344.3h0.9v0.9h-0.9zM57.9 329.4h0.9v0.9h-0.9zM59.5 325.0h0.9v0.9h-0.9zM50.8 324.2h0.9v0.9h-0.9zM47.7 350.5h0.9v0.9h-0.9zM79.2 331.8h0.9v0.9h-0.9zM109.0 335.9h0.9v0.9h-0.9zM52.2 348.8h0.9v0.9h-0.9zM61.4 330.1h0.9v0.9h-0.9zM52.9 349.7h0.9v0.9h-0.9zM53.4 349.4h0.9v0.9h-0.9zM54.4 352.2h0.9v0.9h-0.9zM69.0 345.7h0.9v0.9h-0.9zM79.4 344.6h0.9v0.9h-0.9zM100.6 335.3h0.9v0.9h-0.9zM65.2 346.3h0.9v0.9h-0.9zM103.1 344.5h0.9v0.9h-0.9zM107.0 342.8h0.9v0.9h-0.9zM117.3 337.2h0.9v0.9h-0.9zM71.4 330.3h0.9v0.9h-0.9zM79.8 332.8h0.9v0.9h-0.9zM77.7 332.5h0.9v0.9h-0.9zM118.4 342.1h0.9v0.9h-0.9zM88.2 345.1h0.9v0.9h-0.9zM110.4 342.6h0.9v0.9h-0.9zM60.5 326.7h0.9v0.9h-0.9zM80.7 345.8h0.9v0.9h-0.9zM59.5 327.8h0.9v0.9h-0.9zM116.6 338.4h0.9v0.9h-0.9zM89.4 343.8h0.9v0.9h-0.9zM117.1 338.2h0.9v0.9h-0.9zM74.8 331.4h0.9v0.9h-0.9zM52.2 329.0h0.9v0.9h-0.9zM70.3 331.1h0.9v0.9h-0.9zM50.4 349.6h0.9v0.9h-0.9zM86.2 344.6h0.9v0.9h-0.9zM56.5 325.3h0.9v0.9h-0.9zM81.2 332.2h0.9v0.9h-0.9zM63.5 330.1h0.9v0.9h-0.9zM78.3 344.7h0.9v0.9h-0.9zM47.5 347.9h0.9v0.9h-0.9zM58.8 327.3h0.9v0.9h-0.9zM61.8 324.0h0.9v0.9h-0.9zM100.2 335.5h0.9v0.9h-0.9zM109.2 336.5h0.9v0.9h-0.9zM68.9 345.8h0.9v0.9h-0.9zM51.5 346.9h0.9v0.9h-0.9zM97.2 335.1h0.9v0.9h-0.9zM66.4 347.5h0.9v0.9h-0.9zM107.2 344.0h0.9v0.9h-0.9zM97.2 344.4h0.9v0.9h-0.9zM75.4 345.8h0.9v0.9h-0.9zM113.2 342.2h0.9v0.9h-0.9zM47.4 353.0h0.9v0.9h-0.9zM77.2 346.1h0.9v0.9h-0.9zM71.1 346.9h0.9v0.9h-0.9zM86.0 333.3h0.9v0.9h-0.9zM74.1 330.7h0.9v0.9h-0.9zM69.1 330.0h0.9v0.9h-0.9zM64.3 348.8h0.9v0.9h-0.9zM77.3 332.1h0.9v0.9h-0.9zM63.0 345.5h0.9v0.9h-0.9zM83.9 344.1h0.9v0.9h-0.9zM64.4 349.3h0.9v0.9h-0.9zM117.4 338.8h0.9v0.9h-0.9zM112.8 337.7h0.9v0.9h-0.9zM82.5 344.6h0.9v0.9h-0.9zM100.3 343.8h0.9v0.9h-0.9zM78.7 344.9h0.9v0.9h-0.9zM69.0 345.5h0.9v0.9h-0.9zM66.3 349.5h0.9v0.9h-0.9zM79.3 332.7h0.9v0.9h-0.9zM69.9 346.1h0.9v0.9h-0.9zM110.0 335.3h0.9v0.9h-0.9zM72.8 345.9h0.9v0.9h-0.9zM65.7 346.7h0.9v0.9h-0.9zM54.7 347.1h0.9v0.9h-0.9zM105.0 335.7h0.9v0.9h-0.9zM111.3 343.3h0.9v0.9h-0.9zM120.4 338.1h0.9v0.9h-0.9zM53.9 347.0h0.9v0.9h-0.9zM77.7 332.4h0.9v0.9h-0.9zM87.9 333.2h0.9v0.9h-0.9zM120.7 338.8h0.9v0.9h-0.9zM70.6 329.3h0.9v0.9h-0.9zM93.0 334.6h0.9v0.9h-0.9zM106.5 343.5h0.9v0.9h-0.9zM56.2 348.2h0.9v0.9h-0.9zM60.5 348.6h0.9v0.9h-0.9zM121.0 338.9h0.9v0.9h-0.9zM52.1 346.5h0.9v0.9h-0.9zM51.3 329.2h0.9v0.9h-0.9zM79.1 345.6h0.9v0.9h-0.9zM103.3 336.0h0.9v0.9h-0.9zM100.0 343.4h0.9v0.9h-0.9zM66.5 330.8h0.9v0.9h-0.9zM51.0 354.4h0.9v0.9h-0.9zM66.1 329.7h0.9v0.9h-0.9zM49.0 354.7h0.9v0.9h-0.9zM117.4 341.7h0.9v0.9h-0.9zM59.5 345.6h0.9v0.9h-0.9zM107.6 343.0h0.9v0.9h-0.9zM104.1 343.2h0.9v0.9h-0.9zM117.5 341.8h0.9v0.9h-0.9zM59.1 346.9h0.9v0.9h-0.9zM57.7 346.6h0.9v0.9h-0.9zM76.1 331.1h0.9v0.9h-0.9zM54.9 328.1h0.9v0.9h-0.9zM118.6 341.1h0.9v0.9h-0.9zM51.7 326.2h0.9v0.9h-0.9zM70.0 331.5h0.9v0.9h-0.9zM105.0 336.0h0.9v0.9h-0.9zM55.9 328.7h0.9v0.9h-0.9zM48.2 324.7h0.9v0.9h-0.9zM53.9 324.6h0.9v0.9h-0.9zM60.8 325.3h0.9v0.9h-0.9zM73.0 346.6h0.9v0.9h-0.9zM54.1 347.4h0.9v0.9h-0.9zM68.1 327.2h0.9v0.9h-0.9zM116.6 338.1h0.9v0.9h-0.9zM73.7 344.7h0.9v0.9h-0.9zM60.2 351.2h0.9v0.9h-0.9zM67.5 345.3h0.9v0.9h-0.9zM57.2 323.6h0.9v0.9h-0.9zM78.4 332.0h0.9v0.9h-0.9zM100.1 343.5h0.9v0.9h-0.9zM82.7 333.0h0.9v0.9h-0.9zM50.4 346.6h0.9v0.9h-0.9zM64.2 328.0h0.9v0.9h-0.9zM82.3 344.4h0.9v0.9h-0.9zM62.6 330.3h0.9v0.9h-0.9zM58.0 345.9h0.9v0.9h-0.9zM61.6 346.6h0.9v0.9h-0.9zM100.4 344.6h0.9v0.9h-0.9zM52.6 328.3h0.9v0.9h-0.9zM92.1 333.6h0.9v0.9h-0.9zM70.7 346.4h0.9v0.9h-0.9zM59.4 324.7h0.9v0.9h-0.9zM87.8 333.8h0.9v0.9h-0.9zM113.0 343.2h0.9v0.9h-0.9zM48.4 329.8h0.9v0.9h-0.9zM56.3 328.7h0.9v0.9h-0.9zM48.4 347.5h0.9v0.9h-0.9zM55.2 352.1h0.9v0.9h-0.9zM95.3 334.7h0.9v0.9h-0.9zM92.5 334.2h0.9v0.9h-0.9zM105.8 335.2h0.9v0.9h-0.9zM48.5 354.2h0.9v0.9h-0.9zM48.7 329.0h0.9v0.9h-0.9zM101.9 343.2h0.9v0.9h-0.9zM98.2 343.3h0.9v0.9h-0.9zM69.3 347.2h0.9v0.9h-0.9zM61.5 345.5h0.9v0.9h-0.9zM71.6 347.6h0.9v0.9h-0.9zM97.2 344.6h0.9v0.9h-0.9zM73.7 344.6h0.9v0.9h-0.9zM71.9 345.6h0.9v0.9h-0.9zM52.4 323.5h0.9v0.9h-0.9zM94.1 333.5h0.9v0.9h-0.9zM81.0 345.9h0.9v0.9h-0.9zM80.8 332.8h0.9v0.9h-0.9zM66.8 330.0h0.9v0.9h-0.9zM63.5 345.4h0.9v0.9h-0.9zM91.3 334.2h0.9v0.9h-0.9zM78.6 344.8h0.9v0.9h-0.9zM66.3 345.6h0.9v0.9h-0.9zM53.1 326.1h0.9v0.9h-0.9zM104.1 343.6h0.9v0.9h-0.9zM54.6 350.1h0.9v0.9h-0.9zM74.4 346.0h0.9v0.9h-0.9zM51.7 328.2h0.9v0.9h-0.9zM56.8 329.6h0.9v0.9h-0.9zM56.3 325.3h0.9v0.9h-0.9zM51.6 328.0h0.9v0.9h-0.9zM67.1 330.9h0.9v0.9h-0.9zM47.5 357.0h0.9v0.9h-0.9zM50.3 351.7h0.9v0.9h-0.9zM82.4 333.1h0.9v0.9h-0.9zM72.3 344.8h0.9v0.9h-0.9zM47.4 355.6h0.9v0.9h-0.9zM87.7 345.5h0.9v0.9h-0.9zM59.6 329.4h0.9v0.9h-0.9zM48.0 353.0h0.9v0.9h-0.9zM62.5 345.6h0.9v0.9h-0.9zM106.8 335.0h0.9v0.9h-0.9zM101.3 344.4h0.9v0.9h-0.9zM64.6 345.4h0.9v0.9h-0.9zM64.1 346.1h0.9v0.9h-0.9zM67.6 327.9h0.9v0.9h-0.9zM48.5 350.0h0.9v0.9h-0.9zM104.4 343.9h0.9v0.9h-0.9zM116.0 337.9h0.9v0.9h-0.9zM54.0 347.0h0.9v0.9h-0.9zM50.1 324.4h0.9v0.9h-0.9zM73.0 329.3h0.9v0.9h-0.9zM48.4 327.4h0.9v0.9h-0.9zM95.8 343.4h0.9v0.9h-0.9zM107.7 335.5h0.9v0.9h-0.9zM61.7 348.4h0.9v0.9h-0.9zM71.3 331.2h0.9v0.9h-0.9zM90.9 345.0h0.9v0.9h-0.9zM54.4 328.5h0.9v0.9h-0.9zM82.4 332.9h0.9v0.9h-0.9zM50.3 328.2h0.9v0.9h-0.9zM118.6 342.4h0.9v0.9h-0.9zM118.8 342.5h0.9v0.9h-0.9zM103.7 343.0h0.9v0.9h-0.9zM86.1 344.1h0.9v0.9h-0.9zM116.8 342.0h0.9v0.9h-0.9zM62.7 346.2h0.9v0.9h-0.9zM48.0 346.7h0.9v0.9h-0.9zM73.3 344.7h0.9v0.9h-0.9zM67.8 329.5h0.9v0.9h-0.9zM79.7 332.2h0.9v0.9h-0.9zM51.7 346.6h0.9v0.9h-0.9zM81.2 344.2h0.9v0.9h-0.9zM59.7 345.6h0.9v0.9h-0.9zM59.6 347.5h0.9v0.9h-0.9zM58.0 327.0h0.9v0.9h-0.9zM78.4 331.9h0.9v0.9h-0.9zM70.4 331.5h0.9v0.9h-0.9zM108.4 343.3h0.9v0.9h-0.9zM98.8 343.3h0.9v0.9h-0.9zM95.7 343.5h0.9v0.9h-0.9zM69.2 345.0h0.9v0.9h-0.9zM82.4 332.0h0.9v0.9h-0.9zM100.5 335.6h0.9v0.9h-0.9zM67.8 345.0h0.9v0.9h-0.9zM57.2 346.6h0.9v0.9h-0.9zM71.7 347.3h0.9v0.9h-0.9zM109.2 343.3h0.9v0.9h-0.9zM109.1 342.7h0.9v0.9h-0.9zM65.6 348.3h0.9v0.9h-0.9zM105.0 336.2h0.9v0.9h-0.9zM97.1 345.0h0.9v0.9h-0.9zM48.6 325.5h0.9v0.9h-0.9zM81.2 331.8h0.9v0.9h-0.9zM114.2 337.1h0.9v0.9h-0.9zM56.0 347.8h0.9v0.9h-0.9zM83.9 333.3h0.9v0.9h-0.9zM51.5 322.8h0.9v0.9h-0.9zM81.7 344.4h0.9v0.9h-0.9zM68.4 345.0h0.9v0.9h-0.9zM80.4 345.2h0.9v0.9h-0.9zM116.4 338.5h0.9v0.9h-0.9zM53.6 348.7h0.9v0.9h-0.9zM102.7 335.9h0.9v0.9h-0.9zM104.3 335.2h0.9v0.9h-0.9zM75.5 344.6h0.9v0.9h-0.9zM69.3 347.9h0.9v0.9h-0.9zM49.9 328.2h0.9v0.9h-0.9zM111.3 336.6h0.9v0.9h-0.9zM54.7 328.1h0.9v0.9h-0.9zM83.5 333.0h0.9v0.9h-0.9zM47.4 325.7h0.9v0.9h-0.9zM47.8 348.9h0.9v0.9h-0.9zM48.6 346.5h0.9v0.9h-0.9zM61.0 346.1h0.9v0.9h-0.9zM60.3 348.0h0.9v0.9h-0.9zM117.2 337.0h0.9v0.9h-0.9zM82.2 345.3h0.9v0.9h-0.9zM100.4 344.0h0.9v0.9h-0.9zM67.1 345.5h0.9v0.9h-0.9zM109.3 344.2h0.9v0.9h-0.9zM63.0 349.0h0.9v0.9h-0.9zM78.1 331.8h0.9v0.9h-0.9zM81.4 332.7h0.9v0.9h-0.9zM65.3 345.8h0.9v0.9h-0.9zM75.9 332.0h0.9v0.9h-0.9zM58.6 328.7h0.9v0.9h-0.9zM47.4 321.2h0.9v0.9h-0.9zM73.2 330.9h0.9v0.9h-0.9zM54.6 329.4h0.9v0.9h-0.9zM63.3 348.6h0.9v0.9h-0.9zM115.3 342.1h0.9v0.9h-0.9zM84.0 333.4h0.9v0.9h-0.9zM83.8 331.6h0.9v0.9h-0.9zM100.4 343.6h0.9v0.9h-0.9zM49.5 349.0h0.9v0.9h-0.9zM61.2 329.6h0.9v0.9h-0.9zM54.4 346.8h0.9v0.9h-0.9zM57.5 328.3h0.9v0.9h-0.9zM85.6 345.4h0.9v0.9h-0.9zM56.2 350.5h0.9v0.9h-0.9zM85.5 344.0h0.9v0.9h-0.9zM109.6 336.7h0.9v0.9h-0.9zM55.7 348.6h0.9v0.9h-0.9zM88.7 332.4h0.9v0.9h-0.9zM64.6 348.4h0.9v0.9h-0.9zM70.2 329.7h0.9v0.9h-0.9zM49.1 327.6h0.9v0.9h-0.9zM87.6 333.6h0.9v0.9h-0.9zM85.2 333.4h0.9v0.9h-0.9zM47.6 355.7h0.9v0.9h-0.9zM120.1 340.6h0.9v0.9h-0.9zM95.9 334.7h0.9v0.9h-0.9zM53.9 346.3h0.9v0.9h-0.9zM50.5 322.6h0.9v0.9h-0.9zM80.4 344.9h0.9v0.9h-0.9zM90.2 333.5h0.9v0.9h-0.9zM97.4 343.5h0.9v0.9h-0.9zM99.4 334.3h0.9v0.9h-0.9zM100.2 333.8h0.9v0.9h-0.9zM61.3 347.4h0.9v0.9h-0.9zM52.6 329.3h0.9v0.9h-0.9zM90.0 333.0h0.9v0.9h-0.9zM120.3 340.7h0.9v0.9h-0.9zM50.5 329.5h0.9v0.9h-0.9zM49.2 349.2h0.9v0.9h-0.9zM55.4 322.0h0.9v0.9h-0.9zM53.5 346.5h0.9v0.9h-0.9zM113.8 337.8h0.9v0.9h-0.9zM100.7 343.3h0.9v0.9h-0.9zM77.3 331.7h0.9v0.9h-0.9zM102.7 335.5h0.9v0.9h-0.9zM112.2 342.3h0.9v0.9h-0.9zM49.4 325.0h0.9v0.9h-0.9zM108.5 342.7h0.9v0.9h-0.9zM70.5 347.8h0.9v0.9h-0.9zM87.6 333.7h0.9v0.9h-0.9zM60.3 328.5h0.9v0.9h-0.9zM56.6 350.7h0.9v0.9h-0.9zM62.7 324.4h0.9v0.9h-0.9zM82.9 344.2h0.9v0.9h-0.9zM109.0 342.8h0.9v0.9h-0.9zM104.7 336.0h0.9v0.9h-0.9zM76.2 330.9h0.9v0.9h-0.9zM92.4 333.8h0.9v0.9h-0.9zM83.7 331.9h0.9v0.9h-0.9zM110.3 342.8h0.9v0.9h-0.9zM108.4 342.8h0.9v0.9h-0.9zM120.8 339.4h0.9v0.9h-0.9zM51.6 320.1h0.9v0.9h-0.9zM112.9 342.3h0.9v0.9h-0.9zM50.9 346.6h0.9v0.9h-0.9zM50.5 347.6h0.9v0.9h-0.9zM95.3 344.9h0.9v0.9h-0.9zM48.2 347.0h0.9v0.9h-0.9zM92.9 343.6h0.9v0.9h-0.9zM58.4 328.2h0.9v0.9h-0.9zM47.8 319.1h0.9v0.9h-0.9zM109.8 336.9h0.9v0.9h-0.9zM52.8 327.3h0.9v0.9h-0.9zM92.6 343.7h0.9v0.9h-0.9zM77.4 332.5h0.9v0.9h-0.9zM77.1 330.9h0.9v0.9h-0.9zM57.3 353.1h0.9v0.9h-0.9zM96.6 334.9h0.9v0.9h-0.9zM60.4 330.0h0.9v0.9h-0.9zM78.0 344.7h0.9v0.9h-0.9zM67.1 345.0h0.9v0.9h-0.9zM89.8 344.3h0.9v0.9h-0.9zM93.0 345.3h0.9v0.9h-0.9zM95.4 334.5h0.9v0.9h-0.9zM71.2 328.5h0.9v0.9h-0.9zM68.7 330.5h0.9v0.9h-0.9zM121.1 340.6h0.9v0.9h-0.9zM114.3 342.2h0.9v0.9h-0.9zM55.8 328.6h0.9v0.9h-0.9zM50.1 352.8h0.9v0.9h-0.9zM67.5 345.0h0.9v0.9h-0.9zM54.6 349.7h0.9v0.9h-0.9zM54.4 323.0h0.9v0.9h-0.9zM63.9 347.8h0.9v0.9h-0.9zM60.5 325.7h0.9v0.9h-0.9zM61.3 327.4h0.9v0.9h-0.9zM63.2 346.3h0.9v0.9h-0.9zM61.0 327.6h0.9v0.9h-0.9zM61.3 328.3h0.9v0.9h-0.9zM61.0 346.2h0.9v0.9h-0.9zM57.9 349.2h0.9v0.9h-0.9zM58.0 329.0h0.9v0.9h-0.9zM67.9 345.7h0.9v0.9h-0.9zM59.1 326.1h0.9v0.9h-0.9zM51.3 323.3h0.9v0.9h-0.9zM61.6 348.6h0.9v0.9h-0.9zM66.6 331.0h0.9v0.9h-0.9zM65.8 328.9h0.9v0.9h-0.9zM50.9 328.1h0.9v0.9h-0.9zM55.3 350.7h0.9v0.9h-0.9zM57.5 329.5h0.9v0.9h-0.9zM69.4 330.7h0.9v0.9h-0.9zM58.0 349.7h0.9v0.9h-0.9zM50.8 324.6h0.9v0.9h-0.9zM59.0 329.1h0.9v0.9h-0.9zM55.0 327.7h0.9v0.9h-0.9zM51.9 325.6h0.9v0.9h-0.9zM51.4 324.3h0.9v0.9h-0.9zM54.6 347.0h0.9v0.9h-0.9zM49.5 350.9h0.9v0.9h-0.9zM51.9 348.7h0.9v0.9h-0.9zM61.1 329.0h0.9v0.9h-0.9zM57.2 347.3h0.9v0.9h-0.9zM54.0 348.2h0.9v0.9h-0.9zM65.3 330.1h0.9v0.9h-0.9zM60.2 325.9h0.9v0.9h-0.9zM68.9 330.4h0.9v0.9h-0.9zM62.1 329.4h0.9v0.9h-0.9zM64.1 346.1h0.9v0.9h-0.9zM58.4 350.2h0.9v0.9h-0.9zM48.1 325.3h0.9v0.9h-0.9zM57.7 325.4h0.9v0.9h-0.9zM57.9 325.2h0.9v0.9h-0.9zM58.3 347.8h0.9v0.9h-0.9zM62.2 327.8h0.9v0.9h-0.9zM48.4 351.6h0.9v0.9h-0.9zM64.4 328.5h0.9v0.9h-0.9zM52.4 346.4h0.9v0.9h-0.9zM49.7 346.6h0.9v0.9h-0.9zM59.9 345.6h0.9v0.9h-0.9zM63.1 329.1h0.9v0.9h-0.9zM62.7 346.5h0.9v0.9h-0.9zM69.5 345.8h0.9v0.9h-0.9zM50.7 348.1h0.9v0.9h-0.9zM47.6 320.8h0.9v0.9h-0.9zM53.3 327.8h0.9v0.9h-0.9zM66.4 346.1h0.9v0.9h-0.9zM56.7 329.6h0.9v0.9h-0.9zM66.6 346.7h0.9v0.9h-0.9zM53.2 328.4h0.9v0.9h-0.9zM59.3 328.6h0.9v0.9h-0.9zM58.3 327.2h0.9v0.9h-0.9zM65.1 345.5h0.9v0.9h-0.9zM59.7 329.9h0.9v0.9h-0.9zM59.2 347.1h0.9v0.9h-0.9zM54.6 347.2h0.9v0.9h-0.9zM53.9 350.4h0.9v0.9h-0.9zM60.5 347.1h0.9v0.9h-0.9zM57.3 325.0h0.9v0.9h-0.9zM57.0 326.5h0.9v0.9h-0.9zM66.5 345.1h0.9v0.9h-0.9zM51.5 353.2h0.9v0.9h-0.9zM65.1 346.3h0.9v0.9h-0.9zM62.3 329.6h0.9v0.9h-0.9zM65.9 345.3h0.9v0.9h-0.9zM52.1 328.8h0.9v0.9h-0.9zM64.8 328.0h0.9v0.9h-0.9zM62.0 346.0h0.9v0.9h-0.9zM62.6 330.1h0.9v0.9h-0.9zM62.8 345.4h0.9v0.9h-0.9zM54.0 347.1h0.9v0.9h-0.9zM54.5 326.3h0.9v0.9h-0.9zM67.6 345.4h0.9v0.9h-0.9zM50.8 352.2h0.9v0.9h-0.9zM56.1 329.5h0.9v0.9h-0.9zM61.6 346.0h0.9v0.9h-0.9zM49.6 349.3h0.9v0.9h-0.9zM57.0 326.2h0.9v0.9h-0.9zM65.7 345.3h0.9v0.9h-0.9zM69.4 346.0h0.9v0.9h-0.9zM53.9 347.8h0.9v0.9h-0.9zM58.4 325.1h0.9v0.9h-0.9zM58.2 350.0h0.9v0.9h-0.9zM59.4 329.7h0.9v0.9h-0.9zM53.5 352.1h0.9v0.9h-0.9zM52.5 322.6h0.9v0.9h-0.9zM60.7 325.9h0.9v0.9h-0.9zM68.3 330.3h0.9v0.9h-0.9zM54.8 327.2h0.9v0.9h-0.9zM63.8 345.6h0.9v0.9h-0.9zM54.1 346.2h0.9v0.9h-0.9zM49.6 350.1h0.9v0.9h-0.9zM60.6 328.5h0.9v0.9h-0.9zM58.8 345.9h0.9v0.9h-0.9zM50.4 325.5h0.9v0.9h-0.9zM55.7 325.9h0.9v0.9h-0.9zM51.2 322.1h0.9v0.9h-0.9zM66.0 328.9h0.9v0.9h-0.9zM50.8 346.6h0.9v0.9h-0.9zM50.1 349.5h0.9v0.9h-0.9zM50.1 326.5h0.9v0.9h-0.9zM59.3 327.9h0.9v0.9h-0.9zM51.8 326.9h0.9v0.9h-0.9zM50.3 347.5h0.9v0.9h-0.9zM58.5 325.4h0.9v0.9h-0.9zM68.3 345.6h0.9v0.9h-0.9zM60.0 327.2h0.9v0.9h-0.9zM64.0 330.3h0.9v0.9h-0.9zM48.2 348.9h0.9v0.9h-0.9zM53.9 323.5h0.9v0.9h-0.9zM60.2 346.2h0.9v0.9h-0.9zM64.7 328.8h0.9v0.9h-0.9zM52.9 349.8h0.9v0.9h-0.9zM48.4 350.9h0.9v0.9h-0.9zM65.4 345.8h0.9v0.9h-0.9zM57.7 324.8h0.9v0.9h-0.9zM68.2 330.7h0.9v0.9h-0.9zM49.4 347.6h0.9v0.9h-0.9zM62.4 330.0h0.9v0.9h-0.9zM50.6 328.5h0.9v0.9h-0.9zM54.8 352.3h0.9v0.9h-0.9zM64.9 329.6h0.9v0.9h-0.9zM64.6 347.8h0.9v0.9h-0.9zM61.5 345.9h0.9v0.9h-0.9zM66.1 329.1h0.9v0.9h-0.9zM63.3 329.6h0.9v0.9h-0.9zM68.7 345.8h0.9v0.9h-0.9zM50.5 352.5h0.9v0.9h-0.9zM67.4 346.3h0.9v0.9h-0.9zM65.1 329.4h0.9v0.9h-0.9zM65.7 347.0h0.9v0.9h-0.9zM54.1 352.5h0.9v0.9h-0.9zM68.3 345.0h0.9v0.9h-0.9zM64.8 345.6h0.9v0.9h-0.9zM52.6 328.4h0.9v0.9h-0.9zM52.7 349.0h0.9v0.9h-0.9zM62.6 328.0h0.9v0.9h-0.9zM64.7 347.3h0.9v0.9h-0.9zM68.2 329.9h0.9v0.9h-0.9zM49.4 351.1h0.9v0.9h-0.9zM55.0 349.2h0.9v0.9h-0.9zM64.9 330.7h0.9v0.9h-0.9zM47.9 346.7h0.9v0.9h-0.9zM56.7 326.6h0.9v0.9h-0.9zM54.9 328.6h0.9v0.9h-0.9zM66.1 329.6h0.9v0.9h-0.9zM49.4 347.8h0.9v0.9h-0.9zM57.2 349.0h0.9v0.9h-0.9zM50.2 324.6h0.9v0.9h-0.9zM65.6 330.6h0.9v0.9h-0.9zM68.6 330.9h0.9v0.9h-0.9zM67.1 346.1h0.9v0.9h-0.9zM56.2 348.3h0.9v0.9h-0.9zM58.6 324.8h0.9v0.9h-0.9zM65.8 345.3h0.9v0.9h-0.9zM47.5 347.2h0.9v0.9h-0.9zM57.5 325.5h0.9v0.9h-0.9zM55.3 346.2h0.9v0.9h-0.9zM66.5 330.0h0.9v0.9h-0.9zM67.9 346.5h0.9v0.9h-0.9zM49.2 325.1h0.9v0.9h-0.9zM68.6 345.3h0.9v0.9h-0.9zM61.4 346.6h0.9v0.9h-0.9zM62.4 327.0h0.9v0.9h-0.9zM55.5 323.5h0.9v0.9h-0.9zM65.9 346.6h0.9v0.9h-0.9zM57.4 349.6h0.9v0.9h-0.9zM63.5 328.2h0.9v0.9h-0.9zM54.7 346.5h0.9v0.9h-0.9zM67.1 345.2h0.9v0.9h-0.9zM60.2 329.9h0.9v0.9h-0.9zM63.9 328.8h0.9v0.9h-0.9zM64.3 345.8h0.9v0.9h-0.9zM56.8 351.4h0.9v0.9h-0.9zM65.2 329.1h0.9v0.9h-0.9zM68.7 345.8h0.9v0.9h-0.9zM53.6 346.7h0.9v0.9h-0.9zM65.7 328.9h0.9v0.9h-0.9zM50.6 349.6h0.9v0.9h-0.9zM51.1 324.1h0.9v0.9h-0.9zM54.4 329.3h0.9v0.9h-0.9zM55.9 351.7h0.9v0.9h-0.9zM51.6 347.9h0.9v0.9h-0.9zM51.8 327.5h0.9v0.9h-0.9zM49.9 328.2h0.9v0.9h-0.9zM56.0 323.8h0.9v0.9h-0.9zM52.0 322.5h0.9v0.9h-0.9zM65.9 346.5h0.9v0.9h-0.9zM54.4 346.6h0.9v0.9h-0.9zM57.8 348.2h0.9v0.9h-0.9zM64.1 330.0h0.9v0.9h-0.9zM67.7 330.3h0.9v0.9h-0.9zM61.4 346.1h0.9v0.9h-0.9zM48.4 353.1h0.9v0.9h-0.9zM55.3 323.7h0.9v0.9h-0.9zM52.9 346.4h0.9v0.9h-0.9zM64.1 328.7h0.9v0.9h-0.9zM65.3 330.6h0.9v0.9h-0.9zM61.7 349.2h0.9v0.9h-0.9zM62.7 327.8h0.9v0.9h-0.9zM68.2 330.1h0.9v0.9h-0.9zM56.1 325.1h0.9v0.9h-0.9zM51.6 352.6h0.9v0.9h-0.9zM59.0 348.6h0.9v0.9h-0.9zM50.4 327.5h0.9v0.9h-0.9zM56.6 348.2h0.9v0.9h-0.9zM62.2 328.4h0.9v0.9h-0.9zM60.1 346.3h0.9v0.9h-0.9zM64.8 328.4h0.9v0.9h-0.9zM62.3 348.0h0.9v0.9h-0.9zM67.3 346.7h0.9v0.9h-0.9zM65.6 346.6h0.9v0.9h-0.9zM50.4 351.4h0.9v0.9h-0.9zM61.0 329.3h0.9v0.9h-0.9zM60.8 326.7h0.9v0.9h-0.9zM52.2 328.2h0.9v0.9h-0.9zM62.4 349.0h0.9v0.9h-0.9zM55.4 325.6h0.9v0.9h-0.9zM65.9 330.3h0.9v0.9h-0.9zM61.3 329.9h0.9v0.9h-0.9zM48.8 349.2h0.9v0.9h-0.9zM65.3 345.2h0.9v0.9h-0.9zM49.9 347.4h0.9v0.9h-0.9zM55.0 347.5h0.9v0.9h-0.9zM52.3 323.7h0.9v0.9h-0.9zM66.0 347.0h0.9v0.9h-0.9zM48.2 323.3h0.9v0.9h-0.9zM58.6 328.2h0.9v0.9h-0.9zM61.4 348.1h0.9v0.9h-0.9zM56.3 348.3h0.9v0.9h-0.9zM52.5 352.3h0.9v0.9h-0.9zM65.2 328.2h0.9v0.9h-0.9zM69.2 331.3h0.9v0.9h-0.9zM50.4 349.1h0.9v0.9h-0.9zM63.1 329.2h0.9v0.9h-0.9zM51.7 326.9h0.9v0.9h-0.9zM51.8 351.3h0.9v0.9h-0.9zM57.1 346.4h0.9v0.9h-0.9zM51.8 347.6h0.9v0.9h-0.9zM62.9 348.7h0.9v0.9h-0.9zM68.4 346.3h0.9v0.9h-0.9zM63.3 330.4h0.9v0.9h-0.9zM47.8 353.7h0.9v0.9h-0.9zM61.4 329.5h0.9v0.9h-0.9zM51.1 350.5h0.9v0.9h-0.9zM54.2 329.3h0.9v0.9h-0.9zM55.3 351.4h0.9v0.9h-0.9zM57.5 329.5h0.9v0.9h-0.9zM50.9 323.7h0.9v0.9h-0.9zM69.3 346.0h0.9v0.9h-0.9zM58.0 325.6h0.9v0.9h-0.9zM49.9 350.1h0.9v0.9h-0.9zM52.1 328.0h0.9v0.9h-0.9zM67.5 346.2h0.9v0.9h-0.9zM69.1 345.3h0.9v0.9h-0.9zM56.0 350.5h0.9v0.9h-0.9zM50.4 329.5h0.9v0.9h-0.9zM60.4 328.8h0.9v0.9h-0.9zM65.8 329.0h0.9v0.9h-0.9zM48.5 353.8h0.9v0.9h-0.9zM49.1 348.2h0.9v0.9h-0.9zM67.0 345.8h0.9v0.9h-0.9zM52.0 347.4h0.9v0.9h-0.9zM55.9 346.2h0.9v0.9h-0.9zM50.3 328.5h0.9v0.9h-0.9zM60.4 348.0h0.9v0.9h-0.9zM57.2 345.9h0.9v0.9h-0.9zM48.7 326.5h0.9v0.9h-0.9zM62.3 327.9h0.9v0.9h-0.9zM61.8 327.8h0.9v0.9h-0.9zM50.6 353.3h0.9v0.9h-0.9zM48.9 347.5h0.9v0.9h-0.9zM52.5 348.3h0.9v0.9h-0.9zM65.6 346.5h0.9v0.9h-0.9zM48.3 346.6h0.9v0.9h-0.9zM65.2 330.7h0.9v0.9h-0.9zM52.8 322.7h0.9v0.9h-0.9zM62.3 348.8h0.9v0.9h-0.9zM67.7 330.8h0.9v0.9h-0.9zM47.9 323.5h0.9v0.9h-0.9zM68.9 330.4h0.9v0.9h-0.9zM65.3 345.4h0.9v0.9h-0.9zM49.8 352.3h0.9v0.9h-0.9zM67.7 345.0h0.9v0.9h-0.9zM59.7 349.2h0.9v0.9h-0.9zM61.1 347.6h0.9v0.9h-0.9zM49.2 346.4h0.9v0.9h-0.9zM53.9 327.3h0.9v0.9h-0.9zM63.9 345.3h0.9v0.9h-0.9zM65.4 329.8h0.9v0.9h-0.9zM61.8 329.8h0.9v0.9h-0.9zM49.9 354.2h0.9v0.9h-0.9zM55.3 346.2h0.9v0.9h-0.9zM66.2 329.0h0.9v0.9h-0.9zM55.6 347.2h0.9v0.9h-0.9zM50.8 350.4h0.9v0.9h-0.9zM64.4 330.7h0.9v0.9h-0.9zM50.0 351.3h0.9v0.9h-0.9zM58.9 328.1h0.9v0.9h-0.9zM60.9 347.9h0.9v0.9h-0.9zM63.6 347.7h0.9v0.9h-0.9zM65.9 329.3h0.9v0.9h-0.9zM62.5 327.3h0.9v0.9h-0.9zM66.8 345.3h0.9v0.9h-0.9zM57.2 326.1h0.9v0.9h-0.9zM54.1 327.7h0.9v0.9h-0.9zM49.6 349.1h0.9v0.9h-0.9zM61.9 349.0h0.9v0.9h-0.9zM65.9 347.6h0.9v0.9h-0.9zM53.5 328.2h0.9v0.9h-0.9zM48.0 347.5h0.9v0.9h-0.9zM67.8 345.4h0.9v0.9h-0.9zM64.5 347.7h0.9v0.9h-0.9zM59.2 345.8h0.9v0.9h-0.9zM54.4 325.8h0.9v0.9h-0.9zM59.3 325.3h0.9v0.9h-0.9zM59.2 348.4h0.9v0.9h-0.9zM68.1 345.5h0.9v0.9h-0.9zM62.7 326.9h0.9v0.9h-0.9zM52.2 347.7h0.9v0.9h-0.9zM47.8 347.8h0.9v0.9h-0.9zM69.3 331.3h0.9v0.9h-0.9zM62.6 347.6h0.9v0.9h-0.9zM64.1 330.1h0.9v0.9h-0.9zM48.1 324.3h0.9v0.9h-0.9zM53.2 352.9h0.9v0.9h-0.9zM60.5 348.0h0.9v0.9h-0.9zM62.8 329.6h0.9v0.9h-0.9zM49.0 329.8h0.9v0.9h-0.9zM50.6 329.0h0.9v0.9h-0.9zM68.8 330.4h0.9v0.9h-0.9zM64.4 330.3h0.9v0.9h-0.9zM54.2 348.1h0.9v0.9h-0.9zM57.3 326.0h0.9v0.9h-0.9zM68.0 345.4h0.9v0.9h-0.9zM48.2 322.8h0.9v0.9h-0.9zM66.3 346.8h0.9v0.9h-0.9zM53.6 329.3h0.9v0.9h-0.9zM67.4 345.2h0.9v0.9h-0.9zM60.4 327.4h0.9v0.9h-0.9zM50.7 346.6h0.9v0.9h-0.9zM55.9 349.4h0.9v0.9h-0.9zM52.4 329.0h0.9v0.9h-0.9zM66.3 345.2h0.9v0.9h-0.9zM55.5 325.4h0.9v0.9h-0.9zM64.8 330.2h0.9v0.9h-0.9zM59.0 329.6h0.9v0.9h-0.9zM65.0 330.2h0.9v0.9h-0.9zM64.3 330.2h0.9v0.9h-0.9zM52.3 327.1h0.9v0.9h-0.9zM61.6 346.9h0.9v0.9h-0.9zM48.6 351.4h0.9v0.9h-0.9zM52.7 329.2h0.9v0.9h-0.9zM50.0 349.2h0.9v0.9h-0.9zM49.6 329.2h0.9v0.9h-0.9zM51.3 328.2h0.9v0.9h-0.9zM50.1 329.3h0.9v0.9h-0.9zM57.8 350.7h0.9v0.9h-0.9zM49.1 347.4h0.9v0.9h-0.9zM59.9 349.4h0.9v0.9h-0.9zM66.4 345.2h0.9v0.9h-0.9zM59.0 329.1h0.9v0.9h-0.9zM66.5 330.7h0.9v0.9h-0.9zM53.3 323.0h0.9v0.9h-0.9zM63.6 330.4h0.9v0.9h-0.9zM54.5 346.8h0.9v0.9h-0.9zM55.4 346.3h0.9v0.9h-0.9zM58.1 329.2h0.9v0.9h-0.9zM61.9 328.6h0.9v0.9h-0.9zM57.8 349.4h0.9v0.9h-0.9zM52.6 349.1h0.9v0.9h-0.9zM61.8 345.7h0.9v0.9h-0.9zM68.3 346.0h0.9v0.9h-0.9zM55.6 324.1h0.9v0.9h-0.9zM52.5 349.9h0.9v0.9h-0.9zM49.3 328.6h0.9v0.9h-0.9zM57.2 329.3h0.9v0.9h-0.9zM64.0 346.8h0.9v0.9h-0.9zM56.3 326.0h0.9v0.9h-0.9zM68.4 331.0h0.9v0.9h-0.9zM58.8 325.1h0.9v0.9h-0.9zM69.3 330.7h0.9v0.9h-0.9zM65.8 345.4h0.9v0.9h-0.9zM57.5 346.5h0.9v0.9h-0.9zM54.6 327.4h0.9v0.9h-0.9zM62.2 330.3h0.9v0.9h-0.9zM51.1 323.2h0.9v0.9h-0.9zM60.9 329.4h0.9v0.9h-0.9zM59.9 327.0h0.9v0.9h-0.9zM52.8 346.6h0.9v0.9h-0.9zM50.8 346.8h0.9v0.9h-0.9zM60.3 326.2h0.9v0.9h-0.9zM52.7 346.9h0.9v0.9h-0.9zM57.5 347.5h0.9v0.9h-0.9zM62.1 348.6h0.9v0.9h-0.9zM53.4 322.8h0.9v0.9h-0.9zM48.6 322.0h0.9v0.9h-0.9zM47.9 328.0h0.9v0.9h-0.9zM68.8 330.1h0.9v0.9h-0.9zM59.1 349.6h0.9v0.9h-0.9zM61.9 328.6h0.9v0.9h-0.9zM52.9 350.3h0.9v0.9h-0.9zM65.1 347.6h0.9v0.9h-0.9zM51.7 346.5h0.9v0.9h-0.9zM60.0 346.0h0.9v0.9h-0.9zM53.1 328.2h0.9v0.9h-0.9zM59.0 326.9h0.9v0.9h-0.9zM63.8 328.8h0.9v0.9h-0.9zM62.3 327.5h0.9v0.9h-0.9zM58.0 348.9h0.9v0.9h-0.9zM61.7 345.8h0.9v0.9h-0.9zM64.8 330.3h0.9v0.9h-0.9zM68.6 331.1h0.9v0.9h-0.9zM68.7 330.0h0.9v0.9h-0.9zM63.7 346.1h0.9v0.9h-0.9zM64.4 330.4h0.9v0.9h-0.9zM52.2 327.9h0.9v0.9h-0.9zM50.5 327.0h0.9v0.9h-0.9zM49.2 350.4h0.9v0.9h-0.9zM60.2 346.7h0.9v0.9h-0.9zM57.1 329.1h0.9v0.9h-0.9zM47.9 324.4h0.9v0.9h-0.9zM55.6 351.8h0.9v0.9h-0.9zM65.9 346.5h0.9v0.9h-0.9zM63.0 327.1h0.9v0.9h-0.9zM64.4 330.0h0.9v0.9h-0.9zM65.6 346.5h0.9v0.9h-0.9zM66.8 329.9h0.9v0.9h-0.9zM47.8 350.2h0.9v0.9h-0.9zM53.5 329.1h0.9v0.9h-0.9zM51.3 324.5h0.9v0.9h-0.9zM52.6 347.5h0.9v0.9h-0.9zM69.2 331.4h0.9v0.9h-0.9zM68.1 329.6h0.9v0.9h-0.9zM54.9 326.7h0.9v0.9h-0.9zM56.7 327.4h0.9v0.9h-0.9zM48.7 329.5h0.9v0.9h-0.9zM49.5 350.8h0.9v0.9h-0.9zM53.3 351.3h0.9v0.9h-0.9zM55.0 326.9h0.9v0.9h-0.9zM67.9 330.4h0.9v0.9h-0.9zM50.9 324.5h0.9v0.9h-0.9zM63.3 345.8h0.9v0.9h-0.9zM65.1 345.3h0.9v0.9h-0.9zM51.7 351.1h0.9v0.9h-0.9zM64.9 330.3h0.9v0.9h-0.9zM62.1 328.5h0.9v0.9h-0.9zM51.7 325.5h0.9v0.9h-0.9zM61.4 329.6h0.9v0.9h-0.9zM56.8 348.3h0.9v0.9h-0.9zM48.2 323.9h0.9v0.9h-0.9zM53.9 349.9h0.9v0.9h-0.9zM61.0 326.4h0.9v0.9h-0.9zM54.3 325.5h0.9v0.9h-0.9zM51.0 347.3h0.9v0.9h-0.9zM65.7 346.8h0.9v0.9h-0.9zM65.0 330.1h0.9v0.9h-0.9zM63.4 345.3h0.9v0.9h-0.9zM49.5 346.4h0.9v0.9h-0.9zM50.8 353.5h0.9v0.9h-0.9zM57.7 329.1h0.9v0.9h-0.9zM58.6 327.7h0.9v0.9h-0.9zM63.3 346.8h0.9v0.9h-0.9zM49.8 329.4h0.9v0.9h-0.9zM58.1 346.6h0.9v0.9h-0.9zM52.4 327.6h0.9v0.9h-0.9zM63.2 328.0h0.9v0.9h-0.9zM57.3 350.8h0.9v0.9h-0.9zM61.1 329.9h0.9v0.9h-0.9zM61.5 329.5h0.9v0.9h-0.9zM69.1 330.2h0.9v0.9h-0.9zM57.7 326.8h0.9v0.9h-0.9zM49.0 352.1h0.9v0.9h-0.9zM57.1 329.5h0.9v0.9h-0.9zM49.6 321.7h0.9v0.9h-0.9zM53.8 324.5h0.9v0.9h-0.9zM49.8 329.4h0.9v0.9h-0.9zM59.2 326.0h0.9v0.9h-0.9zM51.3 323.8h0.9v0.9h-0.9zM54.9 329.1h0.9v0.9h-0.9zM68.9 331.2h0.9v0.9h-0.9zM63.8 348.0h0.9v0.9h-0.9zM57.9 350.8h0.9v0.9h-0.9zM53.9 348.6h0.9v0.9h-0.9zM63.6 330.3h0.9v0.9h-0.9zM68.6 345.0h0.9v0.9h-0.9zM55.0 328.4h0.9v0.9h-0.9zM57.8 324.4h0.9v0.9h-0.9zM47.4 349.3h0.9v0.9h-0.9zM47.2 345.8h0.9v0.9h-0.9zM47.3 332.9h0.9v0.9h-0.9zM46.9 348.3h0.9v0.9h-0.9zM47.5 349.6h0.9v0.9h-0.9zM47.6 346.4h0.9v0.9h-0.9zM46.2 341.4h0.9v0.9h-0.9zM46.6 332.5h0.9v0.9h-0.9zM47.4 349.2h0.9v0.9h-0.9zM47.1 333.7h0.9v0.9h-0.9zM47.2 334.0h0.9v0.9h-0.9zM47.1 325.5h0.9v0.9h-0.9zM47.0 329.3h0.9v0.9h-0.9zM47.2 342.3h0.9v0.9h-0.9zM47.6 350.4h0.9v0.9h-0.9zM47.1 351.4h0.9v0.9h-0.9zM46.5 347.7h0.9v0.9h-0.9zM47.5 346.2h0.9v0.9h-0.9zM47.6 348.0h0.9v0.9h-0.9zM46.6 334.2h0.9v0.9h-0.9zM47.0 348.9h0.9v0.9h-0.9zM47.0 332.8h0.9v0.9h-0.9zM46.8 348.3h0.9v0.9h-0.9zM46.5 349.1h0.9v0.9h-0.9zM46.5 350.1h0.9v0.9h-0.9zM46.3 345.8h0.9v0.9h-0.9zM47.5 343.7h0.9v0.9h-0.9zM47.4 349.8h0.9v0.9h-0.9zM47.0 339.5h0.9v0.9h-0.9zM47.4 347.1h0.9v0.9h-0.9zM47.3 347.0h0.9v0.9h-0.9zM47.2 332.9h0.9v0.9h-0.9zM47.1 330.0h0.9v0.9h-0.9zM47.2 322.8h0.9v0.9h-0.9zM47.6 347.5h0.9v0.9h-0.9zM47.3 324.2h0.9v0.9h-0.9zM47.4 345.7h0.9v0.9h-0.9zM46.9 334.9h0.9v0.9h-0.9zM47.0 347.7h0.9v0.9h-0.9zM47.4 342.2h0.9v0.9h-0.9zM46.1 350.6h0.9v0.9h-0.9zM47.3 345.5h0.9v0.9h-0.9zM47.0 332.0h0.9v0.9h-0.9zM46.9 325.4h0.9v0.9h-0.9zM47.2 340.8h0.9v0.9h-0.9zM46.9 337.5h0.9v0.9h-0.9zM46.8 335.3h0.9v0.9h-0.9zM46.9 328.7h0.9v0.9h-0.9zM46.4 333.6h0.9v0.9h-0.9zM46.3 344.3h0.9v0.9h-0.9zM47.4 326.0h0.9v0.9h-0.9zM47.5 340.9h0.9v0.9h-0.9zM47.4 335.8h0.9v0.9h-0.9zM46.9 325.0h0.9v0.9h-0.9zM47.1 338.8h0.9v0.9h-0.9zM46.5 333.4h0.9v0.9h-0.9zM47.6 329.1h0.9v0.9h-0.9zM46.3 329.0h0.9v0.9h-0.9zM46.9 350.3h0.9v0.9h-0.9zM47.6 334.2h0.9v0.9h-0.9zM64.8 309.5h0.9v0.9h-0.9zM47.5 311.0h0.9v0.9h-0.9zM49.8 313.8h0.9v0.9h-0.9zM53.5 313.5h0.9v0.9h-0.9zM91.5 316.5h0.9v0.9h-0.9zM122.4 331.6h0.9v0.9h-0.9zM150.4 332.4h0.9v0.9h-0.9zM158.0 333.3h0.9v0.9h-0.9zM121.0 338.5h0.9v0.9h-0.9zM123.0 341.5h0.9v0.9h-0.9zM125.0 339.5h0.9v0.9h-0.9zM127.0 342.0h0.9v0.9h-0.9zM129.0 339.0h0.9v0.9h-0.9zM131.0 341.0h0.9v0.9h-0.9zM133.0 338.5h0.9v0.9h-0.9zM135.0 340.0h0.9v0.9h-0.9zM136.0 342.5h0.9v0.9h-0.9zM90.0 327.0h0.9v0.9h-0.9zM75.0 321.0h0.9v0.9h-0.9zM80.0 323.0h0.9v0.9h-0.9zM56.0 360.0h0.9v0.9h-0.9zM60.0 356.0h0.9v0.9h-0.9zM48.0 366.0h0.9v0.9h-0.9zM58.0 367.0h0.9v0.9h-0.9zM53.0 317.0h0.9v0.9h-0.9zM49.0 313.0h0.9v0.9h-0.9zM52.0 316.0h0.9v0.9h-0.9zM55.0 319.0h0.9v0.9h-0.9zM64.0 322.0h0.9v0.9h-0.9zM70.0 318.0h0.9v0.9h-0.9zM84.0 319.0h0.9v0.9h-0.9zM60.0 357.0h0.9v0.9h-0.9zM66.0 362.0h0.9v0.9h-0.9z" fill="#111"/>
<path d="M94.9 344.9h1.0v1.0h-1.0zM75.1 347.4h1.0v1.0h-1.0zM67.7 348.0h1.0v1.0h-1.0zM65.4 345.9h1.0v1.0h-1.0zM110.0 343.9h1.0v1.0h-1.0zM105.3 343.7h1.0v1.0h-1.0zM97.5 346.3h1.0v1.0h-1.0zM68.8 327.4h1.0v1.0h-1.0zM84.1 350.1h1.0v1.0h-1.0zM84.6 347.0h1.0v1.0h-1.0zM87.1 331.8h1.0v1.0h-1.0zM80.0 346.9h1.0v1.0h-1.0zM71.5 330.1h1.0v1.0h-1.0zM82.4 331.5h1.0v1.0h-1.0zM58.3 345.7h1.0v1.0h-1.0zM70.3 328.8h1.0v1.0h-1.0zM84.9 330.5h1.0v1.0h-1.0zM68.5 347.5h1.0v1.0h-1.0zM95.5 343.6h1.0v1.0h-1.0zM72.2 347.9h1.0v1.0h-1.0zM106.1 333.9h1.0v1.0h-1.0zM62.5 330.1h1.0v1.0h-1.0zM99.4 345.8h1.0v1.0h-1.0zM91.2 346.7h1.0v1.0h-1.0zM75.5 345.4h1.0v1.0h-1.0zM66.4 347.6h1.0v1.0h-1.0zM90.1 345.5h1.0v1.0h-1.0zM62.4 328.7h1.0v1.0h-1.0zM74.4 346.6h1.0v1.0h-1.0zM80.9 347.7h1.0v1.0h-1.0zM83.3 345.0h1.0v1.0h-1.0zM88.8 333.3h1.0v1.0h-1.0zM66.8 329.9h1.0v1.0h-1.0zM79.0 350.0h1.0v1.0h-1.0zM80.1 344.4h1.0v1.0h-1.0zM65.9 346.7h1.0v1.0h-1.0zM87.8 331.5h1.0v1.0h-1.0zM76.4 347.1h1.0v1.0h-1.0zM105.9 344.0h1.0v1.0h-1.0zM86.8 345.6h1.0v1.0h-1.0zM96.2 345.7h1.0v1.0h-1.0zM102.3 345.8h1.0v1.0h-1.0zM88.7 346.4h1.0v1.0h-1.0zM86.6 350.0h1.0v1.0h-1.0zM67.5 327.8h1.0v1.0h-1.0zM59.4 347.6h1.0v1.0h-1.0zM82.9 346.9h1.0v1.0h-1.0zM76.2 349.4h1.0v1.0h-1.0zM106.3 344.3h1.0v1.0h-1.0zM78.1 345.5h1.0v1.0h-1.0zM98.9 334.5h1.0v1.0h-1.0zM76.9 347.1h1.0v1.0h-1.0zM86.0 332.3h1.0v1.0h-1.0zM66.3 350.1h1.0v1.0h-1.0zM59.1 326.0h1.0v1.0h-1.0zM65.6 329.0h1.0v1.0h-1.0zM61.0 330.0h1.0v1.0h-1.0zM105.3 346.2h1.0v1.0h-1.0zM86.6 349.7h1.0v1.0h-1.0zM80.6 330.0h1.0v1.0h-1.0zM96.9 343.4h1.0v1.0h-1.0zM103.4 344.6h1.0v1.0h-1.0zM89.0 345.4h1.0v1.0h-1.0zM64.5 330.0h1.0v1.0h-1.0zM94.8 345.5h1.0v1.0h-1.0zM67.4 346.8h1.0v1.0h-1.0zM93.0 347.4h1.0v1.0h-1.0zM80.6 350.6h1.0v1.0h-1.0zM71.2 324.7h1.0v1.0h-1.0zM94.7 334.3h1.0v1.0h-1.0zM67.4 329.7h1.0v1.0h-1.0zM61.1 349.6h1.0v1.0h-1.0zM93.4 331.8h1.0v1.0h-1.0zM87.9 346.3h1.0v1.0h-1.0zM103.8 343.5h1.0v1.0h-1.0zM107.1 345.8h1.0v1.0h-1.0zM105.6 344.7h1.0v1.0h-1.0zM77.9 346.4h1.0v1.0h-1.0zM58.2 347.2h1.0v1.0h-1.0zM58.3 347.9h1.0v1.0h-1.0zM79.5 347.3h1.0v1.0h-1.0zM79.3 345.3h1.0v1.0h-1.0zM107.7 343.6h1.0v1.0h-1.0zM77.6 331.9h1.0v1.0h-1.0zM105.0 344.8h1.0v1.0h-1.0zM109.5 346.5h1.0v1.0h-1.0zM74.6 345.1h1.0v1.0h-1.0zM66.2 349.4h1.0v1.0h-1.0zM83.4 332.1h1.0v1.0h-1.0zM106.4 343.1h1.0v1.0h-1.0zM65.8 349.4h1.0v1.0h-1.0zM88.5 345.5h1.0v1.0h-1.0zM106.5 335.8h1.0v1.0h-1.0zM72.4 331.4h1.0v1.0h-1.0zM103.3 343.5h1.0v1.0h-1.0zM96.0 344.6h1.0v1.0h-1.0zM63.1 345.8h1.0v1.0h-1.0zM92.0 333.6h1.0v1.0h-1.0zM77.3 353.8h1.0v1.0h-1.0zM80.2 346.7h1.0v1.0h-1.0zM100.0 347.4h1.0v1.0h-1.0zM78.9 346.5h1.0v1.0h-1.0zM82.6 332.7h1.0v1.0h-1.0zM93.3 334.0h1.0v1.0h-1.0zM109.4 343.4h1.0v1.0h-1.0zM91.1 344.2h1.0v1.0h-1.0zM71.0 348.4h1.0v1.0h-1.0zM62.5 346.7h1.0v1.0h-1.0zM104.4 334.5h1.0v1.0h-1.0zM95.4 344.9h1.0v1.0h-1.0zM75.8 345.8h1.0v1.0h-1.0zM100.4 334.1h1.0v1.0h-1.0zM67.7 345.0h1.0v1.0h-1.0zM106.4 345.0h1.0v1.0h-1.0zM98.9 333.6h1.0v1.0h-1.0zM105.1 343.1h1.0v1.0h-1.0zM108.5 344.1h1.0v1.0h-1.0zM102.5 344.6h1.0v1.0h-1.0zM63.1 347.4h1.0v1.0h-1.0zM96.7 332.7h1.0v1.0h-1.0zM82.1 350.7h1.0v1.0h-1.0zM66.3 345.6h1.0v1.0h-1.0zM86.8 345.4h1.0v1.0h-1.0zM82.5 346.2h1.0v1.0h-1.0zM71.9 348.1h1.0v1.0h-1.0zM88.6 333.4h1.0v1.0h-1.0zM104.1 350.9h1.0v1.0h-1.0zM65.3 346.2h1.0v1.0h-1.0zM108.3 344.1h1.0v1.0h-1.0zM59.5 329.9h1.0v1.0h-1.0zM64.4 329.4h1.0v1.0h-1.0zM107.3 344.4h1.0v1.0h-1.0zM76.8 345.8h1.0v1.0h-1.0zM102.9 344.7h1.0v1.0h-1.0zM76.7 345.8h1.0v1.0h-1.0zM70.7 352.1h1.0v1.0h-1.0zM61.3 329.4h1.0v1.0h-1.0zM84.4 333.4h1.0v1.0h-1.0zM101.5 344.7h1.0v1.0h-1.0zM109.6 347.3h1.0v1.0h-1.0zM95.1 332.3h1.0v1.0h-1.0zM108.4 344.3h1.0v1.0h-1.0zM87.6 330.6h1.0v1.0h-1.0zM88.7 347.4h1.0v1.0h-1.0zM58.7 327.7h1.0v1.0h-1.0zM63.3 350.5h1.0v1.0h-1.0zM71.9 346.2h1.0v1.0h-1.0zM108.3 343.3h1.0v1.0h-1.0zM94.3 331.5h1.0v1.0h-1.0zM63.7 350.9h1.0v1.0h-1.0zM72.1 330.3h1.0v1.0h-1.0zM107.6 346.4h1.0v1.0h-1.0zM109.7 342.7h1.0v1.0h-1.0zM95.8 343.9h1.0v1.0h-1.0zM76.7 345.2h1.0v1.0h-1.0zM66.2 329.3h1.0v1.0h-1.0zM88.6 346.3h1.0v1.0h-1.0zM87.9 347.2h1.0v1.0h-1.0zM79.5 346.0h1.0v1.0h-1.0zM80.0 332.3h1.0v1.0h-1.0zM97.4 334.0h1.0v1.0h-1.0zM62.8 346.2h1.0v1.0h-1.0zM78.2 345.3h1.0v1.0h-1.0zM92.8 344.6h1.0v1.0h-1.0zM81.5 348.1h1.0v1.0h-1.0zM67.4 330.4h1.0v1.0h-1.0zM62.3 349.3h1.0v1.0h-1.0zM80.0 347.1h1.0v1.0h-1.0zM84.6 344.9h1.0v1.0h-1.0zM73.9 346.9h1.0v1.0h-1.0zM105.3 343.5h1.0v1.0h-1.0zM60.4 329.0h1.0v1.0h-1.0zM102.1 345.9h1.0v1.0h-1.0zM61.0 349.3h1.0v1.0h-1.0zM75.4 331.9h1.0v1.0h-1.0zM84.6 330.8h1.0v1.0h-1.0zM92.8 343.8h1.0v1.0h-1.0zM104.9 336.0h1.0v1.0h-1.0zM69.6 346.0h1.0v1.0h-1.0zM93.7 345.4h1.0v1.0h-1.0zM75.4 332.0h1.0v1.0h-1.0zM78.8 345.1h1.0v1.0h-1.0zM80.4 330.1h1.0v1.0h-1.0zM109.5 344.8h1.0v1.0h-1.0zM63.2 346.2h1.0v1.0h-1.0zM92.8 344.5h1.0v1.0h-1.0zM100.1 331.6h1.0v1.0h-1.0zM82.6 332.2h1.0v1.0h-1.0zM83.2 332.5h1.0v1.0h-1.0zM88.1 346.7h1.0v1.0h-1.0zM60.4 346.7h1.0v1.0h-1.0zM74.7 331.7h1.0v1.0h-1.0zM88.3 345.3h1.0v1.0h-1.0zM77.1 348.5h1.0v1.0h-1.0zM72.4 345.3h1.0v1.0h-1.0zM62.8 346.2h1.0v1.0h-1.0zM103.0 346.8h1.0v1.0h-1.0zM95.3 331.0h1.0v1.0h-1.0zM77.8 345.9h1.0v1.0h-1.0zM76.4 345.3h1.0v1.0h-1.0zM109.8 347.2h1.0v1.0h-1.0zM103.0 344.7h1.0v1.0h-1.0zM108.4 346.7h1.0v1.0h-1.0zM68.2 345.2h1.0v1.0h-1.0zM83.1 345.5h1.0v1.0h-1.0zM88.6 331.8h1.0v1.0h-1.0zM72.4 346.6h1.0v1.0h-1.0zM92.5 334.1h1.0v1.0h-1.0zM85.7 332.7h1.0v1.0h-1.0zM98.6 346.5h1.0v1.0h-1.0zM70.9 346.5h1.0v1.0h-1.0zM73.1 345.3h1.0v1.0h-1.0zM94.9 346.9h1.0v1.0h-1.0zM69.1 346.1h1.0v1.0h-1.0zM76.6 346.4h1.0v1.0h-1.0zM96.1 331.9h1.0v1.0h-1.0zM70.2 346.2h1.0v1.0h-1.0zM91.0 346.1h1.0v1.0h-1.0zM72.2 331.6h1.0v1.0h-1.0zM108.0 344.0h1.0v1.0h-1.0zM92.9 345.0h1.0v1.0h-1.0zM75.5 331.4h1.0v1.0h-1.0zM99.4 344.9h1.0v1.0h-1.0zM72.0 345.7h1.0v1.0h-1.0zM95.0 347.3h1.0v1.0h-1.0zM80.8 347.7h1.0v1.0h-1.0zM74.3 346.0h1.0v1.0h-1.0zM72.6 346.9h1.0v1.0h-1.0zM102.3 347.1h1.0v1.0h-1.0zM80.2 330.0h1.0v1.0h-1.0zM67.3 285.2h1.0v1.0h-1.0zM48.2 285.2h1.0v1.0h-1.0zM49.8 285.2h1.0v1.0h-1.0zM52.6 285.2h1.0v1.0h-1.0zM53.8 285.2h1.0v1.0h-1.0zM62.0 291.8h1.0v1.0h-1.0zM51.0 303.6h1.0v1.0h-1.0zM57.0 310.0h1.0v1.0h-1.0zM58.0 316.0h1.0v1.0h-1.0zM55.0 321.0h1.0v1.0h-1.0zM61.0 323.0h1.0v1.0h-1.0zM66.0 364.0h1.0v1.0h-1.0zM55.0 368.0h1.0v1.0h-1.0zM50.0 375.0h1.0v1.0h-1.0zM51.5 378.0h1.0v1.0h-1.0zM49.0 384.0h1.0v1.0h-1.0zM48.2 392.4h1.0v1.0h-1.0zM50.0 392.4h1.0v1.0h-1.0zM57.2 392.4h1.0v1.0h-1.0zM60.5 392.4h1.0v1.0h-1.0zM64.0 392.4h1.0v1.0h-1.0zM70.0 356.0h1.0v1.0h-1.0zM72.0 360.0h1.0v1.0h-1.0zM90.0 356.0h1.0v1.0h-1.0zM102.0 353.0h1.0v1.0h-1.0zM95.0 355.0h1.0v1.0h-1.0zM78.0 352.0h1.0v1.0h-1.0zM66.0 352.0h1.0v1.0h-1.0zM62.0 355.0h1.0v1.0h-1.0zM68.0 323.0h1.0v1.0h-1.0zM75.0 322.0h1.0v1.0h-1.0zM85.0 326.0h1.0v1.0h-1.0zM92.0 328.0h1.0v1.0h-1.0z" fill="#e8202a"/>
<defs><linearGradient id="gu" x1="0" y1="1" x2="0" y2="0"><stop offset="0" stop-color="#f7941d" stop-opacity="0"/><stop offset="1" stop-color="#e8641b"/></linearGradient><linearGradient id="gd" x1="0" y1="0" x2="0" y2="1"><stop offset="0" stop-color="#f7941d" stop-opacity="0"/><stop offset="1" stop-color="#e8641b"/></linearGradient></defs>
<rect x="115.70" y="296.50" width="0.80" height="17.50" fill="url(#gu)" />
<path d="M113.9 298 L116 294.2 L118.1 298 Z" fill="#e8641b"/>
<rect x="60.10" y="365.00" width="0.80" height="18.00" fill="url(#gd)" />
<path d="M57.9 382.6 L60.5 386.3 L63.1 382.6 Z" fill="#e8641b"/>
<text x="119.40" y="303.60" font-family="Liberation Sans" font-size="7.0" fill="#222" font-weight="normal" font-style="normal" text-anchor="start" textLength="30.60" lengthAdjust="spacingAndGlyphs" stroke="#222" stroke-width="0.12" >77 genes</text>
<text x="119.4" y="312.3" font-family="Liberation Sans" font-size="7.0" fill="#222" stroke="#222" stroke-width="0.12" textLength="34" lengthAdjust="spacingAndGlyphs">e.g.: <tspan font-style="italic">MPO</tspan></text>
<text x="64.00" y="373.80" font-family="Liberation Sans" font-size="7.0" fill="#222" font-weight="normal" font-style="normal" text-anchor="start" textLength="36.70" lengthAdjust="spacingAndGlyphs" stroke="#222" stroke-width="0.12" >193 genes:</text>
<text x="63.2" y="382.7" font-family="Liberation Sans" font-size="7.0" fill="#222" stroke="#222" stroke-width="0.12" textLength="111.8" lengthAdjust="spacingAndGlyphs" font-style="italic">e.g.: VWF, ITGB3.1, HBB, EPOR</text>
<rect x="248.30" y="300.00" width="105.70" height="43.60" fill="#fff" stroke="#3a3a3a" stroke-width="1.0"/>
<line x1="259.85" y1="301.00" x2="259.85" y2="342.60" stroke="#ececec" stroke-width="0.5" />
<line x1="271.10" y1="301.00" x2="271.10" y2="342.60" stroke="#ececec" stroke-width="0.5" />
<line x1="282.35" y1="301.00" x2="282.35" y2="342.60" stroke="#ececec" stroke-width="0.5" />
<line x1="293.60" y1="301.00" x2="293.60" y2="342.60" stroke="#ececec" stroke-width="0.5" />
<line x1="304.85" y1="301.00" x2="304.85" y2="342.60" stroke="#ececec" stroke-width="0.5" />
<line x1="316.10" y1="301.00" x2="316.10" y2="342.60" stroke="#ececec" stroke-width="0.5" />
<line x1="327.35" y1="301.00" x2="327.35" y2="342.60" stroke="#ececec" stroke-width="0.5" />
<line x1="338.60" y1="301.00" x2="338.60" y2="342.60" stroke="#ececec" stroke-width="0.5" />
<line x1="249.30" y1="311.05" x2="353.00" y2="311.05" stroke="#efefef" stroke-width="0.5" />
<line x1="249.30" y1="318.35" x2="353.00" y2="318.35" stroke="#efefef" stroke-width="0.5" />
<line x1="249.30" y1="325.65" x2="353.00" y2="325.65" stroke="#efefef" stroke-width="0.5" />
<line x1="249.30" y1="332.95" x2="353.00" y2="332.95" stroke="#efefef" stroke-width="0.5" />
<line x1="249.30" y1="340.25" x2="353.00" y2="340.25" stroke="#efefef" stroke-width="0.5" />
<line x1="248.90" y1="303.75" x2="353.40" y2="303.75" stroke="#d4d4d4" stroke-width="1.0" />
<line x1="246.10" y1="303.75" x2="248.30" y2="303.75" stroke="#333" stroke-width="0.9" />
<text x="243.20" y="306.25" font-family="Liberation Sans" font-size="7.3" fill="#2a2a2a" font-weight="normal" font-style="normal" text-anchor="end" textLength="10.94" lengthAdjust="spacingAndGlyphs" stroke="#2a2a2a" stroke-width="0.15" >0.0</text>
<line x1="246.10" y1="311.05" x2="248.30" y2="311.05" stroke="#333" stroke-width="0.9" />
<text x="243.20" y="313.55" font-family="Liberation Sans" font-size="7.3" fill="#2a2a2a" font-weight="normal" font-style="normal" text-anchor="end" textLength="15.20" lengthAdjust="spacingAndGlyphs" stroke="#2a2a2a" stroke-width="0.15" >−0.1</text>
<line x1="246.10" y1="318.35" x2="248.30" y2="318.35" stroke="#333" stroke-width="0.9" />
<text x="243.20" y="320.85" font-family="Liberation Sans" font-size="7.3" fill="#2a2a2a" font-weight="normal" font-style="normal" text-anchor="end" textLength="15.20" lengthAdjust="spacingAndGlyphs" stroke="#2a2a2a" stroke-width="0.15" >−0.2</text>
<line x1="246.10" y1="325.65" x2="248.30" y2="325.65" stroke="#333" stroke-width="0.9" />
<text x="243.20" y="328.15" font-family="Liberation Sans" font-size="7.3" fill="#2a2a2a" font-weight="normal" font-style="normal" text-anchor="end" textLength="15.20" lengthAdjust="spacingAndGlyphs" stroke="#2a2a2a" stroke-width="0.15" >−0.3</text>
<line x1="246.10" y1="332.95" x2="248.30" y2="332.95" stroke="#333" stroke-width="0.9" />
<text x="243.20" y="335.45" font-family="Liberation Sans" font-size="7.3" fill="#2a2a2a" font-weight="normal" font-style="normal" text-anchor="end" textLength="15.20" lengthAdjust="spacingAndGlyphs" stroke="#2a2a2a" stroke-width="0.15" >−0.4</text>
<line x1="246.10" y1="340.25" x2="248.30" y2="340.25" stroke="#333" stroke-width="0.9" />
<text x="243.20" y="342.75" font-family="Liberation Sans" font-size="7.3" fill="#2a2a2a" font-weight="normal" font-style="normal" text-anchor="end" textLength="15.20" lengthAdjust="spacingAndGlyphs" stroke="#2a2a2a" stroke-width="0.15" >−0.5</text>
<path d="M248.60 303.75 L270.30 319.80 L271.50 317.20 L277.20 321.80 L278.50 318.40 L279.80 319.20 L281.20 317.40 L288.30 322.60 L289.30 321.40 L290.20 322.30 L291.40 320.80 L313.20 335.60 L314.20 334.60 L324.40 342.30 L327.10 333.90 L329.20 335.50 L330.70 330.30 L332.80 332.40 L334.40 328.20 L336.00 330.80 L338.00 318.30 L339.10 317.60 L340.70 307.80 L346.40 311.50 L347.40 302.60 L349.00 302.40" fill="none" stroke="#4cb847" stroke-width="1.25" stroke-linejoin="round"/>
<text x="305.00" y="314.80" font-family="Liberation Sans" font-size="6.0" fill="#222" font-weight="normal" font-style="normal" text-anchor="start" textLength="26.80" lengthAdjust="spacingAndGlyphs" >NES=−1.79</text>
<text x="305.00" y="321.60" font-family="Liberation Sans" font-size="6.0" fill="#222" font-weight="normal" font-style="normal" text-anchor="start" textLength="30.50" lengthAdjust="spacingAndGlyphs" >q-val =0.018</text>
<text x="255.80" y="291.90" font-family="Liberation Sans" font-size="9.0" fill="#222" font-weight="normal" font-style="normal" text-anchor="start" textLength="90.50" lengthAdjust="spacingAndGlyphs" stroke="#222" stroke-width="0.1" >Erythroid differentiation</text>
<rect x="248.30" y="346.10" width="105.70" height="50.30" fill="#fff" stroke="#3a3a3a" stroke-width="1.0"/>
<line x1="259.85" y1="366.00" x2="259.85" y2="395.40" stroke="#ececec" stroke-width="0.5" />
<line x1="271.10" y1="366.00" x2="271.10" y2="395.40" stroke="#ececec" stroke-width="0.5" />
<line x1="282.35" y1="366.00" x2="282.35" y2="395.40" stroke="#ececec" stroke-width="0.5" />
<line x1="293.60" y1="366.00" x2="293.60" y2="395.40" stroke="#ececec" stroke-width="0.5" />
<line x1="304.85" y1="366.00" x2="304.85" y2="395.40" stroke="#ececec" stroke-width="0.5" />
<line x1="316.10" y1="366.00" x2="316.10" y2="395.40" stroke="#ececec" stroke-width="0.5" />
<line x1="327.35" y1="366.00" x2="327.35" y2="395.40" stroke="#ececec" stroke-width="0.5" />
<line x1="338.60" y1="366.00" x2="338.60" y2="395.40" stroke="#ececec" stroke-width="0.5" />
<line x1="249.30" y1="372.25" x2="353.00" y2="372.25" stroke="#efefef" stroke-width="0.5" />
<line x1="249.30" y1="386.50" x2="353.00" y2="386.50" stroke="#efefef" stroke-width="0.5" />
<line x1="270.60" y1="347.30" x2="270.60" y2="361.90" stroke="#777" stroke-width="0.6" />
<line x1="277.25" y1="347.30" x2="277.25" y2="361.90" stroke="#555" stroke-width="0.6" />
<line x1="278.10" y1="347.30" x2="278.10" y2="361.90" stroke="#777" stroke-width="0.6" />
<line x1="280.60" y1="347.30" x2="280.60" y2="361.90" stroke="#888" stroke-width="0.6" />
<line x1="288.50" y1="347.30" x2="288.50" y2="361.90" stroke="#888" stroke-width="0.6" />
<line x1="291.50" y1="347.30" x2="291.50" y2="361.90" stroke="#888" stroke-width="0.6" />
<line x1="313.50" y1="347.30" x2="313.50" y2="361.90" stroke="#888" stroke-width="0.6" />
<line x1="324.75" y1="347.30" x2="324.75" y2="361.90" stroke="#666" stroke-width="0.7" />
<line x1="329.00" y1="347.30" x2="329.00" y2="361.90" stroke="#999" stroke-width="0.7" />
<line x1="333.10" y1="347.30" x2="333.10" y2="361.90" stroke="#aaa" stroke-width="0.7" />
<line x1="336.90" y1="347.30" x2="336.90" y2="361.90" stroke="#555" stroke-width="0.7" />
<line x1="340.00" y1="347.30" x2="340.00" y2="361.90" stroke="#888" stroke-width="0.7" />
<line x1="346.90" y1="347.30" x2="346.90" y2="361.90" stroke="#aaa" stroke-width="0.7" />
<rect x="248.60" y="361.90" width="13.90" height="3.60" fill="#e8252e" />
<rect x="262.50" y="361.90" width="6.25" height="3.60" fill="#ec4d6a" />
<rect x="268.75" y="361.90" width="10.65" height="3.60" fill="#f07a84" />
<rect x="279.40" y="361.90" width="13.70" height="3.60" fill="#f2c6dc" />
<rect x="293.10" y="361.90" width="19.40" height="3.60" fill="#dcdcf0" />
<rect x="312.50" y="361.90" width="12.00" height="3.60" fill="#cbcbe6" />
<rect x="324.50" y="361.90" width="5.50" height="3.60" fill="#5c5cb6" />
<rect x="330.00" y="361.90" width="18.75" height="3.60" fill="#3d3da8" />
<rect x="348.75" y="361.90" width="4.75" height="3.60" fill="#ffffff" />
<text x="250.30" y="368.2" font-family="Liberation Sans" font-size="2.6" fill="#e0202a" textLength="34.5" lengthAdjust="spacingAndGlyphs">'na_pos' (positively correlated)</text>
<path d="M248.90 379.4 L248.90 375.8 Q254.30 378.3 268.30 378.9 L337.98 380.2 Q345.98 380.8 347.48 383 L347.98 394 L347.98 379.4 Z" fill="#c9c9c9" stroke="#b5b5b5" stroke-width="0.4"/>
<line x1="248.90" y1="379.40" x2="347.98" y2="379.40" stroke="#9a9a9a" stroke-width="0.6" />
<text x="282.50" y="381.50" font-family="Liberation Sans" font-size="2.6" fill="#444" font-weight="normal" font-style="normal" text-anchor="start" textLength="21.00" lengthAdjust="spacingAndGlyphs" >Zero cross at 1688</text>
<text x="301.20" y="394.60" font-family="Liberation Sans" font-size="2.6" fill="#5a5ad0" font-weight="normal" font-style="normal" text-anchor="start" textLength="36.00" lengthAdjust="spacingAndGlyphs" >'na_neg' (negatively correlated)</text>
<line x1="245.30" y1="372.25" x2="248.30" y2="372.25" stroke="#333" stroke-width="0.9" />
<text x="243.50" y="374.95" font-family="Liberation Sans" font-size="8.0" fill="#2a2a2a" font-weight="normal" font-style="normal" text-anchor="end" textLength="4.60" lengthAdjust="spacingAndGlyphs" stroke="#2a2a2a" stroke-width="0.15" >5</text>
<line x1="245.30" y1="379.40" x2="248.30" y2="379.40" stroke="#333" stroke-width="0.9" />
<text x="243.50" y="382.10" font-family="Liberation Sans" font-size="8.0" fill="#2a2a2a" font-weight="normal" font-style="normal" text-anchor="end" textLength="4.60" lengthAdjust="spacingAndGlyphs" stroke="#2a2a2a" stroke-width="0.15" >0</text>
<line x1="245.30" y1="386.50" x2="248.30" y2="386.50" stroke="#333" stroke-width="0.9" />
<text x="243.50" y="389.20" font-family="Liberation Sans" font-size="8.0" fill="#2a2a2a" font-weight="normal" font-style="normal" text-anchor="end" textLength="9.50" lengthAdjust="spacingAndGlyphs" stroke="#2a2a2a" stroke-width="0.15" >−5</text>
<line x1="245.30" y1="394.10" x2="248.30" y2="394.10" stroke="#333" stroke-width="0.9" />
<text x="243.50" y="396.80" font-family="Liberation Sans" font-size="8.0" fill="#2a2a2a" font-weight="normal" font-style="normal" text-anchor="end" textLength="13.80" lengthAdjust="spacingAndGlyphs" stroke="#2a2a2a" stroke-width="0.15" >−10</text>
<line x1="248.30" y1="396.40" x2="248.30" y2="398.60" stroke="#333" stroke-width="0.9" />
<text x="248.30" y="408.30" font-family="Liberation Sans" font-size="7.7" fill="#2a2a2a" font-weight="normal" font-style="normal" text-anchor="middle" stroke="#2a2a2a" stroke-width="0.12" >0</text>
<line x1="270.80" y1="396.40" x2="270.80" y2="398.60" stroke="#333" stroke-width="0.9" />
<text x="270.80" y="408.30" font-family="Liberation Sans" font-size="7.7" fill="#2a2a2a" font-weight="normal" font-style="normal" text-anchor="middle" stroke="#2a2a2a" stroke-width="0.12" >500</text>
<line x1="293.30" y1="396.40" x2="293.30" y2="398.60" stroke="#333" stroke-width="0.9" />
<text x="293.30" y="408.30" font-family="Liberation Sans" font-size="7.7" fill="#2a2a2a" font-weight="normal" font-style="normal" text-anchor="middle" stroke="#2a2a2a" stroke-width="0.12" >1000</text>
<line x1="315.80" y1="396.40" x2="315.80" y2="398.60" stroke="#333" stroke-width="0.9" />
<text x="315.80" y="408.30" font-family="Liberation Sans" font-size="7.7" fill="#2a2a2a" font-weight="normal" font-style="normal" text-anchor="middle" stroke="#2a2a2a" stroke-width="0.12" >1500</text>
<line x1="338.30" y1="396.40" x2="338.30" y2="398.60" stroke="#333" stroke-width="0.9" />
<text x="338.30" y="408.30" font-family="Liberation Sans" font-size="7.7" fill="#2a2a2a" font-weight="normal" font-style="normal" text-anchor="middle" stroke="#2a2a2a" stroke-width="0.12" >2000</text>
<text x="271.25" y="421.00" font-family="Liberation Sans" font-size="10.2" fill="#222" font-weight="normal" font-style="normal" text-anchor="start" textLength="59.80" lengthAdjust="spacingAndGlyphs" stroke="#222" stroke-width="0.15" >Rank ordered dataset</text>
<text transform="translate(221.56,342.00) rotate(-90)" x="0" y="0" font-family="Liberation Sans" font-size="8.9" fill="#222" stroke="#222" stroke-width="0.12" font-style="normal" textLength="50.00" lengthAdjust="spacingAndGlyphs">Enrichment score</text>
<text transform="translate(221.56,397.60) rotate(-90)" x="0" y="0" font-family="Liberation Sans" font-size="8.9" fill="#222" stroke="#222" stroke-width="0.12" font-style="normal" textLength="47.10" lengthAdjust="spacingAndGlyphs">Ranked list metric</text>
<rect x="407.25" y="298.75" width="102.15" height="45.65" fill="#fff" stroke="#3a3a3a" stroke-width="1.0"/>
<line x1="418.80" y1="299.75" x2="418.80" y2="343.40" stroke="#ececec" stroke-width="0.5" />
<line x1="430.05" y1="299.75" x2="430.05" y2="343.40" stroke="#ececec" stroke-width="0.5" />
<line x1="441.30" y1="299.75" x2="441.30" y2="343.40" stroke="#ececec" stroke-width="0.5" />
<line x1="452.55" y1="299.75" x2="452.55" y2="343.40" stroke="#ececec" stroke-width="0.5" />
<line x1="463.80" y1="299.75" x2="463.80" y2="343.40" stroke="#ececec" stroke-width="0.5" />
<line x1="475.05" y1="299.75" x2="475.05" y2="343.40" stroke="#ececec" stroke-width="0.5" />
<line x1="486.30" y1="299.75" x2="486.30" y2="343.40" stroke="#ececec" stroke-width="0.5" />
<line x1="497.55" y1="299.75" x2="497.55" y2="343.40" stroke="#ececec" stroke-width="0.5" />
<line x1="408.25" y1="307.95" x2="508.40" y2="307.95" stroke="#efefef" stroke-width="0.5" />
<line x1="408.25" y1="313.40" x2="508.40" y2="313.40" stroke="#efefef" stroke-width="0.5" />
<line x1="408.25" y1="318.85" x2="508.40" y2="318.85" stroke="#efefef" stroke-width="0.5" />
<line x1="408.25" y1="324.30" x2="508.40" y2="324.30" stroke="#efefef" stroke-width="0.5" />
<line x1="408.25" y1="329.75" x2="508.40" y2="329.75" stroke="#efefef" stroke-width="0.5" />
<line x1="408.25" y1="335.20" x2="508.40" y2="335.20" stroke="#efefef" stroke-width="0.5" />
<line x1="408.25" y1="340.65" x2="508.40" y2="340.65" stroke="#efefef" stroke-width="0.5" />
<line x1="407.85" y1="302.50" x2="508.80" y2="302.50" stroke="#d4d4d4" stroke-width="1.0" />
<line x1="405.05" y1="302.50" x2="407.25" y2="302.50" stroke="#333" stroke-width="0.9" />
<text x="401.30" y="305.00" font-family="Liberation Sans" font-size="7.3" fill="#2a2a2a" font-weight="normal" font-style="normal" text-anchor="end" textLength="9.94" lengthAdjust="spacingAndGlyphs" stroke="#2a2a2a" stroke-width="0.15" >0.0</text>
<line x1="405.05" y1="307.95" x2="407.25" y2="307.95" stroke="#333" stroke-width="0.9" />
<text x="401.30" y="310.45" font-family="Liberation Sans" font-size="7.3" fill="#2a2a2a" font-weight="normal" font-style="normal" text-anchor="end" textLength="13.80" lengthAdjust="spacingAndGlyphs" stroke="#2a2a2a" stroke-width="0.15" >−0.1</text>
<line x1="405.05" y1="313.40" x2="407.25" y2="313.40" stroke="#333" stroke-width="0.9" />
<text x="401.30" y="315.90" font-family="Liberation Sans" font-size="7.3" fill="#2a2a2a" font-weight="normal" font-style="normal" text-anchor="end" textLength="13.80" lengthAdjust="spacingAndGlyphs" stroke="#2a2a2a" stroke-width="0.15" >−0.2</text>
<line x1="405.05" y1="318.85" x2="407.25" y2="318.85" stroke="#333" stroke-width="0.9" />
<text x="401.30" y="321.35" font-family="Liberation Sans" font-size="7.3" fill="#2a2a2a" font-weight="normal" font-style="normal" text-anchor="end" textLength="13.80" lengthAdjust="spacingAndGlyphs" stroke="#2a2a2a" stroke-width="0.15" >−0.3</text>
<line x1="405.05" y1="324.30" x2="407.25" y2="324.30" stroke="#333" stroke-width="0.9" />
<text x="401.30" y="326.80" font-family="Liberation Sans" font-size="7.3" fill="#2a2a2a" font-weight="normal" font-style="normal" text-anchor="end" textLength="13.80" lengthAdjust="spacingAndGlyphs" stroke="#2a2a2a" stroke-width="0.15" >−0.4</text>
<line x1="405.05" y1="329.75" x2="407.25" y2="329.75" stroke="#333" stroke-width="0.9" />
<text x="401.30" y="332.25" font-family="Liberation Sans" font-size="7.3" fill="#2a2a2a" font-weight="normal" font-style="normal" text-anchor="end" textLength="13.80" lengthAdjust="spacingAndGlyphs" stroke="#2a2a2a" stroke-width="0.15" >−0.5</text>
<line x1="405.05" y1="335.20" x2="407.25" y2="335.20" stroke="#333" stroke-width="0.9" />
<text x="401.30" y="337.70" font-family="Liberation Sans" font-size="7.3" fill="#2a2a2a" font-weight="normal" font-style="normal" text-anchor="end" textLength="13.80" lengthAdjust="spacingAndGlyphs" stroke="#2a2a2a" stroke-width="0.15" >−0.6</text>
<line x1="405.05" y1="340.65" x2="407.25" y2="340.65" stroke="#333" stroke-width="0.9" />
<text x="401.30" y="343.15" font-family="Liberation Sans" font-size="7.3" fill="#2a2a2a" font-weight="normal" font-style="normal" text-anchor="end" textLength="13.80" lengthAdjust="spacingAndGlyphs" stroke="#2a2a2a" stroke-width="0.15" >−0.7</text>
<path d="M407.60 302.50 L470.60 338.10 L473.00 335.50 L485.00 341.50 L487.50 337.00 L495.00 341.00 L496.00 336.50 L498.50 338.50 L499.20 333.00 L501.00 320.00 L502.00 317.00 L502.50 302.00 L503.60 301.20" fill="none" stroke="#4cb847" stroke-width="1.25" stroke-linejoin="round"/>
<text x="461.90" y="312.50" font-family="Liberation Sans" font-size="6.0" fill="#222" font-weight="normal" font-style="normal" text-anchor="start" textLength="26.80" lengthAdjust="spacingAndGlyphs" >NES=−2.05</text>
<text x="461.90" y="319.30" font-family="Liberation Sans" font-size="6.0" fill="#222" font-weight="normal" font-style="normal" text-anchor="start" textLength="30.50" lengthAdjust="spacingAndGlyphs" >q-val=0.004</text>
<text x="424.40" y="291.90" font-family="Liberation Sans" font-size="9.0" fill="#222" font-weight="normal" font-style="normal" text-anchor="start" textLength="67.00" lengthAdjust="spacingAndGlyphs" stroke="#222" stroke-width="0.1" >Platelet signature</text>
<rect x="407.25" y="346.10" width="102.15" height="50.30" fill="#fff" stroke="#3a3a3a" stroke-width="1.0"/>
<line x1="418.80" y1="366.00" x2="418.80" y2="395.40" stroke="#ececec" stroke-width="0.5" />
<line x1="430.05" y1="366.00" x2="430.05" y2="395.40" stroke="#ececec" stroke-width="0.5" />
<line x1="441.30" y1="366.00" x2="441.30" y2="395.40" stroke="#ececec" stroke-width="0.5" />
<line x1="452.55" y1="366.00" x2="452.55" y2="395.40" stroke="#ececec" stroke-width="0.5" />
<line x1="463.80" y1="366.00" x2="463.80" y2="395.40" stroke="#ececec" stroke-width="0.5" />
<line x1="475.05" y1="366.00" x2="475.05" y2="395.40" stroke="#ececec" stroke-width="0.5" />
<line x1="486.30" y1="366.00" x2="486.30" y2="395.40" stroke="#ececec" stroke-width="0.5" />
<line x1="497.55" y1="366.00" x2="497.55" y2="395.40" stroke="#ececec" stroke-width="0.5" />
<line x1="408.25" y1="372.25" x2="508.40" y2="372.25" stroke="#efefef" stroke-width="0.5" />
<line x1="408.25" y1="386.50" x2="508.40" y2="386.50" stroke="#efefef" stroke-width="0.5" />
<line x1="472.50" y1="347.30" x2="472.50" y2="361.90" stroke="#cfcfcf" stroke-width="2.0" />
<line x1="486.30" y1="347.30" x2="486.30" y2="361.90" stroke="#cfcfcf" stroke-width="1.8" />
<line x1="495.60" y1="347.30" x2="495.60" y2="361.90" stroke="#c8c8c8" stroke-width="1.2" />
<line x1="499.30" y1="347.30" x2="499.30" y2="361.90" stroke="#bdbdbd" stroke-width="2.0" />
<line x1="501.80" y1="347.30" x2="501.80" y2="361.90" stroke="#c4c4c4" stroke-width="1.8" />
<rect x="407.60" y="361.90" width="13.65" height="3.60" fill="#e8252e" />
<rect x="421.25" y="361.90" width="6.25" height="3.60" fill="#ec4d6a" />
<rect x="427.50" y="361.90" width="10.00" height="3.60" fill="#f07a84" />
<rect x="437.50" y="361.90" width="13.10" height="3.60" fill="#f2c6dc" />
<rect x="450.60" y="361.90" width="18.15" height="3.60" fill="#dcdcf0" />
<rect x="468.75" y="361.90" width="11.25" height="3.60" fill="#cbcbe6" />
<rect x="480.00" y="361.90" width="6.00" height="3.60" fill="#5c5cb6" />
<rect x="486.00" y="361.90" width="17.75" height="3.60" fill="#3d3da8" />
<rect x="503.75" y="361.90" width="5.25" height="3.60" fill="#ffffff" />
<text x="409.25" y="368.2" font-family="Liberation Sans" font-size="2.6" fill="#e0202a" textLength="33.0" lengthAdjust="spacingAndGlyphs">'na_pos' (positively correlated)</text>
<path d="M407.85 379.4 L407.85 375.8 Q413.25 378.3 427.25 378.9 L493.10 380.2 Q501.10 380.8 502.60 383 L503.10 394 L503.10 379.4 Z" fill="#c9c9c9" stroke="#b5b5b5" stroke-width="0.4"/>
<line x1="407.85" y1="379.40" x2="503.10" y2="379.40" stroke="#9a9a9a" stroke-width="0.6" />
<text x="440.00" y="381.50" font-family="Liberation Sans" font-size="2.6" fill="#444" font-weight="normal" font-style="normal" text-anchor="start" textLength="21.00" lengthAdjust="spacingAndGlyphs" >Zero cross at 1688</text>
<text x="458.10" y="394.60" font-family="Liberation Sans" font-size="2.6" fill="#5a5ad0" font-weight="normal" font-style="normal" text-anchor="start" textLength="36.00" lengthAdjust="spacingAndGlyphs" >'na_neg' (negatively correlated)</text>
<line x1="404.25" y1="372.25" x2="407.25" y2="372.25" stroke="#333" stroke-width="0.9" />
<text x="402.45" y="374.95" font-family="Liberation Sans" font-size="8.0" fill="#2a2a2a" font-weight="normal" font-style="normal" text-anchor="end" textLength="4.60" lengthAdjust="spacingAndGlyphs" stroke="#2a2a2a" stroke-width="0.15" >5</text>
<line x1="404.25" y1="379.40" x2="407.25" y2="379.40" stroke="#333" stroke-width="0.9" />
<text x="402.45" y="382.10" font-family="Liberation Sans" font-size="8.0" fill="#2a2a2a" font-weight="normal" font-style="normal" text-anchor="end" textLength="4.60" lengthAdjust="spacingAndGlyphs" stroke="#2a2a2a" stroke-width="0.15" >0</text>
<line x1="404.25" y1="386.50" x2="407.25" y2="386.50" stroke="#333" stroke-width="0.9" />
<text x="402.45" y="389.20" font-family="Liberation Sans" font-size="8.0" fill="#2a2a2a" font-weight="normal" font-style="normal" text-anchor="end" textLength="9.50" lengthAdjust="spacingAndGlyphs" stroke="#2a2a2a" stroke-width="0.15" >−5</text>
<line x1="404.25" y1="394.10" x2="407.25" y2="394.10" stroke="#333" stroke-width="0.9" />
<text x="402.45" y="396.80" font-family="Liberation Sans" font-size="8.0" fill="#2a2a2a" font-weight="normal" font-style="normal" text-anchor="end" textLength="13.80" lengthAdjust="spacingAndGlyphs" stroke="#2a2a2a" stroke-width="0.15" >−10</text>
<line x1="407.25" y1="396.40" x2="407.25" y2="398.60" stroke="#333" stroke-width="0.9" />
<text x="407.25" y="408.30" font-family="Liberation Sans" font-size="7.7" fill="#2a2a2a" font-weight="normal" font-style="normal" text-anchor="middle" stroke="#2a2a2a" stroke-width="0.12" >0</text>
<line x1="429.75" y1="396.40" x2="429.75" y2="398.60" stroke="#333" stroke-width="0.9" />
<text x="429.75" y="408.30" font-family="Liberation Sans" font-size="7.7" fill="#2a2a2a" font-weight="normal" font-style="normal" text-anchor="middle" stroke="#2a2a2a" stroke-width="0.12" >500</text>
<line x1="452.25" y1="396.40" x2="452.25" y2="398.60" stroke="#333" stroke-width="0.9" />
<text x="452.25" y="408.30" font-family="Liberation Sans" font-size="7.7" fill="#2a2a2a" font-weight="normal" font-style="normal" text-anchor="middle" stroke="#2a2a2a" stroke-width="0.12" >1000</text>
<line x1="474.75" y1="396.40" x2="474.75" y2="398.60" stroke="#333" stroke-width="0.9" />
<text x="474.75" y="408.30" font-family="Liberation Sans" font-size="7.7" fill="#2a2a2a" font-weight="normal" font-style="normal" text-anchor="middle" stroke="#2a2a2a" stroke-width="0.12" >1500</text>
<line x1="497.25" y1="396.40" x2="497.25" y2="398.60" stroke="#333" stroke-width="0.9" />
<text x="497.25" y="408.30" font-family="Liberation Sans" font-size="7.7" fill="#2a2a2a" font-weight="normal" font-style="normal" text-anchor="middle" stroke="#2a2a2a" stroke-width="0.12" >2000</text>
<text x="427.75" y="421.00" font-family="Liberation Sans" font-size="10.2" fill="#222" font-weight="normal" font-style="normal" text-anchor="start" textLength="60.00" lengthAdjust="spacingAndGlyphs" stroke="#222" stroke-width="0.15" >Rank ordered dataset</text>
<text transform="translate(380.81,342.00) rotate(-90)" x="0" y="0" font-family="Liberation Sans" font-size="8.9" fill="#222" stroke="#222" stroke-width="0.12" font-style="normal" textLength="50.00" lengthAdjust="spacingAndGlyphs">Enrichment score</text>
<text transform="translate(380.81,397.60) rotate(-90)" x="0" y="0" font-family="Liberation Sans" font-size="8.9" fill="#222" stroke="#222" stroke-width="0.12" font-style="normal" textLength="47.10" lengthAdjust="spacingAndGlyphs">Ranked list metric</text>
</svg></body></html>
